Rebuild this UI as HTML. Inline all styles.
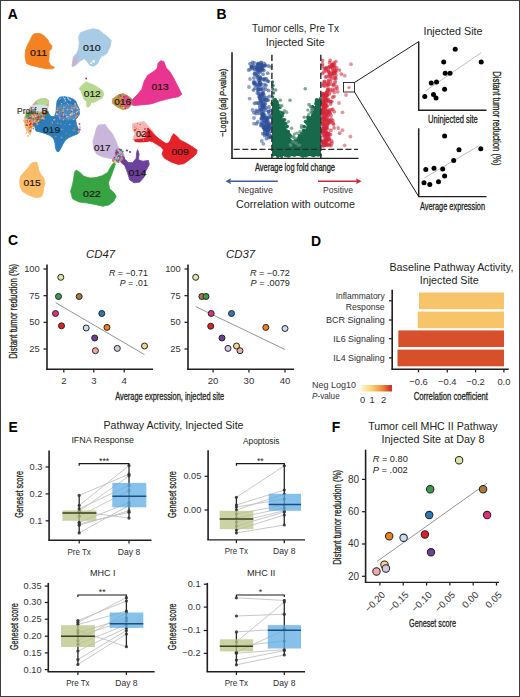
<!DOCTYPE html>
<html><head><meta charset="utf-8"><style>
html,body{margin:0;padding:0;background:#fff;}
svg{display:block;}
text{font-family:"Liberation Sans", sans-serif;}
</style></head><body>
<svg width="520" height="697" viewBox="0 0 520 697">
<rect x="0" y="0" width="520" height="697" fill="#fff"/>
<text x="7.8" y="19.4" font-size="13.9" text-anchor="start" fill="#000" font-weight="bold" >A</text>
<text x="216.4" y="19.4" font-size="13.9" text-anchor="start" fill="#000" font-weight="bold" >B</text>
<text x="8.1" y="245.4" font-size="13.9" text-anchor="start" fill="#000" font-weight="bold" >C</text>
<text x="311" y="245.5" font-size="13.9" text-anchor="start" fill="#000" font-weight="bold" >D</text>
<text x="8.4" y="431.7" font-size="13.9" text-anchor="start" fill="#000" font-weight="bold" >E</text>
<text x="331.8" y="432.1" font-size="13.9" text-anchor="start" fill="#000" font-weight="bold" >F</text>
<defs><filter id="fb" x="-5%" y="-5%" width="110%" height="110%"><feGaussianBlur stdDeviation="0.35"/></filter></defs><g filter="url(#fb)">
<path d="M34.2,33.7 L40.0,33.5 L43.8,35.6 L47.7,39.4 L49.6,43.3 L52.0,45.7 L51.5,49.0 L49.1,51.0 L49.1,55.8 L48.7,61.5 L50.6,65.4 L54.4,67.3 L53.0,68.8 L46.7,68.8 L39.0,67.3 L31.3,65.4 L26.5,63.5 L25.1,56.7 L25.6,50.0 L27.5,45.2 L30.4,39.4 L32.3,35.6Z" fill="#f58220" stroke="#f58220" stroke-width="0.8" stroke-linejoin="round"/>
<path d="M80.4,32.7 L87.1,30.3 L92.9,28.8 L98.7,29.8 L103.5,33.7 L107.3,36.5 L111.2,40.4 L110.2,46.2 L107.3,52.9 L103.5,55.8 L99.6,58.7 L97.7,63.5 L93.8,66.3 L90.0,65.4 L87.1,61.5 L84.2,58.7 L79.4,61.5 L75.6,65.4 L72.2,65.4 L73.2,56.7 L76.5,53.8 L78.5,49.0 L79.4,42.3 L78.5,37.5Z" fill="#a8cce6" stroke="#a8cce6" stroke-width="0.8" stroke-linejoin="round"/>
<path d="M86.2,81.9 L90.0,83.5 L93.8,85.0 L97.7,87.3 L102.3,90.4 L103.8,94.2 L102.3,98.0 L99.2,99.6 L95.4,101.9 L90.8,102.7 L90.0,105.8 L87.7,107.3 L86.5,105.8 L86.9,101.9 L83.8,98.8 L82.3,95.0 L80.8,90.4 L79.2,88.8 L80.8,86.5 L83.8,83.5Z" fill="#b6d88f" stroke="#b6d88f" stroke-width="0.8" stroke-linejoin="round"/>
<path d="M160.6,60.7 L163.8,61.5 L166.3,68.1 L169.6,71.3 L173.6,77.9 L176.9,84.4 L180.2,91.0 L181.8,94.2 L178.6,96.7 L170.4,98.3 L160.6,100.8 L150.8,104.0 L141.0,104.9 L134.0,105.5 L130.0,104.0 L129.5,101.5 L133.0,99.1 L137.7,94.2 L141.8,89.3 L144.2,81.2 L147.5,75.4 L154.0,71.3 L157.3,68.1 L158.1,63.2Z" fill="#e8358f" stroke="#e8358f" stroke-width="0.8" stroke-linejoin="round"/>
<path d="M112.4,99.1 L118.1,95.0 L123.0,93.4 L127.9,95.9 L132.0,99.1 L132.0,104.0 L128.7,108.1 L123.0,109.8 L116.4,106.5 L112.4,103.2Z" fill="#c0944c" stroke="#c0944c" stroke-width="0.8" stroke-linejoin="round"/>
<path d="M32.1,162.7 L36.9,162.2 L37.9,165.6 L38.8,170.4 L40.8,174.2 L43.7,178.1 L45.1,182.9 L43.7,187.7 L43.2,192.5 L41.7,196.3 L37.9,197.8 L33.1,196.8 L27.3,194.4 L22.5,191.5 L20.1,186.7 L19.6,181.0 L20.6,176.2 L24.4,171.8 L28.3,167.5 L30.7,164.1Z" fill="#fbbd6b" stroke="#fbbd6b" stroke-width="0.8" stroke-linejoin="round"/>
<path d="M76.2,170.0 L80.0,172.5 L83.8,176.2 L90.0,178.1 L96.2,177.5 L102.5,175.6 L107.5,172.5 L111.2,166.2 L113.8,162.5 L115.5,164.0 L112.0,173.8 L108.5,182.5 L109.5,188.8 L113.8,192.5 L116.2,196.2 L113.8,201.2 L108.8,205.0 L102.5,206.2 L95.0,204.4 L87.5,203.1 L78.8,201.9 L72.5,198.8 L70.6,191.2 L72.5,185.0 L73.8,177.5 L74.4,172.5Z" fill="#37a343" stroke="#37a343" stroke-width="0.8" stroke-linejoin="round"/>
<path d="M132.6,123.7 L139.8,122.2 L144.1,121.5 L148.5,126.5 L152.8,130.9 L155.7,136.6 L154.2,140.2 L145.6,141.0 L136.9,141.7 L132.6,139.5 L134.8,133.8 L132.6,128.7Z" fill="#f5b5b2" stroke="#f5b5b2" stroke-width="0.8" stroke-linejoin="round"/>
<path d="M148.0,128.0 L151.0,131.0 L154.0,134.5 L158.0,138.0 L162.0,141.0 L166.0,143.5 L168.5,143.0 L170.5,140.0 L171.5,137.0 L173.5,133.8 L176.9,136.2 L180.4,140.2 L186.2,143.1 L191.9,146.5 L197.1,150.0 L196.5,153.5 L193.1,156.9 L188.5,160.4 L183.8,163.8 L178.1,164.4 L171.2,162.1 L164.2,158.1 L162.0,154.0 L163.5,150.0 L161.0,147.0 L157.0,144.5 L153.0,142.0 L149.5,141.0 L146.5,141.5 L144.0,140.5Z" fill="#e5202a" stroke="#e5202a" stroke-width="0.8" stroke-linejoin="round"/>
<path d="M98.7,125.1 L105.2,124.4 L108.1,128.7 L112.4,133.8 L115.3,139.5 L117.5,145.3 L119.6,151.1 L121.1,155.4 L118.2,158.3 L113.8,159.0 L109.5,158.3 L102.3,156.8 L96.5,153.9 L93.7,148.2 L92.9,141.0 L95.1,133.8 L96.5,128.0Z" fill="#cab6da" stroke="#cab6da" stroke-width="0.8" stroke-linejoin="round"/>
<path d="M137.6,149.6 L139.1,153.9 L138.4,159.7 L142.7,161.2 L148.5,160.4 L149.2,164.8 L145.6,171.3 L144.1,177.0 L139.8,182.1 L134.0,182.8 L129.7,179.9 L127.5,172.7 L124.7,165.5 L121.1,162.6 L119.6,158.3 L123.9,158.3 L128.3,162.6 L132.6,162.6 L136.2,158.3 L136.6,152.5Z" fill="#6b439c" stroke="#6b439c" stroke-width="0.8" stroke-linejoin="round"/>
<path d="M134.0,139.5 L140.0,138.8 L146.0,138.0 L150.0,136.5 L152.5,139.5 L147.0,142.0 L140.0,142.5 L135.0,142.0Z" fill="#e5202a" />
<circle cx="140.1" cy="124.5" r="0.5289745146670171" fill="#e31a1c" fill-opacity="0.9"/>
<circle cx="145.0" cy="128.9" r="0.863881625257241" fill="#e31a1c" fill-opacity="0.9"/>
<circle cx="137.6" cy="123.2" r="0.5279421694298476" fill="#f06060" fill-opacity="0.9"/>
<circle cx="134.7" cy="130.1" r="0.878979880282995" fill="#e31a1c" fill-opacity="0.9"/>
<circle cx="147.2" cy="133.3" r="0.7308411794469994" fill="#e31a1c" fill-opacity="0.9"/>
<circle cx="141.8" cy="141.2" r="0.722665959174837" fill="#e31a1c" fill-opacity="0.9"/>
<circle cx="135.7" cy="130.0" r="0.7283654758586937" fill="#e31a1c" fill-opacity="0.9"/>
<circle cx="145.5" cy="135.3" r="0.7326400654649865" fill="#e31a1c" fill-opacity="0.9"/>
<circle cx="147.4" cy="129.0" r="0.7257473172533546" fill="#e31a1c" fill-opacity="0.9"/>
<circle cx="146.9" cy="131.5" r="0.8108915099923228" fill="#f06060" fill-opacity="0.9"/>
<circle cx="143.4" cy="140.2" r="0.6199067987454729" fill="#fb9a99" fill-opacity="0.9"/>
<circle cx="151.0" cy="135.6" r="0.532742004318308" fill="#e31a1c" fill-opacity="0.9"/>
<circle cx="139.5" cy="131.5" r="0.7917781157756871" fill="#fb9a99" fill-opacity="0.9"/>
<circle cx="139.3" cy="141.3" r="0.7047731322590196" fill="#e31a1c" fill-opacity="0.9"/>
<circle cx="136.4" cy="128.4" r="0.6686793417906978" fill="#f06060" fill-opacity="0.9"/>
<circle cx="145.5" cy="137.4" r="0.6360489448764782" fill="#fb9a99" fill-opacity="0.9"/>
<circle cx="140.7" cy="131.5" r="0.5275051797627442" fill="#f06060" fill-opacity="0.9"/>
<circle cx="134.8" cy="127.0" r="0.5242677710388879" fill="#e31a1c" fill-opacity="0.9"/>
<circle cx="148.8" cy="134.6" r="0.6138382128376597" fill="#f06060" fill-opacity="0.9"/>
<circle cx="141.5" cy="135.0" r="0.8762594266584376" fill="#e31a1c" fill-opacity="0.9"/>
<circle cx="140.8" cy="133.8" r="0.5235817677325242" fill="#f06060" fill-opacity="0.9"/>
<circle cx="138.3" cy="129.4" r="0.5322325204800554" fill="#f06060" fill-opacity="0.9"/>
<path d="M77.0,55.0 L79.5,56.5 L78.0,60.0 L75.5,64.0 L73.5,67.0 L71.8,66.5 L72.5,62.0 L74.5,58.0Z" fill="#c9b3d6" />
<circle cx="75.3" cy="61.6" r="0.7457839513507224" fill="#cab2d6" fill-opacity="0.9"/>
<circle cx="78.5" cy="58.3" r="0.7959401243003559" fill="#a6cee3" fill-opacity="0.9"/>
<circle cx="77.1" cy="59.6" r="0.5452762717373327" fill="#cab2d6" fill-opacity="0.9"/>
<circle cx="73.6" cy="60.8" r="0.5788239857895614" fill="#cab2d6" fill-opacity="0.9"/>
<circle cx="74.6" cy="61.8" r="0.7071480971407934" fill="#cab2d6" fill-opacity="0.9"/>
<circle cx="75.8" cy="62.4" r="0.6369931166608624" fill="#fb9a99" fill-opacity="0.9"/>
<circle cx="74.9" cy="59.7" r="0.6902868697057127" fill="#a6cee3" fill-opacity="0.9"/>
<circle cx="72.0" cy="65.5" r="0.5445651455992674" fill="#a6cee3" fill-opacity="0.9"/>
<circle cx="75.4" cy="60.8" r="0.5432352470655463" fill="#fb9a99" fill-opacity="0.9"/>
<circle cx="75.5" cy="63.3" r="0.5615645020104623" fill="#fb9a99" fill-opacity="0.9"/>
<circle cx="93.5" cy="61.5" r="1.4" fill="#fff"/>
<circle cx="91.0" cy="63.2" r="0.9" fill="#fff"/>
<circle cx="102.0" cy="56.5" r="0.8" fill="#eef4f8"/>
<path d="M31.0,127.0 L34.0,121.0 L38.0,117.5 L43.0,114.5 L47.5,111.0 L48.5,113.0 L51.0,116.5 L54.5,116.5 L56.0,112.0 L56.5,106.0 L57.0,101.0 L59.5,97.2 L64.0,96.5 L69.0,97.5 L73.0,99.0 L75.7,101.0 L77.5,105.5 L79.3,109.0 L79.3,114.6 L77.0,118.0 L75.7,119.5 L76.5,125.0 L78.4,129.0 L79.5,132.0 L77.5,134.0 L73.5,135.5 L69.0,137.5 L65.5,140.0 L63.0,144.0 L61.0,148.0 L59.0,151.5 L57.0,151.5 L55.5,148.0 L55.0,143.0 L53.5,138.5 L50.0,135.5 L45.0,133.5 L40.0,132.0 L36.0,131.0 L34.5,126.0Z" fill="#2a7bba" stroke="#2a7bba" stroke-width="0.8" stroke-linejoin="round"/>
<path d="M24.5,118.0 L26.0,113.0 L29.0,109.0 L33.0,104.5 L36.5,100.5 L41.0,98.7 L46.0,98.5 L48.5,100.5 L48.5,105.0 L47.5,109.0 L46.0,112.0 L41.0,115.5 L36.0,119.0 L33.0,123.0 L31.5,130.0 L30.0,134.5 L27.0,131.0 L25.0,126.0Z" fill="#c7ab8c" stroke="#c7ab8c" stroke-width="0.6" stroke-linejoin="round"/>
<path d="M36.0,101.0 L41.0,98.9 L46.0,98.7 L48.3,100.7 L48.2,104.0 L44.0,105.5 L38.0,105.0Z" fill="#b4d98d" />
<path d="M32.5,105.0 L38.0,105.2 L41.0,107.5 L39.0,110.5 L34.0,110.0Z" fill="#b9d3e3" />
<path d="M26.3,113.5 L29.0,110.5 L33.0,112.5 L33.5,117.5 L28.0,119.5 L25.5,117.0Z" fill="#56a862" />
<path d="M24.6,118.5 L27.5,119.0 L30.5,121.0 L31.5,126.0 L31.0,131.0 L30.0,134.5 L27.0,131.0 L25.0,126.0Z" fill="#f5bd86" />
<path d="M30.0,106.5 L36.0,104.5 L44.0,104.8 L47.8,106.0 L47.8,110.0 L44.0,111.5 L36.0,111.5 L30.0,110.5Z" fill="#d3e2e8" />
<circle cx="43.5" cy="114.2" r="0.9453300121158675" fill="#cab2d6" fill-opacity="0.8"/>
<circle cx="42.3" cy="113.7" r="0.963303417465216" fill="#a6cee3" fill-opacity="0.8"/>
<circle cx="35.3" cy="113.1" r="0.9116219565352709" fill="#1f78b4" fill-opacity="0.8"/>
<circle cx="34.8" cy="113.1" r="0.922431433914267" fill="#fb9a99" fill-opacity="0.8"/>
<circle cx="32.6" cy="117.2" r="0.8924015969901684" fill="#a6cee3" fill-opacity="0.8"/>
<circle cx="37.7" cy="112.7" r="0.9826060305365352" fill="#1f78b4" fill-opacity="0.8"/>
<circle cx="37.2" cy="123.1" r="0.9820002525285333" fill="#a6cee3" fill-opacity="0.8"/>
<circle cx="35.5" cy="113.1" r="0.788031992902476" fill="#fb9a99" fill-opacity="0.8"/>
<circle cx="34.9" cy="116.8" r="0.9361742109117159" fill="#1f78b4" fill-opacity="0.8"/>
<circle cx="37.8" cy="119.1" r="0.633911394580152" fill="#cab2d6" fill-opacity="0.8"/>
<circle cx="37.8" cy="112.5" r="0.733006879945844" fill="#cab2d6" fill-opacity="0.8"/>
<circle cx="36.1" cy="115.6" r="0.889919466253686" fill="#ff7f00" fill-opacity="0.8"/>
<circle cx="31.5" cy="111.8" r="0.8363249209667805" fill="#6a3d9a" fill-opacity="0.8"/>
<circle cx="37.5" cy="119.2" r="0.9306041914101548" fill="#1f78b4" fill-opacity="0.8"/>
<circle cx="35.2" cy="117.7" r="0.6085586697287647" fill="#6a3d9a" fill-opacity="0.8"/>
<circle cx="28.6" cy="113.0" r="0.6962157570233338" fill="#1f78b4" fill-opacity="0.8"/>
<circle cx="40.0" cy="113.6" r="0.9336779985757877" fill="#b15928" fill-opacity="0.8"/>
<circle cx="44.7" cy="117.2" r="0.6523053036088495" fill="#1f78b4" fill-opacity="0.8"/>
<circle cx="31.1" cy="117.1" r="0.9106024628374215" fill="#fdbf6f" fill-opacity="0.8"/>
<circle cx="40.5" cy="120.9" r="0.6689386848853796" fill="#6a3d9a" fill-opacity="0.8"/>
<circle cx="37.7" cy="120.2" r="0.6247021148383085" fill="#1f78b4" fill-opacity="0.8"/>
<circle cx="42.0" cy="117.4" r="0.9137089901461902" fill="#fdbf6f" fill-opacity="0.8"/>
<circle cx="30.2" cy="117.8" r="0.6765224524644526" fill="#fb9a99" fill-opacity="0.8"/>
<circle cx="28.9" cy="111.4" r="0.8246917546625905" fill="#fdbf6f" fill-opacity="0.8"/>
<circle cx="37.1" cy="118.6" r="0.8424550727372213" fill="#1f78b4" fill-opacity="0.8"/>
<circle cx="32.1" cy="113.9" r="0.8133141750316684" fill="#1f78b4" fill-opacity="0.8"/>
<circle cx="47.3" cy="113.6" r="0.957101976702413" fill="#1f78b4" fill-opacity="0.8"/>
<circle cx="32.2" cy="116.3" r="0.6486487817536722" fill="#b15928" fill-opacity="0.8"/>
<circle cx="46.4" cy="112.2" r="0.8573831995137229" fill="#33a02c" fill-opacity="0.8"/>
<circle cx="35.5" cy="113.5" r="0.9870179130665535" fill="#6a3d9a" fill-opacity="0.8"/>
<circle cx="36.2" cy="116.8" r="0.932977867793179" fill="#cab2d6" fill-opacity="0.8"/>
<circle cx="31.3" cy="116.0" r="0.7615239004466419" fill="#1f78b4" fill-opacity="0.8"/>
<circle cx="36.6" cy="115.0" r="0.8888603340564742" fill="#ff7f00" fill-opacity="0.8"/>
<circle cx="28.4" cy="117.8" r="0.8812605500760138" fill="#fdbf6f" fill-opacity="0.8"/>
<circle cx="35.9" cy="117.2" r="0.8049049137853822" fill="#33a02c" fill-opacity="0.8"/>
<circle cx="30.1" cy="113.7" r="0.9623594754308386" fill="#e31a1c" fill-opacity="0.8"/>
<circle cx="31.7" cy="120.6" r="0.939835130904358" fill="#b15928" fill-opacity="0.8"/>
<circle cx="36.3" cy="117.5" r="0.8282379701573015" fill="#1f78b4" fill-opacity="0.8"/>
<circle cx="45.6" cy="110.9" r="0.7815094083891699" fill="#ff7f00" fill-opacity="0.8"/>
<circle cx="35.0" cy="117.7" r="0.8486813817299151" fill="#33a02c" fill-opacity="0.8"/>
<circle cx="33.4" cy="112.5" r="0.8514684388190668" fill="#33a02c" fill-opacity="0.8"/>
<circle cx="38.9" cy="112.9" r="0.8000354399447358" fill="#fdbf6f" fill-opacity="0.8"/>
<circle cx="31.6" cy="114.9" r="0.9977995939566158" fill="#e31a1c" fill-opacity="0.8"/>
<circle cx="38.5" cy="113.4" r="0.6425125380108365" fill="#fdbf6f" fill-opacity="0.8"/>
<circle cx="44.8" cy="116.1" r="0.8183625007707296" fill="#fdbf6f" fill-opacity="0.8"/>
<circle cx="34.3" cy="113.0" r="0.7370818501669898" fill="#fb9a99" fill-opacity="0.8"/>
<circle cx="41.0" cy="115.7" r="0.9927527727317468" fill="#a6cee3" fill-opacity="0.8"/>
<circle cx="41.6" cy="115.3" r="0.8682173191634714" fill="#1f78b4" fill-opacity="0.8"/>
<circle cx="33.8" cy="113.4" r="0.618094996987143" fill="#33a02c" fill-opacity="0.8"/>
<circle cx="31.8" cy="113.8" r="0.7052972267989557" fill="#e31a1c" fill-opacity="0.8"/>
<circle cx="39.2" cy="113.4" r="0.6871463428633926" fill="#33a02c" fill-opacity="0.8"/>
<circle cx="31.8" cy="114.7" r="0.7898574509588744" fill="#ff7f00" fill-opacity="0.8"/>
<circle cx="38.3" cy="112.8" r="0.910495230570288" fill="#1f78b4" fill-opacity="0.8"/>
<circle cx="30.9" cy="118.2" r="0.608997658788103" fill="#b15928" fill-opacity="0.8"/>
<circle cx="34.2" cy="113.3" r="0.9830548719441579" fill="#1f78b4" fill-opacity="0.8"/>
<circle cx="45.5" cy="112.2" r="0.913616442320021" fill="#33a02c" fill-opacity="0.8"/>
<circle cx="40.2" cy="120.7" r="0.9938916340297185" fill="#33a02c" fill-opacity="0.8"/>
<circle cx="31.1" cy="120.1" r="0.6579008848780038" fill="#cab2d6" fill-opacity="0.8"/>
<circle cx="38.5" cy="116.0" r="0.9248875662849576" fill="#33a02c" fill-opacity="0.8"/>
<circle cx="30.9" cy="117.3" r="0.8273917997924614" fill="#1f78b4" fill-opacity="0.8"/>
<circle cx="28.4" cy="117.4" r="0.7957177259439018" fill="#fb9a99" fill-opacity="0.8"/>
<circle cx="43.3" cy="117.0" r="0.6367767711260899" fill="#1f78b4" fill-opacity="0.8"/>
<circle cx="38.8" cy="120.4" r="0.7008774125850761" fill="#fdbf6f" fill-opacity="0.8"/>
<circle cx="29.5" cy="113.7" r="0.9025765603936241" fill="#33a02c" fill-opacity="0.8"/>
<circle cx="32.7" cy="119.1" r="0.7975795115397312" fill="#fdbf6f" fill-opacity="0.8"/>
<circle cx="35.8" cy="116.7" r="0.714927666684896" fill="#cab2d6" fill-opacity="0.8"/>
<circle cx="29.0" cy="118.9" r="0.6309887278071202" fill="#fb9a99" fill-opacity="0.8"/>
<circle cx="31.0" cy="113.6" r="0.8771547296774898" fill="#33a02c" fill-opacity="0.8"/>
<circle cx="40.7" cy="111.9" r="0.6242644056254567" fill="#fdbf6f" fill-opacity="0.8"/>
<circle cx="33.5" cy="119.4" r="0.6870773842206825" fill="#33a02c" fill-opacity="0.8"/>
<circle cx="38.0" cy="119.9" r="0.7858651413497257" fill="#33a02c" fill-opacity="0.8"/>
<circle cx="37.6" cy="111.7" r="0.6797000119438013" fill="#1f78b4" fill-opacity="0.8"/>
<circle cx="28.4" cy="116.4" r="0.9872433006602799" fill="#1f78b4" fill-opacity="0.8"/>
<circle cx="37.2" cy="113.8" r="0.9666219113635637" fill="#fb9a99" fill-opacity="0.8"/>
<circle cx="47.1" cy="111.0" r="0.6566962711438125" fill="#ff7f00" fill-opacity="0.8"/>
<circle cx="38.4" cy="122.4" r="0.7460754103403795" fill="#33a02c" fill-opacity="0.8"/>
<circle cx="38.2" cy="122.3" r="0.6099337612362661" fill="#b15928" fill-opacity="0.8"/>
<circle cx="37.2" cy="114.2" r="0.766472477745891" fill="#6a3d9a" fill-opacity="0.8"/>
<circle cx="35.7" cy="111.7" r="0.6006965527670013" fill="#a6cee3" fill-opacity="0.8"/>
<circle cx="33.9" cy="115.2" r="0.7560644268953577" fill="#b15928" fill-opacity="0.8"/>
<circle cx="45.8" cy="111.1" r="0.9022625573729135" fill="#b15928" fill-opacity="0.8"/>
<circle cx="45.5" cy="113.9" r="0.9338703979908769" fill="#e31a1c" fill-opacity="0.8"/>
<circle cx="33.1" cy="113.7" r="0.7262405490572722" fill="#1f78b4" fill-opacity="0.8"/>
<circle cx="43.6" cy="115.6" r="0.8196912592751855" fill="#1f78b4" fill-opacity="0.8"/>
<circle cx="43.0" cy="116.3" r="0.8577962841674054" fill="#6a3d9a" fill-opacity="0.8"/>
<circle cx="47.0" cy="111.8" r="0.7659466604699577" fill="#fdbf6f" fill-opacity="0.8"/>
<circle cx="33.8" cy="113.6" r="0.9905184705639416" fill="#33a02c" fill-opacity="0.8"/>
<circle cx="33.3" cy="119.2" r="0.7932728098551085" fill="#33a02c" fill-opacity="0.8"/>
<circle cx="41.7" cy="111.7" r="0.6646627845620232" fill="#cab2d6" fill-opacity="0.8"/>
<circle cx="38.2" cy="113.1" r="0.9985900454498764" fill="#a6cee3" fill-opacity="0.8"/>
<circle cx="37.2" cy="112.0" r="0.6976342531761959" fill="#fb9a99" fill-opacity="0.8"/>
<circle cx="31.6" cy="117.8" r="0.6956506322869818" fill="#a6cee3" fill-opacity="0.8"/>
<circle cx="33.3" cy="118.0" r="0.8998630430418715" fill="#e31a1c" fill-opacity="0.8"/>
<circle cx="36.5" cy="115.8" r="0.6840019743945176" fill="#1f78b4" fill-opacity="0.8"/>
<circle cx="33.5" cy="120.5" r="0.7110065387913012" fill="#fdbf6f" fill-opacity="0.8"/>
<circle cx="47.8" cy="111.8" r="0.8116902787376252" fill="#1f78b4" fill-opacity="0.8"/>
<circle cx="35.9" cy="119.0" r="0.9815774301052571" fill="#b15928" fill-opacity="0.8"/>
<circle cx="37.7" cy="118.2" r="0.629255152915481" fill="#e31a1c" fill-opacity="0.8"/>
<circle cx="38.8" cy="116.6" r="0.6993861132356738" fill="#fdbf6f" fill-opacity="0.8"/>
<circle cx="30.2" cy="112.2" r="0.9887550076308103" fill="#1f78b4" fill-opacity="0.8"/>
<circle cx="46.3" cy="111.2" r="0.600546415991481" fill="#e31a1c" fill-opacity="0.8"/>
<circle cx="30.6" cy="118.0" r="0.8582023105472971" fill="#e31a1c" fill-opacity="0.8"/>
<circle cx="34.2" cy="111.8" r="0.8113012571224305" fill="#33a02c" fill-opacity="0.8"/>
<circle cx="37.0" cy="120.7" r="0.6281407633434214" fill="#ff7f00" fill-opacity="0.8"/>
<circle cx="38.8" cy="118.2" r="0.704352752040574" fill="#b15928" fill-opacity="0.8"/>
<circle cx="33.7" cy="114.4" r="0.7901216880270174" fill="#fb9a99" fill-opacity="0.8"/>
<circle cx="32.8" cy="113.5" r="0.8818614651252328" fill="#b15928" fill-opacity="0.8"/>
<circle cx="38.2" cy="119.4" r="0.6324368275918248" fill="#b15928" fill-opacity="0.8"/>
<circle cx="32.7" cy="115.9" r="0.6907144292978747" fill="#a6cee3" fill-opacity="0.8"/>
<circle cx="28.7" cy="114.7" r="0.7449279567079743" fill="#b15928" fill-opacity="0.8"/>
<circle cx="34.0" cy="121.8" r="0.6820874348154533" fill="#ff7f00" fill-opacity="0.8"/>
<circle cx="44.8" cy="113.2" r="0.7060087822689733" fill="#fb9a99" fill-opacity="0.8"/>
<circle cx="46.2" cy="111.5" r="0.7983058917823384" fill="#1f78b4" fill-opacity="0.8"/>
<circle cx="31.8" cy="113.1" r="0.9641583998957105" fill="#b15928" fill-opacity="0.8"/>
<circle cx="29.2" cy="118.3" r="0.6217433518557223" fill="#b15928" fill-opacity="0.8"/>
<circle cx="28.5" cy="118.3" r="0.6207362166340905" fill="#b15928" fill-opacity="0.8"/>
<circle cx="29.2" cy="115.5" r="0.9534334549731015" fill="#33a02c" fill-opacity="0.8"/>
<circle cx="47.1" cy="114.6" r="0.8609872994896219" fill="#6a3d9a" fill-opacity="0.8"/>
<circle cx="38.8" cy="116.5" r="0.8657719454925576" fill="#33a02c" fill-opacity="0.8"/>
<circle cx="35.8" cy="115.2" r="0.776974058655682" fill="#a6cee3" fill-opacity="0.8"/>
<circle cx="29.7" cy="115.9" r="0.8244515656360125" fill="#ff7f00" fill-opacity="0.8"/>
<circle cx="43.6" cy="115.3" r="0.9288031929848678" fill="#33a02c" fill-opacity="0.8"/>
<circle cx="37.7" cy="115.2" r="0.6772104749778187" fill="#fdbf6f" fill-opacity="0.8"/>
<circle cx="35.5" cy="122.6" r="0.8526648503863865" fill="#e31a1c" fill-opacity="0.8"/>
<circle cx="33.1" cy="118.8" r="0.616259793566369" fill="#b15928" fill-opacity="0.8"/>
<circle cx="46.9" cy="113.6" r="0.625140696461653" fill="#33a02c" fill-opacity="0.8"/>
<circle cx="40.4" cy="115.1" r="0.9830758421235156" fill="#a6cee3" fill-opacity="0.8"/>
<circle cx="40.6" cy="113.7" r="0.8758309373750794" fill="#33a02c" fill-opacity="0.8"/>
<circle cx="46.9" cy="114.2" r="0.9022609490024094" fill="#33a02c" fill-opacity="0.8"/>
<circle cx="47.3" cy="110.3" r="0.6429045482730539" fill="#fb9a99" fill-opacity="0.8"/>
<circle cx="42.7" cy="116.5" r="0.9159195430607998" fill="#b15928" fill-opacity="0.8"/>
<circle cx="30.7" cy="117.0" r="0.9210273293586261" fill="#e31a1c" fill-opacity="0.8"/>
<circle cx="43.8" cy="118.5" r="0.9444969484792614" fill="#a6cee3" fill-opacity="0.8"/>
<circle cx="37.4" cy="121.0" r="0.6316059485432052" fill="#1f78b4" fill-opacity="0.8"/>
<circle cx="32.0" cy="120.5" r="0.763102707459727" fill="#fb9a99" fill-opacity="0.8"/>
<circle cx="41.3" cy="116.7" r="0.7303033416291844" fill="#1f78b4" fill-opacity="0.8"/>
<circle cx="29.7" cy="111.3" r="0.9953728547983502" fill="#fdbf6f" fill-opacity="0.8"/>
<circle cx="47.9" cy="112.4" r="0.7667362524894588" fill="#6a3d9a" fill-opacity="0.8"/>
<circle cx="40.7" cy="119.4" r="0.8154258365839334" fill="#33a02c" fill-opacity="0.8"/>
<circle cx="44.0" cy="114.1" r="0.8267536826958235" fill="#33a02c" fill-opacity="0.8"/>
<circle cx="35.6" cy="120.3" r="0.7757591046316299" fill="#fb9a99" fill-opacity="0.8"/>
<circle cx="31.8" cy="113.3" r="0.9536671278106219" fill="#33a02c" fill-opacity="0.8"/>
<circle cx="39.9" cy="114.6" r="0.7006614982856771" fill="#b15928" fill-opacity="0.8"/>
<circle cx="33.0" cy="117.4" r="0.9233771565572693" fill="#cab2d6" fill-opacity="0.8"/>
<circle cx="30.1" cy="116.6" r="0.9362225456485067" fill="#fb9a99" fill-opacity="0.8"/>
<circle cx="46.7" cy="110.6" r="0.6931570712304611" fill="#33a02c" fill-opacity="0.8"/>
<circle cx="29.0" cy="118.4" r="0.6776646433179788" fill="#1f78b4" fill-opacity="0.8"/>
<circle cx="29.5" cy="117.2" r="0.7796455431075161" fill="#6a3d9a" fill-opacity="0.8"/>
<circle cx="33.3" cy="120.9" r="0.6423120249434032" fill="#e31a1c" fill-opacity="0.8"/>
<circle cx="40.2" cy="118.7" r="0.6149818043968336" fill="#fb9a99" fill-opacity="0.8"/>
<circle cx="35.8" cy="112.8" r="0.6152943986637096" fill="#fb9a99" fill-opacity="0.85"/>
<circle cx="37.0" cy="118.3" r="0.6311739063364499" fill="#fb9a99" fill-opacity="0.85"/>
<circle cx="30.5" cy="120.4" r="0.6253084314112962" fill="#6a3d9a" fill-opacity="0.85"/>
<circle cx="31.7" cy="118.7" r="0.8556727782905017" fill="#33a02c" fill-opacity="0.85"/>
<circle cx="31.5" cy="114.8" r="0.7639155685551129" fill="#fb9a99" fill-opacity="0.85"/>
<circle cx="34.8" cy="117.2" r="0.7249447546760367" fill="#e31a1c" fill-opacity="0.85"/>
<circle cx="39.6" cy="118.1" r="0.6072852726705263" fill="#fdbf6f" fill-opacity="0.85"/>
<circle cx="41.0" cy="118.6" r="0.6814668683468921" fill="#fdbf6f" fill-opacity="0.85"/>
<circle cx="37.8" cy="114.8" r="0.6206781612382765" fill="#e31a1c" fill-opacity="0.85"/>
<circle cx="32.4" cy="125.7" r="0.6356124447967544" fill="#fdbf6f" fill-opacity="0.85"/>
<circle cx="40.6" cy="118.3" r="0.6583547304509428" fill="#33a02c" fill-opacity="0.85"/>
<circle cx="34.8" cy="120.9" r="0.6435171377174101" fill="#ff7f00" fill-opacity="0.85"/>
<circle cx="46.4" cy="115.4" r="0.9349169163199536" fill="#33a02c" fill-opacity="0.85"/>
<circle cx="35.3" cy="122.3" r="0.6345177707201863" fill="#fdbf6f" fill-opacity="0.85"/>
<circle cx="40.5" cy="115.3" r="0.6731862174434282" fill="#6a3d9a" fill-opacity="0.85"/>
<circle cx="33.7" cy="118.8" r="0.7534305493808021" fill="#33a02c" fill-opacity="0.85"/>
<circle cx="32.1" cy="116.2" r="0.6164396133537963" fill="#a6cee3" fill-opacity="0.85"/>
<circle cx="32.0" cy="122.2" r="0.8596111429335829" fill="#fb9a99" fill-opacity="0.85"/>
<circle cx="35.2" cy="116.2" r="0.8635370831711591" fill="#fdbf6f" fill-opacity="0.85"/>
<circle cx="37.6" cy="119.5" r="0.6014032382336016" fill="#e31a1c" fill-opacity="0.85"/>
<circle cx="37.6" cy="122.5" r="0.9346180593358547" fill="#6a3d9a" fill-opacity="0.85"/>
<circle cx="43.8" cy="118.8" r="0.6513823519902678" fill="#ff7f00" fill-opacity="0.85"/>
<circle cx="37.3" cy="113.6" r="0.8017368242447414" fill="#6a3d9a" fill-opacity="0.85"/>
<circle cx="41.2" cy="112.7" r="0.6328964111868322" fill="#33a02c" fill-opacity="0.85"/>
<circle cx="38.7" cy="112.9" r="0.8610982625212311" fill="#fdbf6f" fill-opacity="0.85"/>
<circle cx="43.3" cy="112.4" r="0.9984496730986946" fill="#ff7f00" fill-opacity="0.85"/>
<circle cx="33.3" cy="128.7" r="0.7151526390213945" fill="#6a3d9a" fill-opacity="0.85"/>
<circle cx="33.8" cy="126.2" r="0.6635069797153442" fill="#fb9a99" fill-opacity="0.85"/>
<circle cx="45.2" cy="116.7" r="0.6574289180462402" fill="#6a3d9a" fill-opacity="0.85"/>
<circle cx="33.5" cy="116.5" r="0.7276310067542402" fill="#a6cee3" fill-opacity="0.85"/>
<circle cx="30.6" cy="115.1" r="0.8546287117493264" fill="#33a02c" fill-opacity="0.85"/>
<circle cx="34.7" cy="117.6" r="0.6674968176845436" fill="#fdbf6f" fill-opacity="0.85"/>
<circle cx="43.3" cy="114.0" r="0.854527470047143" fill="#e31a1c" fill-opacity="0.85"/>
<circle cx="39.4" cy="121.9" r="0.7008126377849417" fill="#ff7f00" fill-opacity="0.85"/>
<circle cx="42.5" cy="118.3" r="0.9961992990045084" fill="#fdbf6f" fill-opacity="0.85"/>
<circle cx="39.8" cy="118.1" r="0.7769126511515596" fill="#ff7f00" fill-opacity="0.85"/>
<circle cx="33.0" cy="124.6" r="0.7185533607596883" fill="#e31a1c" fill-opacity="0.85"/>
<circle cx="38.8" cy="117.3" r="0.8932155102544753" fill="#b15928" fill-opacity="0.85"/>
<circle cx="42.7" cy="115.8" r="0.8464208204317629" fill="#fb9a99" fill-opacity="0.85"/>
<circle cx="37.3" cy="120.7" r="0.6528093173754052" fill="#e31a1c" fill-opacity="0.85"/>
<circle cx="33.9" cy="123.1" r="0.6217572122890218" fill="#e31a1c" fill-opacity="0.85"/>
<circle cx="39.6" cy="117.2" r="0.8136452443130582" fill="#b15928" fill-opacity="0.85"/>
<circle cx="37.0" cy="117.1" r="0.6816737483925657" fill="#33a02c" fill-opacity="0.85"/>
<circle cx="40.6" cy="120.1" r="0.6056448100107638" fill="#33a02c" fill-opacity="0.85"/>
<circle cx="37.7" cy="113.1" r="0.9485142399831787" fill="#33a02c" fill-opacity="0.85"/>
<circle cx="43.3" cy="118.8" r="0.9868541598662616" fill="#fb9a99" fill-opacity="0.85"/>
<circle cx="39.8" cy="122.2" r="0.6993988071832036" fill="#6a3d9a" fill-opacity="0.85"/>
<circle cx="45.4" cy="112.7" r="0.7623954897691544" fill="#e31a1c" fill-opacity="0.85"/>
<circle cx="34.0" cy="113.0" r="0.6049400377650248" fill="#ff7f00" fill-opacity="0.85"/>
<circle cx="32.4" cy="115.4" r="0.9253523219024647" fill="#fdbf6f" fill-opacity="0.85"/>
<circle cx="33.0" cy="117.3" r="0.8503855259671531" fill="#fb9a99" fill-opacity="0.85"/>
<circle cx="38.1" cy="121.2" r="0.9377729905743821" fill="#fdbf6f" fill-opacity="0.85"/>
<circle cx="42.7" cy="119.9" r="0.6701566911517036" fill="#6a3d9a" fill-opacity="0.85"/>
<circle cx="40.9" cy="114.1" r="0.8846736909524586" fill="#fb9a99" fill-opacity="0.85"/>
<circle cx="34.5" cy="121.4" r="0.8742934816731512" fill="#fdbf6f" fill-opacity="0.85"/>
<circle cx="45.2" cy="113.5" r="0.6679078318487663" fill="#e31a1c" fill-opacity="0.85"/>
<circle cx="33.4" cy="114.7" r="0.6767747905259275" fill="#b15928" fill-opacity="0.85"/>
<circle cx="36.6" cy="122.2" r="0.9630273576138255" fill="#fdbf6f" fill-opacity="0.85"/>
<circle cx="37.4" cy="124.3" r="0.9156809574722233" fill="#fb9a99" fill-opacity="0.85"/>
<circle cx="36.7" cy="122.0" r="0.6578379661825705" fill="#33a02c" fill-opacity="0.85"/>
<circle cx="30.5" cy="113.8" r="0.7379454731267931" fill="#33a02c" fill-opacity="0.85"/>
<circle cx="30.7" cy="123.8" r="0.8788030894631973" fill="#e31a1c" fill-opacity="0.85"/>
<circle cx="42.5" cy="113.1" r="0.6797248775290299" fill="#b15928" fill-opacity="0.85"/>
<circle cx="36.5" cy="116.2" r="0.6447878898199219" fill="#a6cee3" fill-opacity="0.85"/>
<circle cx="34.9" cy="113.7" r="0.9167869173209783" fill="#ff7f00" fill-opacity="0.85"/>
<circle cx="41.0" cy="117.0" r="0.7695061542426336" fill="#b15928" fill-opacity="0.85"/>
<circle cx="30.4" cy="116.4" r="0.6193632147185867" fill="#fb9a99" fill-opacity="0.85"/>
<circle cx="38.1" cy="116.9" r="0.9156223428634434" fill="#e31a1c" fill-opacity="0.85"/>
<circle cx="30.5" cy="120.8" r="0.7387126668362071" fill="#ff7f00" fill-opacity="0.85"/>
<circle cx="33.7" cy="126.7" r="0.8298163647049998" fill="#ff7f00" fill-opacity="0.85"/>
<circle cx="26.6" cy="125.5" r="0.6606105505414337" fill="#fdbf6f" fill-opacity="0.9"/>
<circle cx="29.9" cy="134.1" r="0.7043411012533821" fill="#fdbf6f" fill-opacity="0.9"/>
<circle cx="28.2" cy="127.7" r="0.685118925903531" fill="#ff7f00" fill-opacity="0.9"/>
<circle cx="28.0" cy="120.3" r="0.8300428638179956" fill="#b15928" fill-opacity="0.9"/>
<circle cx="28.5" cy="120.2" r="0.7066851185898821" fill="#fb9a99" fill-opacity="0.9"/>
<circle cx="27.4" cy="124.8" r="0.6258518712717219" fill="#b15928" fill-opacity="0.9"/>
<circle cx="26.0" cy="122.7" r="0.7503570538113373" fill="#fdbf6f" fill-opacity="0.9"/>
<circle cx="26.2" cy="125.9" r="0.7782265031810306" fill="#fdbf6f" fill-opacity="0.9"/>
<circle cx="29.4" cy="128.2" r="0.7045456333046729" fill="#fdbf6f" fill-opacity="0.9"/>
<circle cx="26.9" cy="121.0" r="0.7986300532975852" fill="#e31a1c" fill-opacity="0.9"/>
<circle cx="29.7" cy="121.2" r="0.8067184093000781" fill="#e31a1c" fill-opacity="0.9"/>
<circle cx="26.4" cy="122.2" r="0.7386053919256499" fill="#fb9a99" fill-opacity="0.9"/>
<circle cx="30.7" cy="122.3" r="0.6802448346499526" fill="#ff7f00" fill-opacity="0.9"/>
<circle cx="29.8" cy="131.7" r="0.6463783012107076" fill="#fdbf6f" fill-opacity="0.9"/>
<circle cx="25.7" cy="122.5" r="0.7808685299504818" fill="#fb9a99" fill-opacity="0.9"/>
<circle cx="27.0" cy="122.3" r="0.6776064499657188" fill="#ff7f00" fill-opacity="0.9"/>
<circle cx="25.9" cy="120.9" r="0.8384663394885629" fill="#ff7f00" fill-opacity="0.9"/>
<circle cx="29.7" cy="125.5" r="0.6327837213232685" fill="#ff7f00" fill-opacity="0.9"/>
<circle cx="30.9" cy="123.0" r="0.7391749062402507" fill="#e31a1c" fill-opacity="0.9"/>
<circle cx="27.6" cy="122.1" r="0.6888639818056209" fill="#b15928" fill-opacity="0.9"/>
<circle cx="29.4" cy="127.9" r="0.7263464410140966" fill="#b15928" fill-opacity="0.9"/>
<circle cx="30.7" cy="130.9" r="0.77512840446631" fill="#b15928" fill-opacity="0.9"/>
<circle cx="26.2" cy="121.4" r="0.7361708084475893" fill="#fdbf6f" fill-opacity="0.9"/>
<circle cx="26.8" cy="128.6" r="0.8684232683917442" fill="#fdbf6f" fill-opacity="0.9"/>
<circle cx="26.3" cy="124.9" r="0.7888844113568777" fill="#b15928" fill-opacity="0.9"/>
<circle cx="26.3" cy="125.3" r="0.6058971933012502" fill="#e31a1c" fill-opacity="0.9"/>
<circle cx="30.5" cy="126.8" r="0.879059213861062" fill="#b15928" fill-opacity="0.9"/>
<circle cx="30.0" cy="124.7" r="0.87245758915235" fill="#e31a1c" fill-opacity="0.9"/>
<circle cx="25.3" cy="122.5" r="0.6482527830814184" fill="#ff7f00" fill-opacity="0.9"/>
<circle cx="30.0" cy="133.5" r="0.7044622468227603" fill="#fdbf6f" fill-opacity="0.9"/>
<circle cx="30.4" cy="125.8" r="0.8151888291740467" fill="#ff7f00" fill-opacity="0.9"/>
<circle cx="28.1" cy="128.7" r="0.7565064810429182" fill="#fb9a99" fill-opacity="0.9"/>
<circle cx="27.3" cy="130.7" r="0.8187319457183816" fill="#fdbf6f" fill-opacity="0.9"/>
<circle cx="28.8" cy="128.7" r="0.6823071652244851" fill="#fb9a99" fill-opacity="0.9"/>
<circle cx="27.5" cy="125.2" r="0.8024652317586355" fill="#b15928" fill-opacity="0.9"/>
<circle cx="28.6" cy="120.2" r="0.8224411869059749" fill="#fb9a99" fill-opacity="0.9"/>
<circle cx="31.1" cy="126.9" r="0.898269076201664" fill="#ff7f00" fill-opacity="0.9"/>
<circle cx="31.2" cy="125.9" r="0.6387897556932693" fill="#ff7f00" fill-opacity="0.9"/>
<circle cx="30.0" cy="131.5" r="0.6579516078587442" fill="#b15928" fill-opacity="0.9"/>
<circle cx="29.0" cy="130.0" r="0.705939514933611" fill="#ff7f00" fill-opacity="0.9"/>
<path d="M57.0,106.0 L62.0,104.5 L70.0,104.0 L76.5,104.5 L79.3,110.0 L79.3,114.6 L76.0,119.0 L68.0,120.5 L60.0,119.5 L56.0,115.0Z" fill="#4b8cc0" />
<circle cx="70.9" cy="117.5" r="0.6872403532151542" fill="#b15928" fill-opacity="0.9"/>
<circle cx="62.9" cy="113.0" r="0.8119386757425799" fill="#e31a1c" fill-opacity="0.9"/>
<circle cx="66.9" cy="116.9" r="0.6069697937494526" fill="#fdbf6f" fill-opacity="0.9"/>
<circle cx="64.8" cy="108.2" r="0.7715274458703092" fill="#b15928" fill-opacity="0.9"/>
<circle cx="67.2" cy="117.3" r="0.6431909687667108" fill="#a6cee3" fill-opacity="0.9"/>
<circle cx="71.2" cy="109.3" r="0.6713973093729136" fill="#cab2d6" fill-opacity="0.9"/>
<circle cx="70.8" cy="114.9" r="0.5611012665293401" fill="#d9e6f0" fill-opacity="0.9"/>
<circle cx="63.1" cy="110.4" r="0.8311599509852805" fill="#ff7f00" fill-opacity="0.9"/>
<circle cx="77.1" cy="116.9" r="0.7122591281870841" fill="#e31a1c" fill-opacity="0.9"/>
<circle cx="64.0" cy="113.6" r="0.5838997899048584" fill="#a6cee3" fill-opacity="0.9"/>
<circle cx="57.7" cy="108.8" r="0.7313948456726448" fill="#ff7f00" fill-opacity="0.9"/>
<circle cx="75.9" cy="107.1" r="0.6385776304748213" fill="#cab2d6" fill-opacity="0.9"/>
<circle cx="59.6" cy="118.9" r="0.567165105371217" fill="#fb9a99" fill-opacity="0.9"/>
<circle cx="76.8" cy="114.0" r="0.767383169834741" fill="#ff7f00" fill-opacity="0.9"/>
<circle cx="76.8" cy="117.0" r="0.5789482042028355" fill="#a6cee3" fill-opacity="0.9"/>
<circle cx="72.1" cy="112.8" r="0.7684914048990086" fill="#cab2d6" fill-opacity="0.9"/>
<circle cx="58.7" cy="106.0" r="0.593670299133819" fill="#b15928" fill-opacity="0.9"/>
<circle cx="59.2" cy="112.1" r="0.6937482519957249" fill="#a6cee3" fill-opacity="0.9"/>
<circle cx="77.1" cy="115.6" r="0.6992702638048421" fill="#fdbf6f" fill-opacity="0.9"/>
<circle cx="68.6" cy="118.2" r="0.5641429628156647" fill="#a6cee3" fill-opacity="0.9"/>
<circle cx="63.5" cy="115.5" r="0.7661202171350046" fill="#cab2d6" fill-opacity="0.9"/>
<circle cx="75.6" cy="110.2" r="0.899980163456838" fill="#b15928" fill-opacity="0.9"/>
<circle cx="71.7" cy="107.0" r="0.7544504512742805" fill="#d9e6f0" fill-opacity="0.9"/>
<circle cx="56.7" cy="114.1" r="0.8234398334673424" fill="#d9e6f0" fill-opacity="0.9"/>
<circle cx="58.2" cy="112.0" r="0.5135587996642643" fill="#e31a1c" fill-opacity="0.9"/>
<circle cx="72.7" cy="114.3" r="0.5377861257245838" fill="#d9e6f0" fill-opacity="0.9"/>
<circle cx="71.4" cy="109.6" r="0.7216502152996491" fill="#fb9a99" fill-opacity="0.9"/>
<circle cx="77.3" cy="108.7" r="0.6689554400788902" fill="#d9e6f0" fill-opacity="0.9"/>
<circle cx="68.9" cy="117.6" r="0.6420714075199785" fill="#a6cee3" fill-opacity="0.9"/>
<circle cx="67.5" cy="109.5" r="0.849185861666274" fill="#a6cee3" fill-opacity="0.9"/>
<circle cx="64.0" cy="107.4" r="0.8167804542718179" fill="#cab2d6" fill-opacity="0.9"/>
<circle cx="63.7" cy="109.2" r="0.5510282802178" fill="#a6cee3" fill-opacity="0.9"/>
<circle cx="79.2" cy="110.6" r="0.8542405378998195" fill="#fb9a99" fill-opacity="0.9"/>
<circle cx="68.7" cy="104.8" r="0.5434002042001804" fill="#a6cee3" fill-opacity="0.9"/>
<circle cx="67.1" cy="116.6" r="0.8156107947255455" fill="#a6cee3" fill-opacity="0.9"/>
<circle cx="77.2" cy="114.1" r="0.7507257064393174" fill="#e31a1c" fill-opacity="0.9"/>
<circle cx="72.2" cy="113.8" r="0.5850005568250244" fill="#ff7f00" fill-opacity="0.9"/>
<circle cx="71.5" cy="111.6" r="0.5405446519363513" fill="#e31a1c" fill-opacity="0.9"/>
<circle cx="74.0" cy="119.1" r="0.6475477274415554" fill="#a6cee3" fill-opacity="0.9"/>
<circle cx="75.2" cy="117.0" r="0.7840531088650307" fill="#fb9a99" fill-opacity="0.9"/>
<circle cx="76.1" cy="107.0" r="0.6273908347499133" fill="#a6cee3" fill-opacity="0.9"/>
<circle cx="66.0" cy="114.6" r="0.6991060303673368" fill="#a6cee3" fill-opacity="0.9"/>
<circle cx="68.2" cy="117.6" r="0.730128531741238" fill="#b15928" fill-opacity="0.9"/>
<circle cx="77.4" cy="111.4" r="0.771985105833837" fill="#a6cee3" fill-opacity="0.9"/>
<circle cx="71.4" cy="106.6" r="0.7195221129120684" fill="#b15928" fill-opacity="0.9"/>
<circle cx="57.9" cy="111.8" r="0.7507579952941241" fill="#e31a1c" fill-opacity="0.9"/>
<circle cx="76.0" cy="107.6" r="0.5515873952875487" fill="#ff7f00" fill-opacity="0.9"/>
<circle cx="61.6" cy="116.1" r="0.8691212655608019" fill="#e31a1c" fill-opacity="0.9"/>
<circle cx="64.5" cy="116.3" r="0.7918887101392407" fill="#e31a1c" fill-opacity="0.9"/>
<circle cx="58.0" cy="114.4" r="0.6842318882630505" fill="#cab2d6" fill-opacity="0.9"/>
<circle cx="77.7" cy="108.2" r="0.7868840427159332" fill="#a6cee3" fill-opacity="0.9"/>
<circle cx="71.2" cy="117.5" r="0.6555794754954057" fill="#ff7f00" fill-opacity="0.9"/>
<circle cx="63.3" cy="113.9" r="0.7435792805545897" fill="#cab2d6" fill-opacity="0.9"/>
<circle cx="63.4" cy="119.7" r="0.6879208167698367" fill="#cab2d6" fill-opacity="0.9"/>
<circle cx="59.8" cy="117.2" r="0.6542949938121239" fill="#cab2d6" fill-opacity="0.9"/>
<circle cx="74.3" cy="113.4" r="0.6119628401417667" fill="#a6cee3" fill-opacity="0.9"/>
<circle cx="70.5" cy="114.7" r="0.8478232848817796" fill="#d9e6f0" fill-opacity="0.9"/>
<circle cx="72.9" cy="104.3" r="0.7404549236077814" fill="#e31a1c" fill-opacity="0.9"/>
<circle cx="63.2" cy="111.1" r="0.6506707411627672" fill="#fdbf6f" fill-opacity="0.9"/>
<circle cx="72.0" cy="113.9" r="0.8229925765134974" fill="#fdbf6f" fill-opacity="0.9"/>
<circle cx="62.1" cy="111.0" r="0.6154085780180424" fill="#a6cee3" fill-opacity="0.9"/>
<circle cx="68.8" cy="116.8" r="0.6387412981228751" fill="#cab2d6" fill-opacity="0.9"/>
<circle cx="58.0" cy="113.1" r="0.580172219239742" fill="#b15928" fill-opacity="0.9"/>
<circle cx="73.5" cy="119.4" r="0.6237881559339112" fill="#fdbf6f" fill-opacity="0.9"/>
<circle cx="57.3" cy="110.5" r="0.8703995980463464" fill="#fdbf6f" fill-opacity="0.9"/>
<circle cx="69.7" cy="104.2" r="0.683886982621437" fill="#b15928" fill-opacity="0.9"/>
<circle cx="74.0" cy="107.8" r="0.8587716408358261" fill="#fb9a99" fill-opacity="0.9"/>
<circle cx="76.6" cy="112.6" r="0.7024674731174965" fill="#cab2d6" fill-opacity="0.9"/>
<circle cx="60.7" cy="107.5" r="0.5722773099120406" fill="#ff7f00" fill-opacity="0.9"/>
<circle cx="72.3" cy="110.0" r="0.660996516882296" fill="#d9e6f0" fill-opacity="0.9"/>
<circle cx="67.8" cy="97.9" r="0.7767854429717547" fill="#a6cee3" fill-opacity="0.9"/>
<circle cx="65.3" cy="100.9" r="0.5468464843536678" fill="#a6cee3" fill-opacity="0.9"/>
<circle cx="69.2" cy="99.8" r="0.6821409933728801" fill="#cab2d6" fill-opacity="0.9"/>
<circle cx="60.6" cy="98.4" r="0.6458946591318644" fill="#cab2d6" fill-opacity="0.9"/>
<circle cx="68.6" cy="99.0" r="0.6277849952066863" fill="#d9e6f0" fill-opacity="0.9"/>
<circle cx="75.1" cy="103.8" r="0.7890404607301291" fill="#cab2d6" fill-opacity="0.9"/>
<circle cx="63.3" cy="96.9" r="0.798384302513455" fill="#a6cee3" fill-opacity="0.9"/>
<circle cx="65.4" cy="96.8" r="0.6672140740669518" fill="#a6cee3" fill-opacity="0.9"/>
<circle cx="75.1" cy="105.1" r="0.7588910712258552" fill="#a6cee3" fill-opacity="0.9"/>
<circle cx="64.4" cy="98.7" r="0.7869260078390372" fill="#a6cee3" fill-opacity="0.9"/>
<circle cx="70.4" cy="100.2" r="0.754908327370275" fill="#d9e6f0" fill-opacity="0.9"/>
<circle cx="65.3" cy="98.7" r="0.5665165577205806" fill="#cab2d6" fill-opacity="0.9"/>
<circle cx="59.7" cy="98.9" r="0.5177830343755063" fill="#d9e6f0" fill-opacity="0.9"/>
<circle cx="67.7" cy="103.5" r="0.5167303437763231" fill="#d9e6f0" fill-opacity="0.9"/>
<circle cx="61.5" cy="103.7" r="0.7030667515431867" fill="#a6cee3" fill-opacity="0.9"/>
<circle cx="64.1" cy="102.1" r="0.5316259811909319" fill="#cab2d6" fill-opacity="0.9"/>
<circle cx="64.5" cy="98.9" r="0.6124949451118257" fill="#a6cee3" fill-opacity="0.9"/>
<circle cx="65.5" cy="100.7" r="0.7742895439512492" fill="#a6cee3" fill-opacity="0.9"/>
<circle cx="74.8" cy="128.3" r="0.7396547899455114" fill="#ff7f00" fill-opacity="0.9"/>
<circle cx="50.3" cy="131.6" r="0.7666122661883122" fill="#33a02c" fill-opacity="0.9"/>
<circle cx="52.2" cy="127.8" r="0.7777819661694287" fill="#a6cee3" fill-opacity="0.9"/>
<circle cx="57.7" cy="123.1" r="0.6884549454585435" fill="#a6cee3" fill-opacity="0.9"/>
<circle cx="52.3" cy="122.9" r="0.5540719003537098" fill="#a6cee3" fill-opacity="0.9"/>
<circle cx="61.5" cy="137.6" r="0.7612169432999014" fill="#fb9a99" fill-opacity="0.9"/>
<circle cx="56.0" cy="127.1" r="0.5076260148088049" fill="#ff7f00" fill-opacity="0.9"/>
<circle cx="65.1" cy="124.5" r="0.5782016422398544" fill="#ff7f00" fill-opacity="0.9"/>
<circle cx="51.3" cy="128.0" r="0.5342504504770839" fill="#fb9a99" fill-opacity="0.9"/>
<circle cx="54.3" cy="128.5" r="0.5357567323545958" fill="#33a02c" fill-opacity="0.9"/>
<circle cx="61.0" cy="123.8" r="0.7775239316481679" fill="#ff7f00" fill-opacity="0.9"/>
<circle cx="50.9" cy="124.4" r="0.5172447103984427" fill="#ff7f00" fill-opacity="0.9"/>
<circle cx="69.8" cy="124.5" r="0.6326328750111678" fill="#a6cee3" fill-opacity="0.9"/>
<circle cx="63.2" cy="129.2" r="0.5005769091611317" fill="#fb9a99" fill-opacity="0.9"/>
<circle cx="73.0" cy="129.6" r="0.6080297621382387" fill="#ff7f00" fill-opacity="0.9"/>
<circle cx="49.2" cy="127.0" r="0.6714019541010703" fill="#33a02c" fill-opacity="0.9"/>
<circle cx="52.1" cy="122.0" r="0.713485487197997" fill="#ff7f00" fill-opacity="0.9"/>
<circle cx="53.9" cy="119.7" r="0.7667975931060815" fill="#a6cee3" fill-opacity="0.9"/>
<circle cx="69.9" cy="134.7" r="0.5618095736288446" fill="#ff7f00" fill-opacity="0.9"/>
<circle cx="66.4" cy="133.6" r="0.6748799301118651" fill="#ff7f00" fill-opacity="0.9"/>
<circle cx="54.1" cy="119.4" r="0.7523203322030365" fill="#fb9a99" fill-opacity="0.9"/>
<circle cx="75.5" cy="129.4" r="0.6005658200720498" fill="#33a02c" fill-opacity="0.9"/>
<circle cx="75.3" cy="128.5" r="0.5745019946680638" fill="#33a02c" fill-opacity="0.9"/>
<circle cx="65.2" cy="136.9" r="0.655946897563604" fill="#33a02c" fill-opacity="0.9"/>
<circle cx="61.4" cy="129.3" r="0.6070154697774126" fill="#a6cee3" fill-opacity="0.9"/>
<circle cx="55.3" cy="136.3" r="0.7337373063963348" fill="#33a02c" fill-opacity="0.9"/>
<circle cx="74.0" cy="130.7" r="0.5874624994534329" fill="#a6cee3" fill-opacity="0.9"/>
<circle cx="55.3" cy="119.9" r="0.5503641294747786" fill="#ff7f00" fill-opacity="0.9"/>
<circle cx="57.4" cy="130.2" r="0.5058353493283795" fill="#a6cee3" fill-opacity="0.9"/>
<circle cx="55.8" cy="136.4" r="0.6568733801805244" fill="#fb9a99" fill-opacity="0.9"/>
<circle cx="79.5" cy="124.0" r="0.9" fill="#e7298a"/>
<circle cx="80.0" cy="127.0" r="0.9" fill="#cab2d6"/>
<circle cx="78.5" cy="131.5" r="0.9" fill="#fb9a99"/>
<circle cx="79.8" cy="129.5" r="0.9" fill="#e7298a"/>
<circle cx="25.0" cy="113.0" r="0.9" fill="#fdbf6f"/>
<circle cx="23.8" cy="121.0" r="0.9" fill="#fdbf6f"/>
<circle cx="26.5" cy="133.0" r="0.9" fill="#fdbf6f"/>
<circle cx="28.0" cy="136.0" r="0.9" fill="#fdbf6f"/>
<path d="M117.0,148.0 L120.5,149.0 L123.0,152.0 L124.5,156.0 L123.0,160.0 L119.0,162.5 L114.5,162.5 L112.0,160.0 L114.0,156.0Z" fill="#9d8cc0" />
<circle cx="120.8" cy="149.5" r="0.8868392562239509" fill="#ff7f00" fill-opacity="0.95"/>
<circle cx="118.2" cy="155.3" r="0.644016000992171" fill="#a6cee3" fill-opacity="0.95"/>
<circle cx="113.5" cy="160.8" r="0.8367248333318029" fill="#6a3d9a" fill-opacity="0.95"/>
<circle cx="119.2" cy="158.8" r="0.9792777592719013" fill="#33a02c" fill-opacity="0.95"/>
<circle cx="120.7" cy="156.7" r="0.6144829106200739" fill="#6a3d9a" fill-opacity="0.95"/>
<circle cx="116.5" cy="153.8" r="0.8862114233838971" fill="#e31a1c" fill-opacity="0.95"/>
<circle cx="122.5" cy="156.2" r="0.9260172796267034" fill="#e31a1c" fill-opacity="0.95"/>
<circle cx="118.5" cy="161.9" r="0.6997137781098384" fill="#e31a1c" fill-opacity="0.95"/>
<circle cx="117.3" cy="157.2" r="0.6436101899468848" fill="#e31a1c" fill-opacity="0.95"/>
<circle cx="114.5" cy="157.7" r="0.6557626796386479" fill="#6a3d9a" fill-opacity="0.95"/>
<circle cx="123.7" cy="157.2" r="0.6137494619655808" fill="#1f78b4" fill-opacity="0.95"/>
<circle cx="120.0" cy="151.9" r="0.851299737519784" fill="#a6cee3" fill-opacity="0.95"/>
<circle cx="116.3" cy="150.4" r="0.8377156643840131" fill="#1f78b4" fill-opacity="0.95"/>
<circle cx="124.0" cy="155.4" r="0.6337896241736927" fill="#a6cee3" fill-opacity="0.95"/>
<circle cx="119.4" cy="161.5" r="0.6495680198420061" fill="#cab2d6" fill-opacity="0.95"/>
<circle cx="117.1" cy="152.2" r="0.8943723383183695" fill="#6a3d9a" fill-opacity="0.95"/>
<circle cx="121.3" cy="152.2" r="0.8439810415948468" fill="#cab2d6" fill-opacity="0.95"/>
<circle cx="119.1" cy="157.4" r="0.8194296500395531" fill="#6a3d9a" fill-opacity="0.95"/>
<circle cx="116.6" cy="160.9" r="0.8451198741133685" fill="#a6cee3" fill-opacity="0.95"/>
<circle cx="117.9" cy="152.5" r="0.7334665722298044" fill="#6a3d9a" fill-opacity="0.95"/>
<circle cx="114.4" cy="155.9" r="0.6047512588625906" fill="#fdbf6f" fill-opacity="0.95"/>
<circle cx="116.4" cy="160.5" r="0.7295810060401355" fill="#6a3d9a" fill-opacity="0.95"/>
<circle cx="116.1" cy="151.9" r="0.7182017030027733" fill="#6a3d9a" fill-opacity="0.95"/>
<circle cx="112.8" cy="160.6" r="0.8630873085916544" fill="#cab2d6" fill-opacity="0.95"/>
<circle cx="118.5" cy="160.1" r="0.8941652022684984" fill="#e31a1c" fill-opacity="0.95"/>
<circle cx="116.4" cy="157.8" r="0.9284774566858001" fill="#a6cee3" fill-opacity="0.95"/>
<circle cx="118.5" cy="158.7" r="0.7074730598477789" fill="#cab2d6" fill-opacity="0.95"/>
<circle cx="119.9" cy="157.2" r="0.7652135219300568" fill="#33a02c" fill-opacity="0.95"/>
<circle cx="118.9" cy="149.7" r="0.9850969731596839" fill="#fdbf6f" fill-opacity="0.95"/>
<circle cx="119.1" cy="154.1" r="0.9491045106095063" fill="#a6cee3" fill-opacity="0.95"/>
<circle cx="119.6" cy="153.5" r="0.8770573629674387" fill="#cab2d6" fill-opacity="0.95"/>
<circle cx="115.6" cy="153.1" r="0.7562737808409977" fill="#e31a1c" fill-opacity="0.95"/>
<circle cx="118.9" cy="153.6" r="0.6027047985407051" fill="#e31a1c" fill-opacity="0.95"/>
<circle cx="116.8" cy="152.4" r="0.7216130876629133" fill="#6a3d9a" fill-opacity="0.95"/>
<circle cx="119.3" cy="149.3" r="0.7295467673806844" fill="#e31a1c" fill-opacity="0.95"/>
<circle cx="122.5" cy="160.2" r="0.6817238121393936" fill="#e31a1c" fill-opacity="0.95"/>
<circle cx="117.3" cy="161.2" r="0.6102300913555684" fill="#1f78b4" fill-opacity="0.95"/>
<circle cx="115.2" cy="161.0" r="0.9681247309936433" fill="#a6cee3" fill-opacity="0.95"/>
<circle cx="121.7" cy="155.8" r="0.8069791699221022" fill="#fdbf6f" fill-opacity="0.95"/>
<circle cx="118.5" cy="157.9" r="0.7856993805101873" fill="#fdbf6f" fill-opacity="0.95"/>
<circle cx="113.0" cy="160.5" r="1.1" fill="#ff7f00"/>
<circle cx="115.0" cy="161.5" r="1.1" fill="#fdbf6f"/>
<circle cx="121.0" cy="150.0" r="1.1" fill="#1f78b4"/>
<circle cx="122.5" cy="151.5" r="1.1" fill="#33a02c"/>
<circle cx="119.0" cy="156.0" r="1.1" fill="#1f78b4"/>
<circle cx="124.0" cy="158.0" r="1.1" fill="#6a3d9a"/>
<circle cx="125.5" cy="161.0" r="1.1" fill="#6a3d9a"/>
<circle cx="127.0" cy="150.5" r="1.1" fill="#6a3d9a"/>
<circle cx="130.0" cy="152.0" r="1.1" fill="#6a3d9a"/>
<path d="M123.0,97.0 C123.5,95.5 125.7,95.6 127.0,96.0 C128.3,96.4 130.2,98.2 131.0,99.5 C131.8,100.8 132.0,102.8 131.5,104.0 C131.0,105.2 129.2,106.8 128.0,107.0 C126.8,107.2 124.8,106.7 124.0,105.0 C123.2,103.3 122.5,98.5 123.0,97.0Z" fill="#d9509a" />
<circle cx="120.6" cy="101.6" r="0.7245354709875951" fill="#a6761d" fill-opacity="0.85"/>
<circle cx="123.6" cy="107.4" r="0.6946852248955989" fill="#fdbf6f" fill-opacity="0.85"/>
<circle cx="121.1" cy="103.5" r="0.6373118719207589" fill="#e7298a" fill-opacity="0.85"/>
<circle cx="122.8" cy="106.4" r="0.6450867543163232" fill="#b15928" fill-opacity="0.85"/>
<circle cx="119.8" cy="95.0" r="0.705037442372995" fill="#6a3d9a" fill-opacity="0.85"/>
<circle cx="125.8" cy="106.5" r="0.8552574335673784" fill="#e7298a" fill-opacity="0.85"/>
<circle cx="120.8" cy="96.2" r="0.8264650836932842" fill="#6a3d9a" fill-opacity="0.85"/>
<circle cx="120.6" cy="94.7" r="0.7412510577041513" fill="#e7298a" fill-opacity="0.85"/>
<circle cx="120.6" cy="106.0" r="0.7842551281771" fill="#6a3d9a" fill-opacity="0.85"/>
<circle cx="123.2" cy="108.0" r="0.836863181288532" fill="#fdbf6f" fill-opacity="0.85"/>
<circle cx="123.8" cy="104.2" r="0.570077680044953" fill="#b15928" fill-opacity="0.85"/>
<circle cx="127.2" cy="102.6" r="0.7587245520817182" fill="#ff7f00" fill-opacity="0.85"/>
<circle cx="123.6" cy="100.2" r="0.5581415657900894" fill="#e31a1c" fill-opacity="0.85"/>
<circle cx="122.6" cy="101.7" r="0.5400414469126763" fill="#e31a1c" fill-opacity="0.85"/>
<circle cx="116.2" cy="101.9" r="0.6870070416122801" fill="#ff7f00" fill-opacity="0.85"/>
<circle cx="121.0" cy="106.2" r="0.5049965014593738" fill="#a6761d" fill-opacity="0.85"/>
<circle cx="127.3" cy="98.8" r="0.5953051696832323" fill="#a6761d" fill-opacity="0.85"/>
<circle cx="124.6" cy="107.1" r="0.5252090166476178" fill="#e7298a" fill-opacity="0.85"/>
<circle cx="116.5" cy="103.5" r="0.5218715495468613" fill="#e31a1c" fill-opacity="0.85"/>
<circle cx="129.5" cy="102.8" r="0.6758564324813616" fill="#e31a1c" fill-opacity="0.85"/>
<circle cx="124.5" cy="97.7" r="0.5637608377063966" fill="#e31a1c" fill-opacity="0.85"/>
<circle cx="123.9" cy="96.5" r="0.8595471109956107" fill="#e31a1c" fill-opacity="0.85"/>
<circle cx="128.1" cy="98.5" r="0.6007870851756005" fill="#e7298a" fill-opacity="0.85"/>
<circle cx="125.5" cy="102.9" r="0.623663152452105" fill="#fdbf6f" fill-opacity="0.85"/>
<circle cx="129.2" cy="101.3" r="0.847285038958165" fill="#ff7f00" fill-opacity="0.85"/>
<circle cx="129.3" cy="99.9" r="0.5459545383900837" fill="#6a3d9a" fill-opacity="0.85"/>
<circle cx="122.9" cy="99.8" r="0.7605127187533585" fill="#fdbf6f" fill-opacity="0.85"/>
<circle cx="130.8" cy="100.3" r="0.7215364046243907" fill="#6a3d9a" fill-opacity="0.85"/>
<circle cx="120.2" cy="101.0" r="0.5948698801862491" fill="#6a3d9a" fill-opacity="0.85"/>
<circle cx="119.3" cy="96.2" r="0.551946038283799" fill="#a6761d" fill-opacity="0.85"/>
<circle cx="116.6" cy="102.2" r="0.5511177675574296" fill="#ff7f00" fill-opacity="0.85"/>
<circle cx="121.2" cy="106.8" r="0.5960737650371253" fill="#ff7f00" fill-opacity="0.85"/>
<circle cx="119.8" cy="97.2" r="0.650757442800235" fill="#fdbf6f" fill-opacity="0.85"/>
<circle cx="130.6" cy="101.6" r="0.8433559729239111" fill="#b15928" fill-opacity="0.85"/>
<circle cx="125.5" cy="108.4" r="0.7383812513936083" fill="#6a3d9a" fill-opacity="0.85"/>
<circle cx="122.9" cy="100.1" r="0.5850167814657589" fill="#e7298a" fill-opacity="0.85"/>
<circle cx="122.5" cy="102.2" r="0.7943753265492449" fill="#6a3d9a" fill-opacity="0.85"/>
<circle cx="126.3" cy="96.0" r="0.6559739312848587" fill="#e31a1c" fill-opacity="0.85"/>
<circle cx="128.7" cy="98.8" r="0.8565282824902574" fill="#a6761d" fill-opacity="0.85"/>
<circle cx="127.9" cy="105.6" r="0.5263643971643412" fill="#b15928" fill-opacity="0.85"/>
<circle cx="118.8" cy="97.3" r="0.8267323276898029" fill="#b15928" fill-opacity="0.85"/>
<circle cx="120.4" cy="99.3" r="0.8635691984428895" fill="#ff7f00" fill-opacity="0.85"/>
<circle cx="127.3" cy="107.5" r="0.8452387247448201" fill="#ff7f00" fill-opacity="0.85"/>
<circle cx="119.8" cy="106.2" r="0.6405716237334728" fill="#a6761d" fill-opacity="0.85"/>
<circle cx="120.6" cy="104.0" r="0.6850326813710361" fill="#a6761d" fill-opacity="0.85"/>
<circle cx="86.2" cy="78.5" r="0.9" fill="#e31a1c"/>
</g>
<text x="30.099999999999998" y="56.0" font-size="9.7" text-anchor="start" fill="#1a1410" textLength="17.0" lengthAdjust="spacingAndGlyphs" stroke="#1a1410" stroke-width="0.15">011</text>
<text x="82.95" y="50.7" font-size="9.7" text-anchor="start" fill="#1a1410" textLength="17.9" lengthAdjust="spacingAndGlyphs" stroke="#1a1410" stroke-width="0.15">010</text>
<text x="83.8" y="96.60000000000001" font-size="9.7" text-anchor="start" fill="#1a1410" textLength="17.0" lengthAdjust="spacingAndGlyphs" stroke="#1a1410" stroke-width="0.15">012</text>
<text x="151.6" y="90.3" font-size="9.7" text-anchor="start" fill="#1a1410" textLength="17.1" lengthAdjust="spacingAndGlyphs" stroke="#1a1410" stroke-width="0.15">013</text>
<text x="114.3" y="105.10000000000001" font-size="9.7" text-anchor="start" fill="#1a1410" textLength="16.8" lengthAdjust="spacingAndGlyphs" stroke="#1a1410" stroke-width="0.15">016</text>
<text x="43.1" y="132.6" font-size="9.7" text-anchor="start" fill="#1a1410" textLength="17.1" lengthAdjust="spacingAndGlyphs" stroke="#1a1410" stroke-width="0.15">019</text>
<text x="94.0" y="151.0" font-size="9.7" text-anchor="start" fill="#1a1410" textLength="16.6" lengthAdjust="spacingAndGlyphs" stroke="#1a1410" stroke-width="0.15">017</text>
<text x="136.1" y="136.5" font-size="9.7" text-anchor="start" fill="#1a1410" textLength="15.3" lengthAdjust="spacingAndGlyphs" stroke="#1a1410" stroke-width="0.15">021</text>
<text x="171.5" y="155.39999999999998" font-size="9.7" text-anchor="start" fill="#1a1410" textLength="17.2" lengthAdjust="spacingAndGlyphs" stroke="#1a1410" stroke-width="0.15">009</text>
<text x="128.6" y="175.79999999999998" font-size="9.7" text-anchor="start" fill="#1a1410" textLength="17.8" lengthAdjust="spacingAndGlyphs" stroke="#1a1410" stroke-width="0.15">014</text>
<text x="82.95" y="197.1" font-size="9.7" text-anchor="start" fill="#1a1410" textLength="17.9" lengthAdjust="spacingAndGlyphs" stroke="#1a1410" stroke-width="0.15">022</text>
<text x="23.4" y="186.0" font-size="9.7" text-anchor="start" fill="#1a1410" textLength="17.4" lengthAdjust="spacingAndGlyphs" stroke="#1a1410" stroke-width="0.15">015</text>
<text x="17.1" y="114.2" font-size="9.6" text-anchor="start" fill="#2e2e2e" textLength="21.5" lengthAdjust="spacingAndGlyphs" stroke="#2e2e2e" stroke-width="0.15">Prolif.</text>
<text x="41.4" y="114.2" font-size="9.6" text-anchor="start" fill="#2a1208" stroke="#2a1208" stroke-width="0.15">B</text>
<text x="295.5" y="32.3" font-size="11.3" text-anchor="middle" fill="#231f20" textLength="87" lengthAdjust="spacingAndGlyphs" >Tumor cells, Pre Tx</text>
<text x="295.2" y="45.6" font-size="11.3" text-anchor="middle" fill="#231f20" textLength="59" lengthAdjust="spacingAndGlyphs" >Injected Site</text>
<circle cx="252.4" cy="68.3" r="1.9" fill="#2f509a" fill-opacity="0.6"/>
<circle cx="261.7" cy="65.2" r="1.9" fill="#2f509a" fill-opacity="0.6"/>
<circle cx="251.9" cy="66.8" r="1.9" fill="#2f509a" fill-opacity="0.6"/>
<circle cx="259.5" cy="70.8" r="1.9" fill="#2f509a" fill-opacity="0.6"/>
<circle cx="252.4" cy="62.5" r="1.9" fill="#2f509a" fill-opacity="0.6"/>
<circle cx="260.5" cy="68.7" r="1.9" fill="#2f509a" fill-opacity="0.6"/>
<circle cx="263.9" cy="70.4" r="1.9" fill="#2f509a" fill-opacity="0.6"/>
<circle cx="257.1" cy="66.0" r="1.9" fill="#2f509a" fill-opacity="0.6"/>
<circle cx="268.3" cy="66.0" r="1.9" fill="#2f509a" fill-opacity="0.6"/>
<circle cx="254.2" cy="63.0" r="1.9" fill="#2f509a" fill-opacity="0.6"/>
<circle cx="257.9" cy="67.5" r="1.9" fill="#2f509a" fill-opacity="0.6"/>
<circle cx="256.1" cy="66.8" r="1.9" fill="#2f509a" fill-opacity="0.6"/>
<circle cx="258.6" cy="69.4" r="1.9" fill="#2f509a" fill-opacity="0.6"/>
<circle cx="262.1" cy="67.7" r="1.9" fill="#2f509a" fill-opacity="0.6"/>
<circle cx="250.0" cy="69.5" r="1.9" fill="#2f509a" fill-opacity="0.6"/>
<circle cx="251.5" cy="66.4" r="1.9" fill="#2f509a" fill-opacity="0.6"/>
<circle cx="251.3" cy="67.0" r="1.9" fill="#2f509a" fill-opacity="0.6"/>
<circle cx="254.2" cy="67.7" r="1.9" fill="#2f509a" fill-opacity="0.6"/>
<circle cx="271.0" cy="66.8" r="1.9" fill="#2f509a" fill-opacity="0.6"/>
<circle cx="261.0" cy="62.4" r="1.9" fill="#2f509a" fill-opacity="0.6"/>
<circle cx="256.3" cy="69.3" r="1.9" fill="#2f509a" fill-opacity="0.6"/>
<circle cx="257.1" cy="68.3" r="1.9" fill="#2f509a" fill-opacity="0.6"/>
<circle cx="257.9" cy="63.5" r="1.9" fill="#2f509a" fill-opacity="0.6"/>
<circle cx="259.9" cy="64.2" r="1.9" fill="#2f509a" fill-opacity="0.6"/>
<circle cx="265.4" cy="65.2" r="1.9" fill="#2f509a" fill-opacity="0.6"/>
<circle cx="260.4" cy="67.0" r="1.9" fill="#2f509a" fill-opacity="0.6"/>
<circle cx="261.5" cy="64.9" r="1.9" fill="#2f509a" fill-opacity="0.6"/>
<circle cx="261.7" cy="66.6" r="1.9" fill="#2f509a" fill-opacity="0.6"/>
<circle cx="262.8" cy="69.2" r="1.9" fill="#2f509a" fill-opacity="0.6"/>
<circle cx="258.1" cy="64.3" r="1.9" fill="#2f509a" fill-opacity="0.6"/>
<circle cx="260.7" cy="68.6" r="1.9" fill="#2f509a" fill-opacity="0.6"/>
<circle cx="264.4" cy="65.7" r="1.9" fill="#2f509a" fill-opacity="0.6"/>
<circle cx="259.8" cy="68.8" r="1.9" fill="#2f509a" fill-opacity="0.6"/>
<circle cx="258.7" cy="67.7" r="1.9" fill="#2f509a" fill-opacity="0.6"/>
<circle cx="258.3" cy="64.9" r="1.9" fill="#2f509a" fill-opacity="0.6"/>
<circle cx="253.2" cy="65.6" r="1.9" fill="#2f509a" fill-opacity="0.6"/>
<circle cx="260.0" cy="72.3" r="1.9" fill="#2f509a" fill-opacity="0.6"/>
<circle cx="261.6" cy="70.7" r="1.9" fill="#2f509a" fill-opacity="0.6"/>
<circle cx="260.8" cy="69.4" r="1.9" fill="#2f509a" fill-opacity="0.6"/>
<circle cx="258.3" cy="69.7" r="1.9" fill="#2f509a" fill-opacity="0.6"/>
<circle cx="264.9" cy="65.9" r="1.9" fill="#2f509a" fill-opacity="0.6"/>
<circle cx="254.6" cy="73.9" r="1.9" fill="#2f509a" fill-opacity="0.6"/>
<circle cx="258.5" cy="70.4" r="1.9" fill="#2f509a" fill-opacity="0.6"/>
<circle cx="261.2" cy="63.0" r="1.9" fill="#2f509a" fill-opacity="0.6"/>
<circle cx="267.7" cy="73.2" r="1.9" fill="#2f509a" fill-opacity="0.6"/>
<circle cx="258.2" cy="69.6" r="1.9" fill="#2f509a" fill-opacity="0.6"/>
<circle cx="258.0" cy="63.9" r="1.9" fill="#2f509a" fill-opacity="0.6"/>
<circle cx="257.0" cy="68.3" r="1.9" fill="#2f509a" fill-opacity="0.6"/>
<circle cx="262.2" cy="69.5" r="1.9" fill="#2f509a" fill-opacity="0.6"/>
<circle cx="257.7" cy="71.7" r="1.9" fill="#2f509a" fill-opacity="0.6"/>
<circle cx="254.3" cy="69.8" r="1.9" fill="#2f509a" fill-opacity="0.6"/>
<circle cx="262.2" cy="66.0" r="1.9" fill="#2f509a" fill-opacity="0.6"/>
<circle cx="250.0" cy="63.8" r="1.9" fill="#2f509a" fill-opacity="0.6"/>
<circle cx="258.5" cy="68.8" r="1.9" fill="#2f509a" fill-opacity="0.6"/>
<circle cx="264.0" cy="63.5" r="1.9" fill="#2f509a" fill-opacity="0.6"/>
<circle cx="263.2" cy="92.7" r="1.9" fill="#2f509a" fill-opacity="0.6"/>
<circle cx="269.6" cy="137.2" r="1.9" fill="#2f509a" fill-opacity="0.6"/>
<circle cx="264.7" cy="130.2" r="1.9" fill="#2f509a" fill-opacity="0.6"/>
<circle cx="268.4" cy="81.3" r="1.9" fill="#2f509a" fill-opacity="0.6"/>
<circle cx="260.4" cy="89.3" r="1.9" fill="#2f509a" fill-opacity="0.6"/>
<circle cx="264.6" cy="126.9" r="1.9" fill="#2f509a" fill-opacity="0.6"/>
<circle cx="260.2" cy="85.3" r="1.9" fill="#2f509a" fill-opacity="0.6"/>
<circle cx="254.9" cy="88.6" r="1.9" fill="#2f509a" fill-opacity="0.6"/>
<circle cx="263.4" cy="117.2" r="1.9" fill="#2f509a" fill-opacity="0.6"/>
<circle cx="263.4" cy="87.9" r="1.9" fill="#2f509a" fill-opacity="0.6"/>
<circle cx="264.9" cy="104.2" r="1.9" fill="#2f509a" fill-opacity="0.6"/>
<circle cx="260.8" cy="98.6" r="1.9" fill="#2f509a" fill-opacity="0.6"/>
<circle cx="269.3" cy="96.3" r="1.9" fill="#2f509a" fill-opacity="0.6"/>
<circle cx="263.6" cy="115.7" r="1.9" fill="#2f509a" fill-opacity="0.6"/>
<circle cx="260.8" cy="83.3" r="1.9" fill="#2f509a" fill-opacity="0.6"/>
<circle cx="265.1" cy="129.7" r="1.9" fill="#2f509a" fill-opacity="0.6"/>
<circle cx="256.1" cy="73.0" r="1.9" fill="#2f509a" fill-opacity="0.6"/>
<circle cx="261.1" cy="125.9" r="1.9" fill="#2f509a" fill-opacity="0.6"/>
<circle cx="253.9" cy="77.9" r="1.9" fill="#2f509a" fill-opacity="0.6"/>
<circle cx="266.8" cy="130.2" r="1.9" fill="#2f509a" fill-opacity="0.6"/>
<circle cx="268.4" cy="125.0" r="1.9" fill="#2f509a" fill-opacity="0.6"/>
<circle cx="270.0" cy="117.5" r="1.9" fill="#2f509a" fill-opacity="0.6"/>
<circle cx="264.4" cy="99.7" r="1.9" fill="#2f509a" fill-opacity="0.6"/>
<circle cx="262.2" cy="111.1" r="1.9" fill="#2f509a" fill-opacity="0.6"/>
<circle cx="263.4" cy="112.3" r="1.9" fill="#2f509a" fill-opacity="0.6"/>
<circle cx="270.9" cy="116.0" r="1.9" fill="#2f509a" fill-opacity="0.6"/>
<circle cx="262.1" cy="122.9" r="1.9" fill="#2f509a" fill-opacity="0.6"/>
<circle cx="259.0" cy="113.3" r="1.9" fill="#2f509a" fill-opacity="0.6"/>
<circle cx="259.5" cy="78.8" r="1.9" fill="#2f509a" fill-opacity="0.6"/>
<circle cx="262.4" cy="113.9" r="1.9" fill="#2f509a" fill-opacity="0.6"/>
<circle cx="261.4" cy="119.8" r="1.9" fill="#2f509a" fill-opacity="0.6"/>
<circle cx="267.3" cy="133.4" r="1.9" fill="#2f509a" fill-opacity="0.6"/>
<circle cx="260.8" cy="93.7" r="1.9" fill="#2f509a" fill-opacity="0.6"/>
<circle cx="264.6" cy="84.4" r="1.9" fill="#2f509a" fill-opacity="0.6"/>
<circle cx="265.2" cy="103.0" r="1.9" fill="#2f509a" fill-opacity="0.6"/>
<circle cx="266.1" cy="119.0" r="1.9" fill="#2f509a" fill-opacity="0.6"/>
<circle cx="271.0" cy="125.1" r="1.9" fill="#2f509a" fill-opacity="0.6"/>
<circle cx="260.1" cy="99.4" r="1.9" fill="#2f509a" fill-opacity="0.6"/>
<circle cx="253.5" cy="83.0" r="1.9" fill="#2f509a" fill-opacity="0.6"/>
<circle cx="265.1" cy="126.1" r="1.9" fill="#2f509a" fill-opacity="0.6"/>
<circle cx="263.2" cy="93.9" r="1.9" fill="#2f509a" fill-opacity="0.6"/>
<circle cx="262.2" cy="93.9" r="1.9" fill="#2f509a" fill-opacity="0.6"/>
<circle cx="262.2" cy="115.3" r="1.9" fill="#2f509a" fill-opacity="0.6"/>
<circle cx="269.6" cy="128.2" r="1.9" fill="#2f509a" fill-opacity="0.6"/>
<circle cx="266.4" cy="78.9" r="1.9" fill="#2f509a" fill-opacity="0.6"/>
<circle cx="257.9" cy="74.3" r="1.9" fill="#2f509a" fill-opacity="0.6"/>
<circle cx="262.0" cy="94.7" r="1.9" fill="#2f509a" fill-opacity="0.6"/>
<circle cx="259.3" cy="83.0" r="1.9" fill="#2f509a" fill-opacity="0.6"/>
<circle cx="266.7" cy="128.4" r="1.9" fill="#2f509a" fill-opacity="0.6"/>
<circle cx="256.5" cy="75.3" r="1.9" fill="#2f509a" fill-opacity="0.6"/>
<circle cx="261.8" cy="113.7" r="1.9" fill="#2f509a" fill-opacity="0.6"/>
<circle cx="266.9" cy="134.8" r="1.9" fill="#2f509a" fill-opacity="0.6"/>
<circle cx="263.6" cy="105.9" r="1.9" fill="#2f509a" fill-opacity="0.6"/>
<circle cx="262.9" cy="104.9" r="1.9" fill="#2f509a" fill-opacity="0.6"/>
<circle cx="258.6" cy="94.0" r="1.9" fill="#2f509a" fill-opacity="0.6"/>
<circle cx="259.9" cy="107.3" r="1.9" fill="#2f509a" fill-opacity="0.6"/>
<circle cx="264.4" cy="98.0" r="1.9" fill="#2f509a" fill-opacity="0.6"/>
<circle cx="264.6" cy="78.6" r="1.9" fill="#2f509a" fill-opacity="0.6"/>
<circle cx="255.4" cy="83.0" r="1.9" fill="#2f509a" fill-opacity="0.6"/>
<circle cx="264.7" cy="133.7" r="1.9" fill="#2f509a" fill-opacity="0.6"/>
<circle cx="268.8" cy="128.0" r="1.9" fill="#2f509a" fill-opacity="0.6"/>
<circle cx="262.0" cy="104.4" r="1.9" fill="#2f509a" fill-opacity="0.6"/>
<circle cx="267.3" cy="119.7" r="1.9" fill="#2f509a" fill-opacity="0.6"/>
<circle cx="266.9" cy="123.5" r="1.9" fill="#2f509a" fill-opacity="0.6"/>
<circle cx="271.0" cy="136.6" r="1.9" fill="#2f509a" fill-opacity="0.6"/>
<circle cx="263.6" cy="127.8" r="1.9" fill="#2f509a" fill-opacity="0.6"/>
<circle cx="266.1" cy="129.8" r="1.9" fill="#2f509a" fill-opacity="0.6"/>
<circle cx="258.0" cy="102.9" r="1.9" fill="#2f509a" fill-opacity="0.6"/>
<circle cx="269.0" cy="107.0" r="1.9" fill="#2f509a" fill-opacity="0.6"/>
<circle cx="260.0" cy="76.9" r="1.9" fill="#2f509a" fill-opacity="0.6"/>
<circle cx="262.5" cy="96.0" r="1.9" fill="#2f509a" fill-opacity="0.6"/>
<circle cx="254.8" cy="83.7" r="1.9" fill="#2f509a" fill-opacity="0.6"/>
<circle cx="264.2" cy="125.7" r="1.9" fill="#2f509a" fill-opacity="0.6"/>
<circle cx="264.8" cy="106.7" r="1.9" fill="#2f509a" fill-opacity="0.6"/>
<circle cx="258.2" cy="88.8" r="1.9" fill="#2f509a" fill-opacity="0.6"/>
<circle cx="263.4" cy="120.5" r="1.9" fill="#2f509a" fill-opacity="0.6"/>
<circle cx="264.4" cy="128.3" r="1.9" fill="#2f509a" fill-opacity="0.6"/>
<circle cx="266.3" cy="97.6" r="1.9" fill="#2f509a" fill-opacity="0.6"/>
<circle cx="266.0" cy="85.5" r="1.9" fill="#2f509a" fill-opacity="0.6"/>
<circle cx="262.0" cy="108.6" r="1.9" fill="#2f509a" fill-opacity="0.6"/>
<circle cx="259.8" cy="109.6" r="1.9" fill="#2f509a" fill-opacity="0.6"/>
<circle cx="263.1" cy="74.3" r="1.9" fill="#2f509a" fill-opacity="0.6"/>
<circle cx="264.0" cy="99.5" r="1.9" fill="#2f509a" fill-opacity="0.6"/>
<circle cx="263.1" cy="106.4" r="1.9" fill="#2f509a" fill-opacity="0.6"/>
<circle cx="257.4" cy="111.4" r="1.9" fill="#2f509a" fill-opacity="0.6"/>
<circle cx="267.0" cy="134.8" r="1.9" fill="#2f509a" fill-opacity="0.6"/>
<circle cx="254.2" cy="83.2" r="1.9" fill="#2f509a" fill-opacity="0.6"/>
<circle cx="264.8" cy="132.2" r="1.9" fill="#2f509a" fill-opacity="0.6"/>
<circle cx="255.0" cy="85.1" r="1.9" fill="#2f509a" fill-opacity="0.6"/>
<circle cx="260.1" cy="82.2" r="1.9" fill="#2f509a" fill-opacity="0.6"/>
<circle cx="261.4" cy="88.9" r="1.9" fill="#2f509a" fill-opacity="0.6"/>
<circle cx="259.2" cy="97.1" r="1.9" fill="#2f509a" fill-opacity="0.6"/>
<circle cx="259.5" cy="80.1" r="1.9" fill="#2f509a" fill-opacity="0.6"/>
<circle cx="263.7" cy="108.8" r="1.9" fill="#2f509a" fill-opacity="0.6"/>
<circle cx="261.2" cy="109.7" r="1.9" fill="#2f509a" fill-opacity="0.6"/>
<circle cx="261.0" cy="101.7" r="1.9" fill="#2f509a" fill-opacity="0.6"/>
<circle cx="257.5" cy="86.5" r="1.9" fill="#2f509a" fill-opacity="0.6"/>
<circle cx="266.3" cy="107.9" r="1.9" fill="#2f509a" fill-opacity="0.6"/>
<circle cx="267.3" cy="131.4" r="1.9" fill="#2f509a" fill-opacity="0.6"/>
<circle cx="268.3" cy="126.0" r="1.9" fill="#2f509a" fill-opacity="0.6"/>
<circle cx="263.9" cy="94.9" r="1.9" fill="#2f509a" fill-opacity="0.6"/>
<circle cx="269.0" cy="137.5" r="1.9" fill="#2f509a" fill-opacity="0.6"/>
<circle cx="260.7" cy="89.3" r="1.9" fill="#2f509a" fill-opacity="0.6"/>
<circle cx="261.5" cy="79.0" r="1.9" fill="#2f509a" fill-opacity="0.6"/>
<circle cx="268.2" cy="126.2" r="1.9" fill="#2f509a" fill-opacity="0.6"/>
<circle cx="267.2" cy="119.1" r="1.9" fill="#2f509a" fill-opacity="0.6"/>
<circle cx="271.0" cy="117.1" r="1.9" fill="#2f509a" fill-opacity="0.6"/>
<circle cx="254.0" cy="81.4" r="1.9" fill="#2f509a" fill-opacity="0.6"/>
<circle cx="262.8" cy="106.8" r="1.9" fill="#2f509a" fill-opacity="0.6"/>
<circle cx="260.1" cy="78.3" r="1.9" fill="#2f509a" fill-opacity="0.6"/>
<circle cx="260.2" cy="110.5" r="1.9" fill="#2f509a" fill-opacity="0.6"/>
<circle cx="261.1" cy="84.5" r="1.9" fill="#2f509a" fill-opacity="0.6"/>
<circle cx="271.0" cy="128.3" r="1.9" fill="#2f509a" fill-opacity="0.6"/>
<circle cx="267.6" cy="81.1" r="1.9" fill="#2f509a" fill-opacity="0.6"/>
<circle cx="263.5" cy="103.9" r="1.9" fill="#2f509a" fill-opacity="0.6"/>
<circle cx="260.0" cy="105.1" r="1.9" fill="#2f509a" fill-opacity="0.6"/>
<circle cx="269.1" cy="113.9" r="1.9" fill="#2f509a" fill-opacity="0.6"/>
<circle cx="267.9" cy="129.9" r="1.9" fill="#2f509a" fill-opacity="0.6"/>
<circle cx="264.2" cy="122.7" r="1.9" fill="#2f509a" fill-opacity="0.6"/>
<circle cx="259.8" cy="85.0" r="1.9" fill="#2f509a" fill-opacity="0.6"/>
<circle cx="268.4" cy="129.8" r="1.9" fill="#2f509a" fill-opacity="0.6"/>
<circle cx="264.9" cy="128.8" r="1.9" fill="#2f509a" fill-opacity="0.6"/>
<circle cx="256.0" cy="113.6" r="1.9" fill="#2f509a" fill-opacity="0.6"/>
<circle cx="266.0" cy="128.9" r="1.9" fill="#2f509a" fill-opacity="0.6"/>
<circle cx="266.7" cy="120.4" r="1.9" fill="#2f509a" fill-opacity="0.6"/>
<circle cx="267.9" cy="99.8" r="1.9" fill="#2f509a" fill-opacity="0.6"/>
<circle cx="265.9" cy="117.5" r="1.9" fill="#2f509a" fill-opacity="0.6"/>
<circle cx="262.5" cy="100.9" r="1.9" fill="#2f509a" fill-opacity="0.6"/>
<circle cx="261.7" cy="97.1" r="1.9" fill="#2f509a" fill-opacity="0.6"/>
<circle cx="259.4" cy="96.7" r="1.9" fill="#2f509a" fill-opacity="0.6"/>
<circle cx="265.7" cy="89.1" r="1.9" fill="#2f509a" fill-opacity="0.6"/>
<circle cx="259.8" cy="95.5" r="1.9" fill="#2f509a" fill-opacity="0.6"/>
<circle cx="254.0" cy="112.7" r="1.9" fill="#2f509a" fill-opacity="0.6"/>
<circle cx="263.4" cy="114.4" r="1.9" fill="#2f509a" fill-opacity="0.6"/>
<circle cx="271.0" cy="137.1" r="1.9" fill="#2f509a" fill-opacity="0.6"/>
<circle cx="265.6" cy="123.5" r="1.9" fill="#2f509a" fill-opacity="0.6"/>
<circle cx="260.3" cy="77.6" r="1.9" fill="#2f509a" fill-opacity="0.6"/>
<circle cx="259.6" cy="82.8" r="1.9" fill="#2f509a" fill-opacity="0.6"/>
<circle cx="256.2" cy="110.4" r="1.9" fill="#2f509a" fill-opacity="0.6"/>
<circle cx="268.5" cy="111.6" r="1.9" fill="#2f509a" fill-opacity="0.6"/>
<circle cx="269.7" cy="127.3" r="1.9" fill="#2f509a" fill-opacity="0.6"/>
<circle cx="271.0" cy="124.3" r="1.9" fill="#2f509a" fill-opacity="0.6"/>
<circle cx="258.3" cy="84.8" r="1.9" fill="#2f509a" fill-opacity="0.6"/>
<circle cx="262.7" cy="106.8" r="1.9" fill="#2f509a" fill-opacity="0.6"/>
<circle cx="264.7" cy="135.4" r="1.9" fill="#2f509a" fill-opacity="0.6"/>
<circle cx="262.9" cy="114.3" r="1.9" fill="#2f509a" fill-opacity="0.6"/>
<circle cx="262.8" cy="116.7" r="1.9" fill="#2f509a" fill-opacity="0.6"/>
<circle cx="265.4" cy="121.1" r="1.9" fill="#2f509a" fill-opacity="0.6"/>
<circle cx="263.0" cy="90.8" r="1.9" fill="#2f509a" fill-opacity="0.6"/>
<circle cx="261.2" cy="124.9" r="1.9" fill="#2f509a" fill-opacity="0.6"/>
<circle cx="271.0" cy="124.0" r="1.9" fill="#2f509a" fill-opacity="0.6"/>
<circle cx="271.0" cy="135.9" r="1.9" fill="#2f509a" fill-opacity="0.6"/>
<circle cx="254.6" cy="103.3" r="1.9" fill="#2f509a" fill-opacity="0.6"/>
<circle cx="253.4" cy="90.1" r="1.9" fill="#2f509a" fill-opacity="0.6"/>
<circle cx="257.8" cy="121.9" r="1.9" fill="#2f509a" fill-opacity="0.6"/>
<circle cx="265.3" cy="126.6" r="1.9" fill="#2f509a" fill-opacity="0.6"/>
<circle cx="262.8" cy="115.4" r="1.9" fill="#2f509a" fill-opacity="0.6"/>
<circle cx="257.4" cy="76.5" r="1.9" fill="#2f509a" fill-opacity="0.6"/>
<circle cx="261.4" cy="102.6" r="1.9" fill="#2f509a" fill-opacity="0.6"/>
<circle cx="258.4" cy="91.2" r="1.9" fill="#2f509a" fill-opacity="0.6"/>
<circle cx="256.5" cy="123.8" r="1.9" fill="#2f509a" fill-opacity="0.6"/>
<circle cx="267.4" cy="134.3" r="1.9" fill="#2f509a" fill-opacity="0.6"/>
<circle cx="264.6" cy="80.0" r="1.9" fill="#2f509a" fill-opacity="0.6"/>
<circle cx="263.2" cy="116.0" r="1.9" fill="#2f509a" fill-opacity="0.6"/>
<circle cx="261.7" cy="118.3" r="1.9" fill="#2f509a" fill-opacity="0.6"/>
<circle cx="264.8" cy="115.0" r="1.9" fill="#2f509a" fill-opacity="0.6"/>
<circle cx="268.5" cy="90.5" r="1.9" fill="#2f509a" fill-opacity="0.6"/>
<circle cx="267.9" cy="130.9" r="1.9" fill="#2f509a" fill-opacity="0.6"/>
<circle cx="257.3" cy="93.1" r="1.9" fill="#2f509a" fill-opacity="0.6"/>
<circle cx="258.4" cy="80.4" r="1.9" fill="#2f509a" fill-opacity="0.6"/>
<circle cx="257.6" cy="77.9" r="1.9" fill="#2f509a" fill-opacity="0.6"/>
<circle cx="262.4" cy="116.6" r="1.9" fill="#2f509a" fill-opacity="0.6"/>
<circle cx="257.8" cy="89.9" r="1.9" fill="#2f509a" fill-opacity="0.6"/>
<circle cx="267.8" cy="128.6" r="1.9" fill="#2f509a" fill-opacity="0.6"/>
<circle cx="263.0" cy="125.1" r="1.9" fill="#2f509a" fill-opacity="0.6"/>
<circle cx="258.6" cy="88.8" r="1.9" fill="#2f509a" fill-opacity="0.6"/>
<circle cx="263.6" cy="127.9" r="1.9" fill="#2f509a" fill-opacity="0.6"/>
<circle cx="266.4" cy="138.7" r="1.9" fill="#2f509a" fill-opacity="0.6"/>
<circle cx="268.4" cy="122.1" r="1.9" fill="#2f509a" fill-opacity="0.6"/>
<circle cx="267.7" cy="100.3" r="1.9" fill="#2f509a" fill-opacity="0.6"/>
<circle cx="263.4" cy="79.5" r="1.9" fill="#2f509a" fill-opacity="0.6"/>
<circle cx="262.4" cy="105.5" r="1.9" fill="#2f509a" fill-opacity="0.6"/>
<circle cx="267.8" cy="124.9" r="1.9" fill="#2f509a" fill-opacity="0.6"/>
<circle cx="267.2" cy="118.0" r="1.9" fill="#2f509a" fill-opacity="0.6"/>
<circle cx="264.8" cy="120.5" r="1.9" fill="#2f509a" fill-opacity="0.6"/>
<circle cx="256.7" cy="85.0" r="1.9" fill="#2f509a" fill-opacity="0.6"/>
<circle cx="266.1" cy="100.0" r="1.9" fill="#2f509a" fill-opacity="0.6"/>
<circle cx="270.4" cy="110.4" r="1.9" fill="#2f509a" fill-opacity="0.6"/>
<circle cx="262.8" cy="133.7" r="1.9" fill="#2f509a" fill-opacity="0.6"/>
<circle cx="260.4" cy="95.8" r="1.9" fill="#2f509a" fill-opacity="0.6"/>
<circle cx="269.0" cy="133.5" r="1.9" fill="#2f509a" fill-opacity="0.6"/>
<circle cx="260.3" cy="99.3" r="1.9" fill="#2f509a" fill-opacity="0.6"/>
<circle cx="261.0" cy="101.2" r="1.9" fill="#2f509a" fill-opacity="0.6"/>
<circle cx="265.3" cy="110.0" r="1.9" fill="#2f509a" fill-opacity="0.6"/>
<circle cx="265.0" cy="127.9" r="1.9" fill="#2f509a" fill-opacity="0.6"/>
<circle cx="267.6" cy="122.8" r="1.9" fill="#2f509a" fill-opacity="0.6"/>
<circle cx="254.4" cy="74.0" r="1.9" fill="#2f509a" fill-opacity="0.6"/>
<circle cx="268.5" cy="111.3" r="1.9" fill="#2f509a" fill-opacity="0.6"/>
<circle cx="269.5" cy="126.8" r="1.9" fill="#2f509a" fill-opacity="0.6"/>
<circle cx="267.2" cy="125.5" r="1.9" fill="#2f509a" fill-opacity="0.6"/>
<circle cx="266.7" cy="121.9" r="1.9" fill="#2f509a" fill-opacity="0.6"/>
<circle cx="267.8" cy="117.4" r="1.9" fill="#2f509a" fill-opacity="0.6"/>
<circle cx="265.0" cy="117.6" r="1.9" fill="#2f509a" fill-opacity="0.6"/>
<circle cx="261.2" cy="123.6" r="1.9" fill="#2f509a" fill-opacity="0.6"/>
<circle cx="258.3" cy="103.3" r="1.9" fill="#2f509a" fill-opacity="0.6"/>
<circle cx="261.5" cy="118.2" r="1.9" fill="#2f509a" fill-opacity="0.6"/>
<circle cx="263.9" cy="118.6" r="1.9" fill="#2f509a" fill-opacity="0.6"/>
<circle cx="264.9" cy="100.0" r="1.9" fill="#2f509a" fill-opacity="0.6"/>
<circle cx="268.5" cy="127.1" r="1.9" fill="#2f509a" fill-opacity="0.6"/>
<circle cx="270.8" cy="130.9" r="1.9" fill="#2f509a" fill-opacity="0.6"/>
<circle cx="249.0" cy="87.0" r="1.9" fill="#4a68aa" fill-opacity="0.6"/>
<circle cx="249.6" cy="98.6" r="1.9" fill="#4a68aa" fill-opacity="0.6"/>
<circle cx="252.5" cy="110.0" r="1.9" fill="#4a68aa" fill-opacity="0.6"/>
<circle cx="254.0" cy="118.0" r="1.9" fill="#4a68aa" fill-opacity="0.6"/>
<circle cx="254.0" cy="123.7" r="1.9" fill="#4a68aa" fill-opacity="0.6"/>
<circle cx="261.8" cy="141.0" r="1.9" fill="#4a68aa" fill-opacity="0.6"/>
<circle cx="263.3" cy="143.8" r="1.9" fill="#4a68aa" fill-opacity="0.6"/>
<circle cx="248.5" cy="70.0" r="1.9" fill="#4a68aa" fill-opacity="0.6"/>
<circle cx="250.0" cy="79.0" r="1.9" fill="#4a68aa" fill-opacity="0.6"/>
<circle cx="256.0" cy="103.0" r="1.9" fill="#4a68aa" fill-opacity="0.6"/>
<circle cx="324.0" cy="68.7" r="1.9" fill="#d3283a" fill-opacity="0.6"/>
<circle cx="332.5" cy="64.6" r="1.9" fill="#d3283a" fill-opacity="0.6"/>
<circle cx="328.8" cy="71.5" r="1.9" fill="#d3283a" fill-opacity="0.6"/>
<circle cx="330.2" cy="60.5" r="1.9" fill="#d3283a" fill-opacity="0.6"/>
<circle cx="329.1" cy="72.3" r="1.9" fill="#d3283a" fill-opacity="0.6"/>
<circle cx="332.3" cy="75.5" r="1.9" fill="#d3283a" fill-opacity="0.6"/>
<circle cx="327.9" cy="84.0" r="1.9" fill="#d3283a" fill-opacity="0.6"/>
<circle cx="334.6" cy="71.7" r="1.9" fill="#d3283a" fill-opacity="0.6"/>
<circle cx="335.9" cy="75.2" r="1.9" fill="#d3283a" fill-opacity="0.6"/>
<circle cx="331.5" cy="66.6" r="1.9" fill="#d3283a" fill-opacity="0.6"/>
<circle cx="335.6" cy="72.3" r="1.9" fill="#d3283a" fill-opacity="0.6"/>
<circle cx="322.5" cy="63.9" r="1.9" fill="#d3283a" fill-opacity="0.6"/>
<circle cx="333.1" cy="70.6" r="1.9" fill="#d3283a" fill-opacity="0.6"/>
<circle cx="332.3" cy="73.5" r="1.9" fill="#d3283a" fill-opacity="0.6"/>
<circle cx="331.7" cy="78.7" r="1.9" fill="#d3283a" fill-opacity="0.6"/>
<circle cx="328.3" cy="67.8" r="1.9" fill="#d3283a" fill-opacity="0.6"/>
<circle cx="332.5" cy="74.1" r="1.9" fill="#d3283a" fill-opacity="0.6"/>
<circle cx="334.5" cy="78.2" r="1.9" fill="#d3283a" fill-opacity="0.6"/>
<circle cx="328.9" cy="76.4" r="1.9" fill="#d3283a" fill-opacity="0.6"/>
<circle cx="333.1" cy="64.3" r="1.9" fill="#d3283a" fill-opacity="0.6"/>
<circle cx="330.4" cy="81.5" r="1.9" fill="#d3283a" fill-opacity="0.6"/>
<circle cx="334.5" cy="67.4" r="1.9" fill="#d3283a" fill-opacity="0.6"/>
<circle cx="322.5" cy="66.0" r="1.9" fill="#d3283a" fill-opacity="0.6"/>
<circle cx="327.8" cy="70.4" r="1.9" fill="#d3283a" fill-opacity="0.6"/>
<circle cx="341.4" cy="74.1" r="1.9" fill="#d3283a" fill-opacity="0.6"/>
<circle cx="332.4" cy="64.9" r="1.9" fill="#d3283a" fill-opacity="0.6"/>
<circle cx="325.7" cy="68.9" r="1.9" fill="#d3283a" fill-opacity="0.6"/>
<circle cx="328.9" cy="84.0" r="1.9" fill="#d3283a" fill-opacity="0.6"/>
<circle cx="329.2" cy="66.6" r="1.9" fill="#d3283a" fill-opacity="0.6"/>
<circle cx="336.1" cy="70.4" r="1.9" fill="#d3283a" fill-opacity="0.6"/>
<circle cx="325.4" cy="77.1" r="1.9" fill="#d3283a" fill-opacity="0.6"/>
<circle cx="329.6" cy="62.7" r="1.9" fill="#d3283a" fill-opacity="0.6"/>
<circle cx="332.4" cy="72.7" r="1.9" fill="#d3283a" fill-opacity="0.6"/>
<circle cx="329.5" cy="73.8" r="1.9" fill="#d3283a" fill-opacity="0.6"/>
<circle cx="334.7" cy="65.1" r="1.9" fill="#d3283a" fill-opacity="0.6"/>
<circle cx="322.5" cy="60.5" r="1.9" fill="#d3283a" fill-opacity="0.6"/>
<circle cx="330.4" cy="76.8" r="1.9" fill="#d3283a" fill-opacity="0.6"/>
<circle cx="335.5" cy="77.7" r="1.9" fill="#d3283a" fill-opacity="0.6"/>
<circle cx="339.4" cy="70.1" r="1.9" fill="#d3283a" fill-opacity="0.6"/>
<circle cx="335.8" cy="61.6" r="1.9" fill="#d3283a" fill-opacity="0.6"/>
<circle cx="334.1" cy="72.2" r="1.9" fill="#d3283a" fill-opacity="0.6"/>
<circle cx="330.6" cy="67.6" r="1.9" fill="#d3283a" fill-opacity="0.6"/>
<circle cx="326.0" cy="70.8" r="1.9" fill="#d3283a" fill-opacity="0.6"/>
<circle cx="336.7" cy="68.0" r="1.9" fill="#d3283a" fill-opacity="0.6"/>
<circle cx="333.4" cy="66.3" r="1.9" fill="#d3283a" fill-opacity="0.6"/>
<circle cx="332.1" cy="64.5" r="1.9" fill="#d3283a" fill-opacity="0.6"/>
<circle cx="332.7" cy="68.8" r="1.9" fill="#d3283a" fill-opacity="0.6"/>
<circle cx="332.4" cy="66.7" r="1.9" fill="#d3283a" fill-opacity="0.6"/>
<circle cx="325.7" cy="68.2" r="1.9" fill="#d3283a" fill-opacity="0.6"/>
<circle cx="335.7" cy="78.7" r="1.9" fill="#d3283a" fill-opacity="0.6"/>
<circle cx="329.5" cy="74.4" r="1.9" fill="#d3283a" fill-opacity="0.6"/>
<circle cx="334.4" cy="72.2" r="1.9" fill="#d3283a" fill-opacity="0.6"/>
<circle cx="324.0" cy="71.8" r="1.9" fill="#d3283a" fill-opacity="0.6"/>
<circle cx="326.6" cy="76.5" r="1.9" fill="#d3283a" fill-opacity="0.6"/>
<circle cx="334.5" cy="73.4" r="1.9" fill="#d3283a" fill-opacity="0.6"/>
<circle cx="322.5" cy="73.4" r="1.9" fill="#d3283a" fill-opacity="0.6"/>
<circle cx="334.1" cy="63.0" r="1.9" fill="#d3283a" fill-opacity="0.6"/>
<circle cx="335.4" cy="70.4" r="1.9" fill="#d3283a" fill-opacity="0.6"/>
<circle cx="330.2" cy="66.1" r="1.9" fill="#d3283a" fill-opacity="0.6"/>
<circle cx="326.4" cy="67.6" r="1.9" fill="#d3283a" fill-opacity="0.6"/>
<circle cx="322.2" cy="94.9" r="1.9" fill="#d3283a" fill-opacity="0.55"/>
<circle cx="334.8" cy="83.1" r="1.9" fill="#d3283a" fill-opacity="0.55"/>
<circle cx="331.9" cy="84.4" r="1.9" fill="#d3283a" fill-opacity="0.55"/>
<circle cx="328.0" cy="88.1" r="1.9" fill="#d3283a" fill-opacity="0.55"/>
<circle cx="326.8" cy="85.1" r="1.9" fill="#d3283a" fill-opacity="0.55"/>
<circle cx="328.3" cy="90.0" r="1.9" fill="#d3283a" fill-opacity="0.55"/>
<circle cx="326.1" cy="83.0" r="1.9" fill="#d3283a" fill-opacity="0.55"/>
<circle cx="333.7" cy="84.9" r="1.9" fill="#d3283a" fill-opacity="0.55"/>
<circle cx="337.1" cy="88.4" r="1.9" fill="#d3283a" fill-opacity="0.55"/>
<circle cx="333.6" cy="85.0" r="1.9" fill="#d3283a" fill-opacity="0.55"/>
<circle cx="335.2" cy="81.4" r="1.9" fill="#d3283a" fill-opacity="0.55"/>
<circle cx="324.3" cy="81.4" r="1.9" fill="#d3283a" fill-opacity="0.55"/>
<circle cx="332.8" cy="90.6" r="1.9" fill="#d3283a" fill-opacity="0.55"/>
<circle cx="324.9" cy="86.0" r="1.9" fill="#d3283a" fill-opacity="0.55"/>
<circle cx="335.4" cy="88.9" r="1.9" fill="#d3283a" fill-opacity="0.55"/>
<circle cx="323.4" cy="83.4" r="1.9" fill="#d3283a" fill-opacity="0.55"/>
<circle cx="324.5" cy="81.9" r="1.9" fill="#d3283a" fill-opacity="0.55"/>
<circle cx="328.5" cy="81.1" r="1.9" fill="#d3283a" fill-opacity="0.55"/>
<circle cx="336.7" cy="86.4" r="1.9" fill="#d3283a" fill-opacity="0.55"/>
<circle cx="330.2" cy="89.7" r="1.9" fill="#d3283a" fill-opacity="0.55"/>
<circle cx="334.3" cy="92.3" r="1.9" fill="#d3283a" fill-opacity="0.55"/>
<circle cx="328.2" cy="85.0" r="1.9" fill="#d3283a" fill-opacity="0.55"/>
<circle cx="328.6" cy="80.2" r="1.9" fill="#d3283a" fill-opacity="0.55"/>
<circle cx="328.4" cy="90.5" r="1.9" fill="#d3283a" fill-opacity="0.55"/>
<circle cx="337.7" cy="91.8" r="1.9" fill="#d3283a" fill-opacity="0.55"/>
<circle cx="332.6" cy="89.1" r="1.9" fill="#d3283a" fill-opacity="0.55"/>
<circle cx="322.3" cy="85.0" r="1.9" fill="#d3283a" fill-opacity="0.55"/>
<circle cx="327.5" cy="89.8" r="1.9" fill="#d3283a" fill-opacity="0.55"/>
<circle cx="323.7" cy="85.7" r="1.9" fill="#d3283a" fill-opacity="0.55"/>
<circle cx="330.1" cy="91.8" r="1.9" fill="#d3283a" fill-opacity="0.55"/>
<circle cx="325.2" cy="100.6" r="1.9" fill="#d3283a" fill-opacity="0.6"/>
<circle cx="328.5" cy="133.4" r="1.9" fill="#d3283a" fill-opacity="0.6"/>
<circle cx="327.5" cy="111.0" r="1.9" fill="#d3283a" fill-opacity="0.6"/>
<circle cx="325.8" cy="119.0" r="1.9" fill="#d3283a" fill-opacity="0.6"/>
<circle cx="327.3" cy="145.3" r="1.9" fill="#d3283a" fill-opacity="0.6"/>
<circle cx="328.6" cy="119.9" r="1.9" fill="#d3283a" fill-opacity="0.6"/>
<circle cx="324.1" cy="102.6" r="1.9" fill="#d3283a" fill-opacity="0.6"/>
<circle cx="332.0" cy="143.0" r="1.9" fill="#d3283a" fill-opacity="0.6"/>
<circle cx="324.3" cy="96.5" r="1.9" fill="#d3283a" fill-opacity="0.6"/>
<circle cx="324.4" cy="105.2" r="1.9" fill="#d3283a" fill-opacity="0.6"/>
<circle cx="329.3" cy="109.8" r="1.9" fill="#d3283a" fill-opacity="0.6"/>
<circle cx="325.7" cy="142.2" r="1.9" fill="#d3283a" fill-opacity="0.6"/>
<circle cx="325.7" cy="98.7" r="1.9" fill="#d3283a" fill-opacity="0.6"/>
<circle cx="326.5" cy="144.6" r="1.9" fill="#d3283a" fill-opacity="0.6"/>
<circle cx="329.6" cy="121.3" r="1.9" fill="#d3283a" fill-opacity="0.6"/>
<circle cx="330.8" cy="122.3" r="1.9" fill="#d3283a" fill-opacity="0.6"/>
<circle cx="325.8" cy="141.1" r="1.9" fill="#d3283a" fill-opacity="0.6"/>
<circle cx="323.4" cy="145.6" r="1.9" fill="#d3283a" fill-opacity="0.6"/>
<circle cx="324.9" cy="98.6" r="1.9" fill="#d3283a" fill-opacity="0.6"/>
<circle cx="328.6" cy="136.5" r="1.9" fill="#d3283a" fill-opacity="0.6"/>
<circle cx="324.6" cy="105.0" r="1.9" fill="#d3283a" fill-opacity="0.6"/>
<circle cx="333.2" cy="123.0" r="1.9" fill="#d3283a" fill-opacity="0.6"/>
<circle cx="323.5" cy="121.6" r="1.9" fill="#d3283a" fill-opacity="0.6"/>
<circle cx="324.9" cy="96.1" r="1.9" fill="#d3283a" fill-opacity="0.6"/>
<circle cx="325.2" cy="145.3" r="1.9" fill="#d3283a" fill-opacity="0.6"/>
<circle cx="322.5" cy="142.7" r="1.9" fill="#d3283a" fill-opacity="0.6"/>
<circle cx="324.4" cy="128.2" r="1.9" fill="#d3283a" fill-opacity="0.6"/>
<circle cx="325.8" cy="131.8" r="1.9" fill="#d3283a" fill-opacity="0.6"/>
<circle cx="327.2" cy="135.4" r="1.9" fill="#d3283a" fill-opacity="0.6"/>
<circle cx="326.8" cy="92.9" r="1.9" fill="#d3283a" fill-opacity="0.6"/>
<circle cx="323.7" cy="99.7" r="1.9" fill="#d3283a" fill-opacity="0.6"/>
<circle cx="327.7" cy="112.9" r="1.9" fill="#d3283a" fill-opacity="0.6"/>
<circle cx="324.9" cy="120.1" r="1.9" fill="#d3283a" fill-opacity="0.6"/>
<circle cx="323.2" cy="106.2" r="1.9" fill="#d3283a" fill-opacity="0.6"/>
<circle cx="326.3" cy="126.7" r="1.9" fill="#d3283a" fill-opacity="0.6"/>
<circle cx="323.8" cy="94.0" r="1.9" fill="#d3283a" fill-opacity="0.6"/>
<circle cx="323.3" cy="143.8" r="1.9" fill="#d3283a" fill-opacity="0.6"/>
<circle cx="324.5" cy="124.4" r="1.9" fill="#d3283a" fill-opacity="0.6"/>
<circle cx="327.4" cy="125.7" r="1.9" fill="#d3283a" fill-opacity="0.6"/>
<circle cx="322.9" cy="129.2" r="1.9" fill="#d3283a" fill-opacity="0.6"/>
<circle cx="322.3" cy="118.2" r="1.9" fill="#d3283a" fill-opacity="0.6"/>
<circle cx="331.0" cy="145.7" r="1.9" fill="#d3283a" fill-opacity="0.6"/>
<circle cx="327.5" cy="114.1" r="1.9" fill="#d3283a" fill-opacity="0.6"/>
<circle cx="331.0" cy="115.4" r="1.9" fill="#d3283a" fill-opacity="0.6"/>
<circle cx="332.7" cy="120.4" r="1.9" fill="#d3283a" fill-opacity="0.6"/>
<circle cx="326.6" cy="120.4" r="1.9" fill="#d3283a" fill-opacity="0.6"/>
<circle cx="332.7" cy="109.3" r="1.9" fill="#d3283a" fill-opacity="0.6"/>
<circle cx="326.7" cy="95.0" r="1.9" fill="#d3283a" fill-opacity="0.6"/>
<circle cx="323.6" cy="131.5" r="1.9" fill="#d3283a" fill-opacity="0.6"/>
<circle cx="333.5" cy="124.3" r="1.9" fill="#d3283a" fill-opacity="0.6"/>
<circle cx="321.9" cy="124.0" r="1.9" fill="#d3283a" fill-opacity="0.6"/>
<circle cx="326.5" cy="95.8" r="1.9" fill="#d3283a" fill-opacity="0.6"/>
<circle cx="326.0" cy="119.1" r="1.9" fill="#d3283a" fill-opacity="0.6"/>
<circle cx="326.0" cy="113.4" r="1.9" fill="#d3283a" fill-opacity="0.6"/>
<circle cx="329.8" cy="120.4" r="1.9" fill="#d3283a" fill-opacity="0.6"/>
<circle cx="324.5" cy="104.9" r="1.9" fill="#d3283a" fill-opacity="0.6"/>
<circle cx="323.7" cy="104.7" r="1.9" fill="#d3283a" fill-opacity="0.6"/>
<circle cx="327.0" cy="95.7" r="1.9" fill="#d3283a" fill-opacity="0.6"/>
<circle cx="334.0" cy="127.9" r="1.9" fill="#d3283a" fill-opacity="0.6"/>
<circle cx="329.4" cy="138.8" r="1.9" fill="#d3283a" fill-opacity="0.6"/>
<circle cx="330.6" cy="104.0" r="1.9" fill="#d3283a" fill-opacity="0.6"/>
<circle cx="326.5" cy="132.3" r="1.9" fill="#d3283a" fill-opacity="0.6"/>
<circle cx="332.7" cy="97.3" r="1.9" fill="#d3283a" fill-opacity="0.6"/>
<circle cx="326.6" cy="134.8" r="1.9" fill="#d3283a" fill-opacity="0.6"/>
<circle cx="326.7" cy="143.4" r="1.9" fill="#d3283a" fill-opacity="0.6"/>
<circle cx="326.6" cy="92.0" r="1.9" fill="#d3283a" fill-opacity="0.6"/>
<circle cx="322.0" cy="109.5" r="1.9" fill="#d3283a" fill-opacity="0.6"/>
<circle cx="326.4" cy="95.4" r="1.9" fill="#d3283a" fill-opacity="0.6"/>
<circle cx="329.8" cy="113.5" r="1.9" fill="#d3283a" fill-opacity="0.6"/>
<circle cx="328.0" cy="111.3" r="1.9" fill="#d3283a" fill-opacity="0.6"/>
<circle cx="323.2" cy="93.7" r="1.9" fill="#d3283a" fill-opacity="0.6"/>
<circle cx="322.7" cy="140.5" r="1.9" fill="#d3283a" fill-opacity="0.6"/>
<circle cx="324.1" cy="142.4" r="1.9" fill="#d3283a" fill-opacity="0.6"/>
<circle cx="327.8" cy="144.8" r="1.9" fill="#d3283a" fill-opacity="0.6"/>
<circle cx="325.5" cy="107.9" r="1.9" fill="#d3283a" fill-opacity="0.6"/>
<circle cx="322.4" cy="141.8" r="1.9" fill="#d3283a" fill-opacity="0.6"/>
<circle cx="324.7" cy="137.2" r="1.9" fill="#d3283a" fill-opacity="0.6"/>
<circle cx="324.0" cy="111.1" r="1.9" fill="#d3283a" fill-opacity="0.6"/>
<circle cx="325.1" cy="139.5" r="1.9" fill="#d3283a" fill-opacity="0.6"/>
<circle cx="322.4" cy="145.8" r="1.9" fill="#d3283a" fill-opacity="0.6"/>
<circle cx="324.1" cy="102.3" r="1.9" fill="#d3283a" fill-opacity="0.6"/>
<circle cx="329.2" cy="139.5" r="1.9" fill="#d3283a" fill-opacity="0.6"/>
<circle cx="324.3" cy="131.2" r="1.9" fill="#d3283a" fill-opacity="0.6"/>
<circle cx="322.6" cy="108.9" r="1.9" fill="#d3283a" fill-opacity="0.6"/>
<circle cx="330.8" cy="130.5" r="1.9" fill="#d3283a" fill-opacity="0.6"/>
<circle cx="328.3" cy="99.3" r="1.9" fill="#d3283a" fill-opacity="0.6"/>
<circle cx="326.1" cy="116.0" r="1.9" fill="#d3283a" fill-opacity="0.6"/>
<circle cx="334.0" cy="96.3" r="1.9" fill="#d3283a" fill-opacity="0.6"/>
<circle cx="322.6" cy="130.4" r="1.9" fill="#d3283a" fill-opacity="0.6"/>
<circle cx="326.4" cy="102.6" r="1.9" fill="#d3283a" fill-opacity="0.6"/>
<circle cx="323.5" cy="127.9" r="1.9" fill="#d3283a" fill-opacity="0.6"/>
<circle cx="325.5" cy="134.7" r="1.9" fill="#d3283a" fill-opacity="0.6"/>
<circle cx="327.4" cy="139.8" r="1.9" fill="#d3283a" fill-opacity="0.6"/>
<circle cx="327.6" cy="123.9" r="1.9" fill="#d3283a" fill-opacity="0.6"/>
<circle cx="322.4" cy="142.0" r="1.9" fill="#d3283a" fill-opacity="0.6"/>
<circle cx="326.4" cy="128.0" r="1.9" fill="#d3283a" fill-opacity="0.6"/>
<circle cx="323.1" cy="96.9" r="1.9" fill="#d3283a" fill-opacity="0.6"/>
<circle cx="329.5" cy="145.1" r="1.9" fill="#d3283a" fill-opacity="0.6"/>
<circle cx="328.1" cy="120.7" r="1.9" fill="#d3283a" fill-opacity="0.6"/>
<circle cx="324.3" cy="94.4" r="1.9" fill="#d3283a" fill-opacity="0.6"/>
<circle cx="325.4" cy="105.5" r="1.9" fill="#d3283a" fill-opacity="0.6"/>
<circle cx="324.4" cy="135.4" r="1.9" fill="#d3283a" fill-opacity="0.6"/>
<circle cx="325.6" cy="132.8" r="1.9" fill="#d3283a" fill-opacity="0.6"/>
<circle cx="324.1" cy="105.3" r="1.9" fill="#d3283a" fill-opacity="0.6"/>
<circle cx="323.1" cy="102.1" r="1.9" fill="#d3283a" fill-opacity="0.6"/>
<circle cx="328.6" cy="140.4" r="1.9" fill="#d3283a" fill-opacity="0.6"/>
<circle cx="323.2" cy="116.9" r="1.9" fill="#d3283a" fill-opacity="0.6"/>
<circle cx="321.9" cy="132.5" r="1.9" fill="#d3283a" fill-opacity="0.6"/>
<circle cx="331.3" cy="119.0" r="1.9" fill="#d3283a" fill-opacity="0.6"/>
<circle cx="330.2" cy="101.7" r="1.9" fill="#d3283a" fill-opacity="0.6"/>
<circle cx="329.2" cy="111.4" r="1.9" fill="#d3283a" fill-opacity="0.6"/>
<circle cx="324.5" cy="127.5" r="1.9" fill="#d3283a" fill-opacity="0.6"/>
<circle cx="323.2" cy="119.3" r="1.9" fill="#d3283a" fill-opacity="0.6"/>
<circle cx="328.3" cy="137.7" r="1.9" fill="#d3283a" fill-opacity="0.6"/>
<circle cx="324.5" cy="143.4" r="1.9" fill="#d3283a" fill-opacity="0.6"/>
<circle cx="327.9" cy="101.4" r="1.9" fill="#d3283a" fill-opacity="0.6"/>
<circle cx="322.4" cy="124.8" r="1.9" fill="#d3283a" fill-opacity="0.6"/>
<circle cx="325.0" cy="104.7" r="1.9" fill="#d3283a" fill-opacity="0.6"/>
<circle cx="330.6" cy="134.5" r="1.9" fill="#d3283a" fill-opacity="0.6"/>
<circle cx="325.3" cy="134.7" r="1.9" fill="#d3283a" fill-opacity="0.6"/>
<circle cx="322.4" cy="103.9" r="1.9" fill="#d3283a" fill-opacity="0.6"/>
<circle cx="328.1" cy="123.3" r="1.9" fill="#d3283a" fill-opacity="0.6"/>
<circle cx="323.3" cy="124.2" r="1.9" fill="#d3283a" fill-opacity="0.6"/>
<circle cx="321.8" cy="130.6" r="1.9" fill="#d3283a" fill-opacity="0.6"/>
<circle cx="331.8" cy="101.7" r="1.9" fill="#d3283a" fill-opacity="0.6"/>
<circle cx="326.7" cy="100.2" r="1.9" fill="#d3283a" fill-opacity="0.6"/>
<circle cx="328.2" cy="115.5" r="1.9" fill="#d3283a" fill-opacity="0.6"/>
<circle cx="322.5" cy="115.9" r="1.9" fill="#d3283a" fill-opacity="0.6"/>
<circle cx="322.6" cy="95.9" r="1.9" fill="#d3283a" fill-opacity="0.6"/>
<circle cx="331.6" cy="141.0" r="1.9" fill="#d3283a" fill-opacity="0.6"/>
<circle cx="328.1" cy="134.7" r="1.9" fill="#d3283a" fill-opacity="0.6"/>
<circle cx="324.7" cy="104.9" r="1.9" fill="#d3283a" fill-opacity="0.6"/>
<circle cx="324.7" cy="94.3" r="1.9" fill="#d3283a" fill-opacity="0.6"/>
<circle cx="325.6" cy="109.0" r="1.9" fill="#d3283a" fill-opacity="0.6"/>
<circle cx="326.7" cy="106.3" r="1.9" fill="#d3283a" fill-opacity="0.6"/>
<circle cx="326.4" cy="123.8" r="1.9" fill="#d3283a" fill-opacity="0.6"/>
<circle cx="330.5" cy="101.3" r="1.9" fill="#d3283a" fill-opacity="0.6"/>
<circle cx="327.2" cy="105.8" r="1.9" fill="#d3283a" fill-opacity="0.6"/>
<circle cx="326.3" cy="136.9" r="1.9" fill="#d3283a" fill-opacity="0.6"/>
<circle cx="328.9" cy="134.5" r="1.9" fill="#d3283a" fill-opacity="0.6"/>
<circle cx="327.0" cy="111.7" r="1.9" fill="#d3283a" fill-opacity="0.6"/>
<circle cx="323.9" cy="103.7" r="1.9" fill="#d3283a" fill-opacity="0.6"/>
<circle cx="323.4" cy="118.4" r="1.9" fill="#d3283a" fill-opacity="0.6"/>
<circle cx="322.1" cy="133.1" r="1.9" fill="#d3283a" fill-opacity="0.6"/>
<circle cx="324.9" cy="116.6" r="1.9" fill="#d3283a" fill-opacity="0.6"/>
<circle cx="322.1" cy="132.2" r="1.9" fill="#d3283a" fill-opacity="0.6"/>
<circle cx="325.8" cy="140.1" r="1.9" fill="#d3283a" fill-opacity="0.6"/>
<circle cx="322.8" cy="99.6" r="1.9" fill="#d3283a" fill-opacity="0.6"/>
<circle cx="325.4" cy="114.9" r="1.9" fill="#d3283a" fill-opacity="0.6"/>
<circle cx="324.7" cy="96.1" r="1.9" fill="#d3283a" fill-opacity="0.6"/>
<circle cx="339.7" cy="133.2" r="1.9" fill="#d3283a" fill-opacity="0.6"/>
<circle cx="325.7" cy="131.6" r="1.9" fill="#d3283a" fill-opacity="0.6"/>
<circle cx="322.3" cy="121.8" r="1.9" fill="#d3283a" fill-opacity="0.6"/>
<circle cx="326.0" cy="105.1" r="1.9" fill="#d3283a" fill-opacity="0.6"/>
<circle cx="334.2" cy="111.7" r="1.9" fill="#d3283a" fill-opacity="0.6"/>
<circle cx="324.9" cy="110.2" r="1.9" fill="#d3283a" fill-opacity="0.6"/>
<circle cx="329.3" cy="94.1" r="1.9" fill="#d3283a" fill-opacity="0.6"/>
<circle cx="322.7" cy="113.8" r="1.9" fill="#d3283a" fill-opacity="0.6"/>
<circle cx="322.9" cy="110.5" r="1.9" fill="#d3283a" fill-opacity="0.6"/>
<circle cx="323.3" cy="129.5" r="1.9" fill="#d3283a" fill-opacity="0.6"/>
<circle cx="326.6" cy="139.9" r="1.9" fill="#d3283a" fill-opacity="0.6"/>
<circle cx="327.3" cy="117.0" r="1.9" fill="#d3283a" fill-opacity="0.6"/>
<circle cx="330.1" cy="112.6" r="1.9" fill="#d3283a" fill-opacity="0.6"/>
<circle cx="328.4" cy="134.2" r="1.9" fill="#d3283a" fill-opacity="0.6"/>
<circle cx="322.9" cy="101.9" r="1.9" fill="#d3283a" fill-opacity="0.6"/>
<circle cx="326.8" cy="121.7" r="1.9" fill="#d3283a" fill-opacity="0.6"/>
<circle cx="323.7" cy="103.6" r="1.9" fill="#d3283a" fill-opacity="0.6"/>
<circle cx="325.0" cy="117.3" r="1.9" fill="#d3283a" fill-opacity="0.6"/>
<circle cx="324.0" cy="145.6" r="1.9" fill="#d3283a" fill-opacity="0.6"/>
<circle cx="327.4" cy="128.7" r="1.9" fill="#d3283a" fill-opacity="0.6"/>
<circle cx="324.2" cy="112.7" r="1.9" fill="#d3283a" fill-opacity="0.6"/>
<circle cx="324.6" cy="95.9" r="1.9" fill="#d3283a" fill-opacity="0.6"/>
<circle cx="323.7" cy="106.8" r="1.9" fill="#d3283a" fill-opacity="0.6"/>
<circle cx="326.7" cy="93.0" r="1.9" fill="#d3283a" fill-opacity="0.6"/>
<circle cx="323.6" cy="113.2" r="1.9" fill="#d3283a" fill-opacity="0.6"/>
<circle cx="325.7" cy="141.9" r="1.9" fill="#d3283a" fill-opacity="0.6"/>
<circle cx="322.7" cy="111.5" r="1.9" fill="#d3283a" fill-opacity="0.6"/>
<circle cx="326.0" cy="100.3" r="1.9" fill="#d3283a" fill-opacity="0.6"/>
<circle cx="326.6" cy="133.3" r="1.9" fill="#d3283a" fill-opacity="0.6"/>
<circle cx="323.8" cy="131.1" r="1.9" fill="#d3283a" fill-opacity="0.6"/>
<circle cx="322.7" cy="109.4" r="1.9" fill="#d3283a" fill-opacity="0.6"/>
<circle cx="322.4" cy="112.8" r="1.9" fill="#d3283a" fill-opacity="0.6"/>
<circle cx="331.7" cy="109.6" r="1.9" fill="#d3283a" fill-opacity="0.6"/>
<circle cx="327.5" cy="133.6" r="1.9" fill="#d3283a" fill-opacity="0.6"/>
<circle cx="323.6" cy="113.3" r="1.9" fill="#d3283a" fill-opacity="0.6"/>
<circle cx="322.0" cy="104.9" r="1.9" fill="#d3283a" fill-opacity="0.6"/>
<circle cx="324.8" cy="124.2" r="1.9" fill="#d3283a" fill-opacity="0.6"/>
<circle cx="322.6" cy="93.7" r="1.9" fill="#d3283a" fill-opacity="0.6"/>
<circle cx="324.0" cy="121.4" r="1.9" fill="#d3283a" fill-opacity="0.6"/>
<circle cx="327.1" cy="99.3" r="1.9" fill="#d3283a" fill-opacity="0.6"/>
<circle cx="323.0" cy="131.2" r="1.9" fill="#d3283a" fill-opacity="0.6"/>
<circle cx="325.9" cy="128.0" r="1.9" fill="#d3283a" fill-opacity="0.6"/>
<circle cx="324.0" cy="107.1" r="1.9" fill="#d3283a" fill-opacity="0.6"/>
<circle cx="324.8" cy="130.5" r="1.9" fill="#d3283a" fill-opacity="0.6"/>
<circle cx="326.3" cy="138.8" r="1.9" fill="#d3283a" fill-opacity="0.6"/>
<circle cx="324.8" cy="104.2" r="1.9" fill="#d3283a" fill-opacity="0.6"/>
<circle cx="323.1" cy="103.7" r="1.9" fill="#d3283a" fill-opacity="0.6"/>
<circle cx="326.7" cy="94.2" r="1.9" fill="#d3283a" fill-opacity="0.6"/>
<circle cx="329.5" cy="122.6" r="1.9" fill="#d3283a" fill-opacity="0.6"/>
<circle cx="323.0" cy="135.7" r="1.9" fill="#d3283a" fill-opacity="0.6"/>
<circle cx="326.4" cy="128.2" r="1.9" fill="#d3283a" fill-opacity="0.6"/>
<circle cx="322.5" cy="141.6" r="1.9" fill="#d3283a" fill-opacity="0.6"/>
<circle cx="323.6" cy="128.0" r="1.9" fill="#d3283a" fill-opacity="0.6"/>
<circle cx="330.0" cy="143.6" r="1.9" fill="#d3283a" fill-opacity="0.6"/>
<circle cx="324.5" cy="126.2" r="1.9" fill="#d3283a" fill-opacity="0.6"/>
<circle cx="324.8" cy="96.9" r="1.9" fill="#d3283a" fill-opacity="0.6"/>
<circle cx="326.7" cy="95.2" r="1.9" fill="#d3283a" fill-opacity="0.6"/>
<circle cx="324.2" cy="112.7" r="1.9" fill="#d3283a" fill-opacity="0.6"/>
<circle cx="324.8" cy="107.1" r="1.9" fill="#d3283a" fill-opacity="0.6"/>
<circle cx="327.5" cy="100.6" r="1.9" fill="#d3283a" fill-opacity="0.6"/>
<circle cx="351.0" cy="64.2" r="1.9" fill="#d9505e" fill-opacity="0.6"/>
<circle cx="344.7" cy="75.7" r="1.9" fill="#d9505e" fill-opacity="0.6"/>
<circle cx="342.5" cy="112.3" r="1.9" fill="#d9505e" fill-opacity="0.6"/>
<circle cx="339.0" cy="103.0" r="1.9" fill="#d9505e" fill-opacity="0.6"/>
<circle cx="338.2" cy="128.0" r="1.9" fill="#d9505e" fill-opacity="0.6"/>
<circle cx="342.5" cy="130.2" r="1.9" fill="#d9505e" fill-opacity="0.6"/>
<circle cx="350.4" cy="136.6" r="1.9" fill="#d9505e" fill-opacity="0.6"/>
<circle cx="344.7" cy="145.3" r="1.9" fill="#d9505e" fill-opacity="0.6"/>
<circle cx="346.0" cy="95.0" r="1.9" fill="#d9505e" fill-opacity="0.6"/>
<path d="M272.0,103.5 L276.5,104.0 L279.5,110.0 L283.0,120.0 L287.0,130.0 L291.0,139.0 L294.0,147.0 L297.5,141.0 L300.5,136.0 L305.0,130.0 L309.0,120.0 L313.0,110.0 L316.0,104.0 L318.5,102.0 L321.0,102.0 L321.0,156.0 L272.0,156.0Z" fill="#17694b" />
<circle cx="278.5" cy="105.7" r="1.7" fill="#17694b" fill-opacity="0.9"/>
<circle cx="278.5" cy="107.2" r="1.7" fill="#17694b" fill-opacity="0.9"/>
<circle cx="278.1" cy="105.4" r="1.7" fill="#17694b" fill-opacity="0.9"/>
<circle cx="279.9" cy="107.6" r="1.7" fill="#17694b" fill-opacity="0.9"/>
<circle cx="277.8" cy="108.0" r="1.7" fill="#17694b" fill-opacity="0.9"/>
<circle cx="276.9" cy="106.0" r="1.7" fill="#17694b" fill-opacity="0.9"/>
<circle cx="277.5" cy="104.5" r="1.7" fill="#17694b" fill-opacity="0.9"/>
<circle cx="281.9" cy="105.8" r="1.7" fill="#5e8f78" fill-opacity="0.75"/>
<circle cx="280.6" cy="105.7" r="1.7" fill="#5e8f78" fill-opacity="0.75"/>
<circle cx="281.5" cy="116.0" r="1.7" fill="#17694b" fill-opacity="0.9"/>
<circle cx="280.9" cy="112.1" r="1.7" fill="#17694b" fill-opacity="0.9"/>
<circle cx="283.2" cy="119.7" r="1.7" fill="#17694b" fill-opacity="0.9"/>
<circle cx="284.7" cy="119.7" r="1.7" fill="#17694b" fill-opacity="0.9"/>
<circle cx="282.3" cy="116.0" r="1.7" fill="#17694b" fill-opacity="0.9"/>
<circle cx="282.6" cy="113.5" r="1.7" fill="#17694b" fill-opacity="0.9"/>
<circle cx="283.2" cy="112.9" r="1.7" fill="#17694b" fill-opacity="0.9"/>
<circle cx="284.5" cy="110.6" r="1.7" fill="#5e8f78" fill-opacity="0.75"/>
<circle cx="286.7" cy="112.2" r="1.7" fill="#5e8f78" fill-opacity="0.75"/>
<circle cx="283.7" cy="122.3" r="1.7" fill="#17694b" fill-opacity="0.9"/>
<circle cx="283.0" cy="122.4" r="1.7" fill="#17694b" fill-opacity="0.9"/>
<circle cx="284.5" cy="123.9" r="1.7" fill="#17694b" fill-opacity="0.9"/>
<circle cx="286.7" cy="126.8" r="1.7" fill="#17694b" fill-opacity="0.9"/>
<circle cx="287.3" cy="126.5" r="1.7" fill="#17694b" fill-opacity="0.9"/>
<circle cx="284.7" cy="124.1" r="1.7" fill="#17694b" fill-opacity="0.9"/>
<circle cx="285.9" cy="123.5" r="1.7" fill="#17694b" fill-opacity="0.9"/>
<circle cx="291.6" cy="128.2" r="1.7" fill="#5e8f78" fill-opacity="0.75"/>
<circle cx="288.5" cy="121.6" r="1.7" fill="#5e8f78" fill-opacity="0.75"/>
<circle cx="289.7" cy="134.6" r="1.7" fill="#17694b" fill-opacity="0.9"/>
<circle cx="291.0" cy="136.2" r="1.7" fill="#17694b" fill-opacity="0.9"/>
<circle cx="288.3" cy="131.6" r="1.7" fill="#17694b" fill-opacity="0.9"/>
<circle cx="288.6" cy="133.8" r="1.7" fill="#17694b" fill-opacity="0.9"/>
<circle cx="286.7" cy="131.0" r="1.7" fill="#17694b" fill-opacity="0.9"/>
<circle cx="288.2" cy="131.6" r="1.7" fill="#17694b" fill-opacity="0.9"/>
<circle cx="288.6" cy="135.1" r="1.7" fill="#17694b" fill-opacity="0.9"/>
<circle cx="293.6" cy="136.8" r="1.7" fill="#5e8f78" fill-opacity="0.75"/>
<circle cx="294.4" cy="134.1" r="1.7" fill="#5e8f78" fill-opacity="0.75"/>
<circle cx="293.2" cy="145.2" r="1.7" fill="#17694b" fill-opacity="0.9"/>
<circle cx="292.3" cy="142.1" r="1.7" fill="#17694b" fill-opacity="0.9"/>
<circle cx="295.6" cy="145.9" r="1.7" fill="#17694b" fill-opacity="0.9"/>
<circle cx="293.9" cy="142.6" r="1.7" fill="#17694b" fill-opacity="0.9"/>
<circle cx="295.5" cy="144.9" r="1.7" fill="#17694b" fill-opacity="0.9"/>
<circle cx="293.6" cy="141.5" r="1.7" fill="#17694b" fill-opacity="0.9"/>
<circle cx="290.7" cy="140.6" r="1.7" fill="#17694b" fill-opacity="0.9"/>
<circle cx="299.7" cy="145.1" r="1.7" fill="#5e8f78" fill-opacity="0.75"/>
<circle cx="297.3" cy="145.0" r="1.7" fill="#5e8f78" fill-opacity="0.75"/>
<circle cx="292.9" cy="145.6" r="1.7" fill="#17694b" fill-opacity="0.9"/>
<circle cx="292.5" cy="145.9" r="1.7" fill="#17694b" fill-opacity="0.9"/>
<circle cx="294.0" cy="147.2" r="1.7" fill="#17694b" fill-opacity="0.9"/>
<circle cx="297.9" cy="140.7" r="1.7" fill="#17694b" fill-opacity="0.9"/>
<circle cx="293.0" cy="146.8" r="1.7" fill="#17694b" fill-opacity="0.9"/>
<circle cx="295.1" cy="145.4" r="1.7" fill="#17694b" fill-opacity="0.9"/>
<circle cx="296.8" cy="141.8" r="1.7" fill="#17694b" fill-opacity="0.9"/>
<circle cx="290.9" cy="145.2" r="1.7" fill="#5e8f78" fill-opacity="0.75"/>
<circle cx="290.3" cy="144.8" r="1.7" fill="#5e8f78" fill-opacity="0.75"/>
<circle cx="300.3" cy="136.3" r="1.7" fill="#17694b" fill-opacity="0.9"/>
<circle cx="295.4" cy="140.0" r="1.7" fill="#17694b" fill-opacity="0.9"/>
<circle cx="299.4" cy="138.2" r="1.7" fill="#17694b" fill-opacity="0.9"/>
<circle cx="296.4" cy="140.2" r="1.7" fill="#17694b" fill-opacity="0.9"/>
<circle cx="299.3" cy="137.3" r="1.7" fill="#17694b" fill-opacity="0.9"/>
<circle cx="298.5" cy="138.1" r="1.7" fill="#17694b" fill-opacity="0.9"/>
<circle cx="298.3" cy="141.5" r="1.7" fill="#17694b" fill-opacity="0.9"/>
<circle cx="295.2" cy="138.2" r="1.7" fill="#5e8f78" fill-opacity="0.75"/>
<circle cx="293.0" cy="137.4" r="1.7" fill="#5e8f78" fill-opacity="0.75"/>
<circle cx="303.6" cy="130.6" r="1.7" fill="#17694b" fill-opacity="0.9"/>
<circle cx="303.6" cy="130.3" r="1.7" fill="#17694b" fill-opacity="0.9"/>
<circle cx="301.5" cy="132.9" r="1.7" fill="#17694b" fill-opacity="0.9"/>
<circle cx="299.3" cy="135.1" r="1.7" fill="#17694b" fill-opacity="0.9"/>
<circle cx="304.3" cy="130.7" r="1.7" fill="#17694b" fill-opacity="0.9"/>
<circle cx="304.0" cy="130.7" r="1.7" fill="#17694b" fill-opacity="0.9"/>
<circle cx="301.7" cy="134.1" r="1.7" fill="#17694b" fill-opacity="0.9"/>
<circle cx="296.9" cy="133.1" r="1.7" fill="#5e8f78" fill-opacity="0.75"/>
<circle cx="299.8" cy="131.8" r="1.7" fill="#5e8f78" fill-opacity="0.75"/>
<circle cx="309.7" cy="120.5" r="1.7" fill="#17694b" fill-opacity="0.9"/>
<circle cx="306.3" cy="122.4" r="1.7" fill="#17694b" fill-opacity="0.9"/>
<circle cx="304.6" cy="126.7" r="1.7" fill="#17694b" fill-opacity="0.9"/>
<circle cx="305.4" cy="121.5" r="1.7" fill="#17694b" fill-opacity="0.9"/>
<circle cx="308.3" cy="120.9" r="1.7" fill="#17694b" fill-opacity="0.9"/>
<circle cx="303.6" cy="126.5" r="1.7" fill="#17694b" fill-opacity="0.9"/>
<circle cx="307.4" cy="124.0" r="1.7" fill="#17694b" fill-opacity="0.9"/>
<circle cx="301.5" cy="127.5" r="1.7" fill="#5e8f78" fill-opacity="0.75"/>
<circle cx="301.5" cy="125.8" r="1.7" fill="#5e8f78" fill-opacity="0.75"/>
<circle cx="307.8" cy="116.9" r="1.7" fill="#17694b" fill-opacity="0.9"/>
<circle cx="309.1" cy="119.5" r="1.7" fill="#17694b" fill-opacity="0.9"/>
<circle cx="308.1" cy="118.0" r="1.7" fill="#17694b" fill-opacity="0.9"/>
<circle cx="312.0" cy="112.4" r="1.7" fill="#17694b" fill-opacity="0.9"/>
<circle cx="309.2" cy="118.4" r="1.7" fill="#17694b" fill-opacity="0.9"/>
<circle cx="308.1" cy="119.7" r="1.7" fill="#17694b" fill-opacity="0.9"/>
<circle cx="309.3" cy="117.7" r="1.7" fill="#17694b" fill-opacity="0.9"/>
<circle cx="304.2" cy="117.2" r="1.7" fill="#5e8f78" fill-opacity="0.75"/>
<circle cx="308.7" cy="114.4" r="1.7" fill="#5e8f78" fill-opacity="0.75"/>
<circle cx="311.7" cy="106.9" r="1.7" fill="#17694b" fill-opacity="0.9"/>
<circle cx="312.6" cy="106.9" r="1.7" fill="#17694b" fill-opacity="0.9"/>
<circle cx="312.3" cy="109.3" r="1.7" fill="#17694b" fill-opacity="0.9"/>
<circle cx="314.2" cy="107.8" r="1.7" fill="#17694b" fill-opacity="0.9"/>
<circle cx="316.3" cy="104.3" r="1.7" fill="#17694b" fill-opacity="0.9"/>
<circle cx="312.7" cy="107.2" r="1.7" fill="#17694b" fill-opacity="0.9"/>
<circle cx="312.6" cy="107.0" r="1.7" fill="#17694b" fill-opacity="0.9"/>
<circle cx="310.4" cy="106.5" r="1.7" fill="#5e8f78" fill-opacity="0.75"/>
<circle cx="307.8" cy="110.1" r="1.7" fill="#5e8f78" fill-opacity="0.75"/>
<circle cx="274.3" cy="103.7" r="1.7" fill="#17694b" fill-opacity="0.9"/>
<circle cx="317.8" cy="100.3" r="1.7" fill="#17694b" fill-opacity="0.9"/>
<circle cx="273.2" cy="103.2" r="1.7" fill="#17694b" fill-opacity="0.9"/>
<circle cx="318.7" cy="101.1" r="1.7" fill="#17694b" fill-opacity="0.9"/>
<circle cx="272.2" cy="103.4" r="1.7" fill="#17694b" fill-opacity="0.9"/>
<circle cx="318.0" cy="101.6" r="1.7" fill="#17694b" fill-opacity="0.9"/>
<circle cx="275.0" cy="105.5" r="1.7" fill="#17694b" fill-opacity="0.9"/>
<circle cx="316.3" cy="100.8" r="1.7" fill="#17694b" fill-opacity="0.9"/>
<circle cx="277.0" cy="104.2" r="1.7" fill="#17694b" fill-opacity="0.9"/>
<circle cx="317.2" cy="102.4" r="1.7" fill="#17694b" fill-opacity="0.9"/>
<circle cx="276.9" cy="101.8" r="1.7" fill="#17694b" fill-opacity="0.9"/>
<circle cx="320.3" cy="98.8" r="1.7" fill="#17694b" fill-opacity="0.9"/>
<circle cx="277.0" cy="102.4" r="1.7" fill="#17694b" fill-opacity="0.9"/>
<circle cx="316.8" cy="103.0" r="1.7" fill="#17694b" fill-opacity="0.9"/>
<circle cx="275.2" cy="105.6" r="1.7" fill="#17694b" fill-opacity="0.9"/>
<circle cx="320.1" cy="102.8" r="1.7" fill="#17694b" fill-opacity="0.9"/>
<circle cx="274.6" cy="106.0" r="1.7" fill="#17694b" fill-opacity="0.9"/>
<circle cx="315.9" cy="103.2" r="1.7" fill="#17694b" fill-opacity="0.9"/>
<circle cx="275.6" cy="100.8" r="1.7" fill="#17694b" fill-opacity="0.9"/>
<circle cx="319.9" cy="100.7" r="1.7" fill="#17694b" fill-opacity="0.9"/>
<circle cx="274.7" cy="105.1" r="1.7" fill="#17694b" fill-opacity="0.9"/>
<circle cx="316.6" cy="99.7" r="1.7" fill="#17694b" fill-opacity="0.9"/>
<circle cx="275.2" cy="99.5" r="1.7" fill="#17694b" fill-opacity="0.9"/>
<circle cx="318.6" cy="102.7" r="1.7" fill="#17694b" fill-opacity="0.9"/>
<circle cx="274.5" cy="100.7" r="1.7" fill="#17694b" fill-opacity="0.9"/>
<circle cx="319.9" cy="103.1" r="1.7" fill="#17694b" fill-opacity="0.9"/>
<circle cx="275.9" cy="102.8" r="1.7" fill="#17694b" fill-opacity="0.9"/>
<circle cx="320.5" cy="102.8" r="1.7" fill="#17694b" fill-opacity="0.9"/>
<circle cx="279.4" cy="155.2" r="1.6" fill="#17694b" fill-opacity="0.9"/>
<circle cx="276.9" cy="154.6" r="1.6" fill="#17694b" fill-opacity="0.9"/>
<circle cx="288.9" cy="156.2" r="1.6" fill="#17694b" fill-opacity="0.9"/>
<circle cx="312.9" cy="154.7" r="1.6" fill="#17694b" fill-opacity="0.9"/>
<circle cx="280.9" cy="155.3" r="1.6" fill="#17694b" fill-opacity="0.9"/>
<circle cx="313.6" cy="155.7" r="1.6" fill="#17694b" fill-opacity="0.9"/>
<circle cx="316.2" cy="154.6" r="1.6" fill="#17694b" fill-opacity="0.9"/>
<circle cx="320.4" cy="154.9" r="1.6" fill="#17694b" fill-opacity="0.9"/>
<circle cx="302.8" cy="156.3" r="1.6" fill="#17694b" fill-opacity="0.9"/>
<circle cx="307.7" cy="154.9" r="1.6" fill="#17694b" fill-opacity="0.9"/>
<circle cx="304.8" cy="155.4" r="1.6" fill="#17694b" fill-opacity="0.9"/>
<circle cx="272.8" cy="155.2" r="1.6" fill="#17694b" fill-opacity="0.9"/>
<circle cx="287.5" cy="155.8" r="1.6" fill="#17694b" fill-opacity="0.9"/>
<circle cx="285.6" cy="155.7" r="1.6" fill="#17694b" fill-opacity="0.9"/>
<circle cx="306.0" cy="154.9" r="1.6" fill="#17694b" fill-opacity="0.9"/>
<circle cx="278.3" cy="155.9" r="1.6" fill="#17694b" fill-opacity="0.9"/>
<circle cx="294.9" cy="154.8" r="1.6" fill="#17694b" fill-opacity="0.9"/>
<circle cx="277.7" cy="156.4" r="1.6" fill="#17694b" fill-opacity="0.9"/>
<circle cx="301.9" cy="155.2" r="1.6" fill="#17694b" fill-opacity="0.9"/>
<circle cx="281.6" cy="156.5" r="1.6" fill="#17694b" fill-opacity="0.9"/>
<circle cx="305.9" cy="156.0" r="1.6" fill="#17694b" fill-opacity="0.9"/>
<circle cx="289.7" cy="155.1" r="1.6" fill="#17694b" fill-opacity="0.9"/>
<circle cx="292.0" cy="154.8" r="1.6" fill="#17694b" fill-opacity="0.9"/>
<circle cx="302.9" cy="155.3" r="1.6" fill="#17694b" fill-opacity="0.9"/>
<circle cx="312.2" cy="155.3" r="1.6" fill="#17694b" fill-opacity="0.9"/>
<circle cx="294.4" cy="155.5" r="1.6" fill="#17694b" fill-opacity="0.9"/>
<circle cx="318.1" cy="155.2" r="1.6" fill="#17694b" fill-opacity="0.9"/>
<circle cx="306.5" cy="155.0" r="1.6" fill="#17694b" fill-opacity="0.9"/>
<circle cx="300.4" cy="155.1" r="1.6" fill="#17694b" fill-opacity="0.9"/>
<circle cx="314.8" cy="155.1" r="1.6" fill="#17694b" fill-opacity="0.9"/>
<circle cx="272.5" cy="82.0" r="1.7" fill="#17694b" fill-opacity="0.85"/>
<circle cx="273.0" cy="85.5" r="1.7" fill="#17694b" fill-opacity="0.85"/>
<circle cx="272.8" cy="89.0" r="1.7" fill="#17694b" fill-opacity="0.85"/>
<circle cx="273.5" cy="93.0" r="1.7" fill="#17694b" fill-opacity="0.85"/>
<circle cx="272.6" cy="97.0" r="1.7" fill="#17694b" fill-opacity="0.85"/>
<circle cx="274.0" cy="100.0" r="1.7" fill="#17694b" fill-opacity="0.85"/>
<circle cx="305.2" cy="88.8" r="1.8" fill="#5e8f78" fill-opacity="0.8"/>
<circle cx="290.0" cy="100.3" r="1.8" fill="#5e8f78" fill-opacity="0.8"/>
<circle cx="280.3" cy="100.3" r="1.8" fill="#5e8f78" fill-opacity="0.8"/>
<circle cx="275.7" cy="90.0" r="1.8" fill="#5e8f78" fill-opacity="0.8"/>
<circle cx="309.0" cy="104.5" r="1.8" fill="#5e8f78" fill-opacity="0.8"/>
<circle cx="312.5" cy="109.5" r="1.8" fill="#5e8f78" fill-opacity="0.8"/>
<circle cx="311.0" cy="112.0" r="1.8" fill="#5e8f78" fill-opacity="0.8"/>
<circle cx="296.0" cy="143.0" r="1.8" fill="#5e8f78" fill-opacity="0.8"/>
<circle cx="293.0" cy="141.5" r="1.8" fill="#5e8f78" fill-opacity="0.8"/>
<line x1="232" y1="52.3" x2="232" y2="158.9" stroke="#231f20" stroke-width="1.6" />
<line x1="231.2" y1="158.3" x2="358.5" y2="158.3" stroke="#231f20" stroke-width="1.3" />
<line x1="271.9" y1="54.7" x2="271.9" y2="158" stroke="#333" stroke-width="1.5" stroke-dasharray="6.3,2.7"/>
<line x1="320.8" y1="54.7" x2="320.8" y2="158" stroke="#333" stroke-width="1.5" stroke-dasharray="6.3,2.7"/>
<line x1="233.7" y1="149.4" x2="358" y2="149.4" stroke="#2a2a2a" stroke-width="1.3" stroke-dasharray="6,2.6"/>
<text x="226.3" y="102.7" font-size="9.6" text-anchor="middle" fill="#231f20" textLength="68" lengthAdjust="spacingAndGlyphs" transform="rotate(-90 226.3 102.7)" stroke="#231f20" stroke-width="0.3">−Log10 (adj <tspan font-style="italic">P</tspan>-value)</text>
<text x="295" y="170.8" font-size="10.4" text-anchor="middle" fill="#231f20" textLength="80" lengthAdjust="spacingAndGlyphs" stroke="#231f20" stroke-width="0.3">Average log fold change</text>
<line x1="229" y1="181.3" x2="277.8" y2="181.3" stroke="#3d5f99" stroke-width="1.4" />
<path d="M225.5,181.3 L231,178.3 L230,181.3 L231,184.3Z" fill="#3d5f99"/>
<line x1="318" y1="181.3" x2="357.5" y2="181.3" stroke="#c8283a" stroke-width="1.4" />
<path d="M361.5,181.3 L356,178.3 L357,181.3 L356,184.3Z" fill="#c8283a"/>
<text x="255.4" y="192.8" font-size="9.1" text-anchor="middle" fill="#333" textLength="34.8" lengthAdjust="spacingAndGlyphs" >Negative</text>
<text x="338" y="192.8" font-size="9.1" text-anchor="middle" fill="#333" textLength="30" lengthAdjust="spacingAndGlyphs" >Positive</text>
<text x="295.5" y="208" font-size="11.4" text-anchor="middle" fill="#231f20" textLength="119" lengthAdjust="spacingAndGlyphs" >Correlation with outcome</text>
<rect x="343.5" y="82.5" width="11" height="9.5" fill="none" stroke="#231f20" stroke-width="0.9"/>
<circle cx="349.0" cy="87.5" r="1.6" fill="#d3313c" fill-opacity="0.6"/>
<line x1="354.5" y1="82.5" x2="418.7" y2="41.6" stroke="#231f20" stroke-width="1" />
<line x1="354.5" y1="92" x2="418.7" y2="196.6" stroke="#231f20" stroke-width="1" />
<text x="453" y="35" font-size="10.8" text-anchor="middle" fill="#231f20" textLength="59.2" lengthAdjust="spacingAndGlyphs" >Injected Site</text>
<line x1="418.7" y1="41.5" x2="418.7" y2="110.6" stroke="#231f20" stroke-width="1.5" />
<line x1="418" y1="110.2" x2="486.5" y2="110.2" stroke="#231f20" stroke-width="1.4" />
<line x1="425.4" y1="91" x2="481.2" y2="52.7" stroke="#bdbdbd" stroke-width="1" />
<circle cx="455.2" cy="49.2" r="2.5" fill="#000"/>
<circle cx="443.7" cy="62.0" r="2.5" fill="#000"/>
<circle cx="481.2" cy="62.0" r="2.5" fill="#000"/>
<circle cx="445.2" cy="73.3" r="2.5" fill="#000"/>
<circle cx="450.0" cy="73.3" r="2.5" fill="#000"/>
<circle cx="431.2" cy="82.9" r="2.5" fill="#000"/>
<circle cx="436.5" cy="82.0" r="2.5" fill="#000"/>
<circle cx="444.6" cy="89.2" r="2.5" fill="#000"/>
<circle cx="424.8" cy="96.5" r="2.5" fill="#000"/>
<circle cx="433.5" cy="94.6" r="2.5" fill="#000"/>
<circle cx="436.0" cy="97.9" r="2.5" fill="#000"/>
<text x="452.9" y="123.3" font-size="10.9" text-anchor="middle" fill="#231f20" textLength="49.7" lengthAdjust="spacingAndGlyphs" stroke="#231f20" stroke-width="0.3">Uninjected site</text>
<line x1="418.7" y1="128.3" x2="418.7" y2="197" stroke="#231f20" stroke-width="1.5" />
<line x1="418" y1="196.6" x2="486.5" y2="196.6" stroke="#231f20" stroke-width="1.4" />
<line x1="424.4" y1="177.9" x2="478.3" y2="146.2" stroke="#bdbdbd" stroke-width="1" />
<circle cx="444.6" cy="136.0" r="2.5" fill="#000"/>
<circle cx="459.0" cy="149.8" r="2.5" fill="#000"/>
<circle cx="480.8" cy="148.8" r="2.5" fill="#000"/>
<circle cx="453.7" cy="160.4" r="2.5" fill="#000"/>
<circle cx="425.8" cy="169.6" r="2.5" fill="#000"/>
<circle cx="434.0" cy="168.3" r="2.5" fill="#000"/>
<circle cx="442.7" cy="169.0" r="2.5" fill="#000"/>
<circle cx="444.6" cy="176.0" r="2.5" fill="#000"/>
<circle cx="424.0" cy="182.7" r="2.5" fill="#000"/>
<circle cx="429.8" cy="184.4" r="2.5" fill="#000"/>
<circle cx="438.5" cy="181.7" r="2.5" fill="#000"/>
<text x="452.5" y="210.1" font-size="10.8" text-anchor="middle" fill="#231f20" textLength="65" lengthAdjust="spacingAndGlyphs" stroke="#231f20" stroke-width="0.3">Average expression</text>
<text x="493.3" y="118.4" font-size="11" text-anchor="middle" fill="#231f20" textLength="94.4" lengthAdjust="spacingAndGlyphs" transform="rotate(90 493.3 118.4)" stroke="#231f20" stroke-width="0.3">Distant tumor reduction (%)</text>
<line x1="47" y1="264.5" x2="47" y2="370" stroke="#231f20" stroke-width="1.6" />
<line x1="46.2" y1="369.3" x2="153" y2="369.3" stroke="#231f20" stroke-width="1.4" />
<line x1="43.5" y1="269.0" x2="47" y2="269.0" stroke="#231f20" stroke-width="1.25" />
<line x1="43.5" y1="295.6666666666667" x2="47" y2="295.6666666666667" stroke="#231f20" stroke-width="1.25" />
<line x1="43.5" y1="322.3333333333333" x2="47" y2="322.3333333333333" stroke="#231f20" stroke-width="1.25" />
<line x1="43.5" y1="349.0" x2="47" y2="349.0" stroke="#231f20" stroke-width="1.25" />
<line x1="63.8" y1="369.3" x2="63.8" y2="372.5" stroke="#231f20" stroke-width="1.25" />
<text x="63.8" y="383.6" font-size="9.6" text-anchor="middle" fill="#333" >2</text>
<line x1="93.8" y1="369.3" x2="93.8" y2="372.5" stroke="#231f20" stroke-width="1.25" />
<text x="93.8" y="383.6" font-size="9.6" text-anchor="middle" fill="#333" >3</text>
<line x1="124.2" y1="369.3" x2="124.2" y2="372.5" stroke="#231f20" stroke-width="1.25" />
<text x="124.2" y="383.6" font-size="9.6" text-anchor="middle" fill="#333" >4</text>
<line x1="188" y1="264.5" x2="188" y2="370" stroke="#231f20" stroke-width="1.6" />
<line x1="187.2" y1="369.3" x2="294" y2="369.3" stroke="#231f20" stroke-width="1.4" />
<line x1="184.5" y1="269.0" x2="188" y2="269.0" stroke="#231f20" stroke-width="1.25" />
<line x1="184.5" y1="295.6666666666667" x2="188" y2="295.6666666666667" stroke="#231f20" stroke-width="1.25" />
<line x1="184.5" y1="322.3333333333333" x2="188" y2="322.3333333333333" stroke="#231f20" stroke-width="1.25" />
<line x1="184.5" y1="349.0" x2="188" y2="349.0" stroke="#231f20" stroke-width="1.25" />
<line x1="213.1" y1="369.3" x2="213.1" y2="372.5" stroke="#231f20" stroke-width="1.25" />
<text x="213.1" y="383.6" font-size="9.6" text-anchor="middle" fill="#333" >20</text>
<line x1="248.9" y1="369.3" x2="248.9" y2="372.5" stroke="#231f20" stroke-width="1.25" />
<text x="248.9" y="383.6" font-size="9.6" text-anchor="middle" fill="#333" >30</text>
<line x1="285" y1="369.3" x2="285" y2="372.5" stroke="#231f20" stroke-width="1.25" />
<text x="285" y="383.6" font-size="9.6" text-anchor="middle" fill="#333" >40</text>
<text x="39.8" y="272.1" font-size="9.4" text-anchor="end" fill="#333" >100</text>
<text x="180.8" y="272.1" font-size="9.4" text-anchor="end" fill="#333" >100</text>
<text x="39.8" y="298.7666666666667" font-size="9.4" text-anchor="end" fill="#333" >75</text>
<text x="180.8" y="298.7666666666667" font-size="9.4" text-anchor="end" fill="#333" >75</text>
<text x="39.8" y="325.43333333333334" font-size="9.4" text-anchor="end" fill="#333" >50</text>
<text x="180.8" y="325.43333333333334" font-size="9.4" text-anchor="end" fill="#333" >50</text>
<text x="39.8" y="352.1" font-size="9.4" text-anchor="end" fill="#333" >25</text>
<text x="180.8" y="352.1" font-size="9.4" text-anchor="end" fill="#333" >25</text>
<text x="100.5" y="257.8" font-size="11" text-anchor="middle" fill="#231f20" font-style="italic" textLength="29" lengthAdjust="spacingAndGlyphs" >CD47</text>
<text x="240.6" y="257.8" font-size="11" text-anchor="middle" fill="#231f20" font-style="italic" textLength="29" lengthAdjust="spacingAndGlyphs" >CD37</text>
<text x="109" y="275.8" font-size="9" text-anchor="start" fill="#231f20" textLength="38.8" lengthAdjust="spacingAndGlyphs" ><tspan font-style="italic">R</tspan> = −0.71</text>
<text x="119.8" y="286.2" font-size="9" text-anchor="start" fill="#231f20" textLength="28" lengthAdjust="spacingAndGlyphs" ><tspan font-style="italic">P</tspan> = .01</text>
<text x="249.9" y="275.8" font-size="9" text-anchor="start" fill="#231f20" textLength="40" lengthAdjust="spacingAndGlyphs" ><tspan font-style="italic">R</tspan> = −0.72</text>
<text x="250.5" y="286.2" font-size="9" text-anchor="start" fill="#231f20" textLength="39.4" lengthAdjust="spacingAndGlyphs" ><tspan font-style="italic">P</tspan> = .0079</text>
<line x1="55.7" y1="302.7" x2="144.5" y2="354.6" stroke="#888" stroke-width="0.9" />
<line x1="195.7" y1="306.6" x2="285" y2="349.5" stroke="#888" stroke-width="0.9" />
<circle cx="60.8" cy="277.3" r="3.0" fill="#dbe8a8" stroke="#262626" stroke-width="1.0"/>
<circle cx="58.5" cy="296.5" r="3.0" fill="#3a9a47" stroke="#262626" stroke-width="1.0"/>
<circle cx="79.2" cy="296.5" r="3.0" fill="#a87a38" stroke="#262626" stroke-width="1.0"/>
<circle cx="55.5" cy="313.5" r="3.0" fill="#de2f7f" stroke="#262626" stroke-width="1.0"/>
<circle cx="101.8" cy="313.5" r="3.0" fill="#2a78b4" stroke="#262626" stroke-width="1.0"/>
<circle cx="61.5" cy="325.8" r="3.0" fill="#dd1f26" stroke="#262626" stroke-width="1.0"/>
<circle cx="86.2" cy="328.0" r="3.0" fill="#c8def0" stroke="#262626" stroke-width="1.0"/>
<circle cx="107.0" cy="327.4" r="3.0" fill="#f07f1e" stroke="#262626" stroke-width="1.0"/>
<circle cx="94.7" cy="338.0" r="3.0" fill="#6a3f98" stroke="#262626" stroke-width="1.0"/>
<circle cx="117.3" cy="348.4" r="3.0" fill="#d3c8df" stroke="#262626" stroke-width="1.0"/>
<circle cx="95.4" cy="350.7" r="3.0" fill="#f2aaa8" stroke="#262626" stroke-width="1.0"/>
<circle cx="144.5" cy="346.0" r="3.0" fill="#f5d58c" stroke="#262626" stroke-width="1.0"/>
<circle cx="195.7" cy="277.3" r="3.0" fill="#dbe8a8" stroke="#262626" stroke-width="1.0"/>
<circle cx="201.9" cy="296.5" r="3.0" fill="#a87a38" stroke="#262626" stroke-width="1.0"/>
<circle cx="206.0" cy="296.5" r="3.0" fill="#3a9a47" stroke="#262626" stroke-width="1.0"/>
<circle cx="211.2" cy="313.5" r="3.0" fill="#de2f7f" stroke="#262626" stroke-width="1.0"/>
<circle cx="231.5" cy="313.5" r="3.0" fill="#2a78b4" stroke="#262626" stroke-width="1.0"/>
<circle cx="210.7" cy="326.2" r="3.0" fill="#dd1f26" stroke="#262626" stroke-width="1.0"/>
<circle cx="265.8" cy="327.4" r="3.0" fill="#f07f1e" stroke="#262626" stroke-width="1.0"/>
<circle cx="285.0" cy="328.5" r="3.0" fill="#c8def0" stroke="#262626" stroke-width="1.0"/>
<circle cx="222.0" cy="338.0" r="3.0" fill="#6a3f98" stroke="#262626" stroke-width="1.0"/>
<circle cx="228.0" cy="348.4" r="3.0" fill="#d3c8df" stroke="#262626" stroke-width="1.0"/>
<circle cx="236.5" cy="346.0" r="3.0" fill="#f5d58c" stroke="#262626" stroke-width="1.0"/>
<circle cx="240.0" cy="350.7" r="3.0" fill="#f2aaa8" stroke="#262626" stroke-width="1.0"/>
<text x="17.2" y="311.3" font-size="11.2" text-anchor="middle" fill="#231f20" textLength="95" lengthAdjust="spacingAndGlyphs" transform="rotate(-90 17.2 311.3)" stroke="#231f20" stroke-width="0.3">Distant tumor reduction (%)</text>
<text x="169.7" y="400" font-size="10.7" text-anchor="middle" fill="#231f20" textLength="109" lengthAdjust="spacingAndGlyphs" stroke="#231f20" stroke-width="0.3">Average expression, injected site</text>
<text x="451.4" y="270.5" font-size="11.6" text-anchor="middle" fill="#231f20" textLength="124" lengthAdjust="spacingAndGlyphs" >Baseline Pathway Activity,</text>
<text x="449.3" y="284.2" font-size="11.6" text-anchor="middle" fill="#231f20" textLength="59" lengthAdjust="spacingAndGlyphs" >Injected Site</text>
<line x1="392.2" y1="289.8" x2="392.2" y2="369.2" stroke="#231f20" stroke-width="1.6" />
<line x1="391.4" y1="369.2" x2="508.7" y2="369.2" stroke="#231f20" stroke-width="1.4" />
<rect x="419" y="292.5" width="85" height="16.7" fill="#f7c46a"/>
<rect x="417.7" y="311.6" width="86.3" height="16.6" fill="#f7c46a"/>
<rect x="398.3" y="330.4" width="105.7" height="16.6" fill="#d6502b"/>
<rect x="397.5" y="349.6" width="106.5" height="16.7" fill="#d6502b"/>
<line x1="389" y1="300.8" x2="392.2" y2="300.8" stroke="#231f20" stroke-width="1.25" />
<line x1="389" y1="320" x2="392.2" y2="320" stroke="#231f20" stroke-width="1.25" />
<line x1="389" y1="338.7" x2="392.2" y2="338.7" stroke="#231f20" stroke-width="1.25" />
<line x1="389" y1="357.9" x2="392.2" y2="357.9" stroke="#231f20" stroke-width="1.25" />
<line x1="418.5" y1="369.2" x2="418.5" y2="372.4" stroke="#231f20" stroke-width="1.25" />
<text x="418.5" y="384.6" font-size="9.4" text-anchor="middle" fill="#333" >−0.6</text>
<line x1="447.3" y1="369.2" x2="447.3" y2="372.4" stroke="#231f20" stroke-width="1.25" />
<text x="447.3" y="384.6" font-size="9.4" text-anchor="middle" fill="#333" >−0.4</text>
<line x1="475.6" y1="369.2" x2="475.6" y2="372.4" stroke="#231f20" stroke-width="1.25" />
<text x="475.6" y="384.6" font-size="9.4" text-anchor="middle" fill="#333" >−0.2</text>
<line x1="503.9" y1="369.2" x2="503.9" y2="372.4" stroke="#231f20" stroke-width="1.25" />
<text x="503.9" y="384.6" font-size="9.4" text-anchor="middle" fill="#333" >0.0</text>
<text x="450.8" y="399.7" font-size="11" text-anchor="middle" fill="#231f20" textLength="74.3" lengthAdjust="spacingAndGlyphs" stroke="#231f20" stroke-width="0.3">Correlation coefficient</text>
<text x="384.7" y="299.2" font-size="9.4" text-anchor="end" fill="#2e2e2e" textLength="49" lengthAdjust="spacingAndGlyphs" >Inflammatory</text>
<text x="384.7" y="309.8" font-size="9.4" text-anchor="end" fill="#2e2e2e" textLength="39" lengthAdjust="spacingAndGlyphs" >Response</text>
<text x="384.7" y="323.3" font-size="9.4" text-anchor="end" fill="#2e2e2e" textLength="58.7" lengthAdjust="spacingAndGlyphs" >BCR Signaling</text>
<text x="384.7" y="342" font-size="9.4" text-anchor="end" fill="#2e2e2e" textLength="51.4" lengthAdjust="spacingAndGlyphs" >IL6 Signaling</text>
<text x="384.7" y="361.2" font-size="9.4" text-anchor="end" fill="#2e2e2e" textLength="51.4" lengthAdjust="spacingAndGlyphs" >IL4 Signaling</text>
<text x="312" y="388" font-size="9.1" text-anchor="start" fill="#333" textLength="44" lengthAdjust="spacingAndGlyphs" >Neg Log10</text>
<text x="312" y="398.8" font-size="9.1" text-anchor="start" fill="#333" textLength="27.7" lengthAdjust="spacingAndGlyphs" ><tspan font-style="italic">P</tspan>-value</text>
<defs><linearGradient id="gD" x1="0" x2="1" y1="0" y2="0"><stop offset="0" stop-color="#fff7d6"/><stop offset="0.35" stop-color="#fbd476"/><stop offset="0.7" stop-color="#ee8a3c"/><stop offset="1" stop-color="#c8241f"/></linearGradient></defs>
<rect x="360.5" y="385" width="31.4" height="6.5" fill="url(#gD)"/>
<text x="362.5" y="403" font-size="9.4" text-anchor="middle" fill="#333" >0</text>
<text x="372" y="403" font-size="9.4" text-anchor="middle" fill="#333" >1</text>
<text x="383.5" y="403" font-size="9.4" text-anchor="middle" fill="#333" >2</text>
<text x="173.5" y="429.2" font-size="10.2" text-anchor="middle" fill="#231f20" textLength="140" lengthAdjust="spacingAndGlyphs" >Pathway Activity, Injected Site</text>
<text x="102.7" y="443.4" font-size="8.9" text-anchor="middle" fill="#231f20" textLength="62.6" lengthAdjust="spacingAndGlyphs" >IFNA Response</text>
<line x1="49.1" y1="450.5" x2="49.1" y2="540.2" stroke="#231f20" stroke-width="1.6" />
<line x1="48.300000000000004" y1="540.2" x2="151.5" y2="540.2" stroke="#231f20" stroke-width="1.4" />
<line x1="45.6" y1="467" x2="49.1" y2="467" stroke="#231f20" stroke-width="1.25" />
<text x="42.300000000000004" y="469.9" font-size="9.2" text-anchor="end" fill="#333" >0.3</text>
<line x1="45.6" y1="493.9" x2="49.1" y2="493.9" stroke="#231f20" stroke-width="1.25" />
<text x="42.300000000000004" y="496.79999999999995" font-size="9.2" text-anchor="end" fill="#333" >0.2</text>
<line x1="45.6" y1="520.8" x2="49.1" y2="520.8" stroke="#231f20" stroke-width="1.25" />
<text x="42.300000000000004" y="523.6999999999999" font-size="9.2" text-anchor="end" fill="#333" >0.1</text>
<line x1="79.2" y1="540.2" x2="79.2" y2="543.5" stroke="#231f20" stroke-width="1.25" />
<text x="79.2" y="554.7" font-size="9.4" text-anchor="middle" fill="#2e2e2e" textLength="23.3" lengthAdjust="spacingAndGlyphs" >Pre Tx</text>
<line x1="129" y1="540.2" x2="129" y2="543.5" stroke="#231f20" stroke-width="1.25" />
<text x="129" y="554.7" font-size="9.4" text-anchor="middle" fill="#2e2e2e" textLength="22.4" lengthAdjust="spacingAndGlyphs" >Day 8</text>
<line x1="79.2" y1="495.4" x2="129" y2="474.2" stroke="#c2c2c2" stroke-width="0.9" />
<line x1="79.2" y1="505.4" x2="129" y2="465.6" stroke="#c2c2c2" stroke-width="0.9" />
<line x1="79.2" y1="508.8" x2="129" y2="485.4" stroke="#c2c2c2" stroke-width="0.9" />
<line x1="79.2" y1="511.2" x2="129" y2="475.8" stroke="#c2c2c2" stroke-width="0.9" />
<line x1="79.2" y1="516.2" x2="129" y2="490.6" stroke="#c2c2c2" stroke-width="0.9" />
<line x1="79.2" y1="522.3" x2="129" y2="502.7" stroke="#c2c2c2" stroke-width="0.9" />
<line x1="79.2" y1="523.8" x2="129" y2="512.3" stroke="#c2c2c2" stroke-width="0.9" />
<line x1="79.2" y1="525.2" x2="129" y2="510.8" stroke="#c2c2c2" stroke-width="0.9" />
<line x1="79.2" y1="532.9" x2="129" y2="505.4" stroke="#c2c2c2" stroke-width="0.9" />
<line x1="79.2" y1="511.5" x2="129" y2="518.1" stroke="#c2c2c2" stroke-width="0.9" />
<line x1="79.2" y1="495.4" x2="79.2" y2="532.9" stroke="#262626" stroke-width="1.3" />
<line x1="129" y1="465.6" x2="129" y2="518.1" stroke="#262626" stroke-width="1.3" />
<circle cx="79.2" cy="495.4" r="1.6" fill="#333" fill-opacity="0.9"/>
<circle cx="129.0" cy="474.2" r="1.6" fill="#333" fill-opacity="0.9"/>
<circle cx="79.2" cy="505.4" r="1.6" fill="#333" fill-opacity="0.9"/>
<circle cx="129.0" cy="465.6" r="1.6" fill="#333" fill-opacity="0.9"/>
<circle cx="79.2" cy="508.8" r="1.6" fill="#333" fill-opacity="0.9"/>
<circle cx="129.0" cy="485.4" r="1.6" fill="#333" fill-opacity="0.9"/>
<circle cx="79.2" cy="511.2" r="1.6" fill="#333" fill-opacity="0.9"/>
<circle cx="129.0" cy="475.8" r="1.6" fill="#333" fill-opacity="0.9"/>
<circle cx="79.2" cy="516.2" r="1.6" fill="#333" fill-opacity="0.9"/>
<circle cx="129.0" cy="490.6" r="1.6" fill="#333" fill-opacity="0.9"/>
<circle cx="79.2" cy="522.3" r="1.6" fill="#333" fill-opacity="0.9"/>
<circle cx="129.0" cy="502.7" r="1.6" fill="#333" fill-opacity="0.9"/>
<circle cx="79.2" cy="523.8" r="1.6" fill="#333" fill-opacity="0.9"/>
<circle cx="129.0" cy="512.3" r="1.6" fill="#333" fill-opacity="0.9"/>
<circle cx="79.2" cy="525.2" r="1.6" fill="#333" fill-opacity="0.9"/>
<circle cx="129.0" cy="510.8" r="1.6" fill="#333" fill-opacity="0.9"/>
<circle cx="79.2" cy="532.9" r="1.6" fill="#333" fill-opacity="0.9"/>
<circle cx="129.0" cy="505.4" r="1.6" fill="#333" fill-opacity="0.9"/>
<circle cx="79.2" cy="511.5" r="1.6" fill="#333" fill-opacity="0.9"/>
<circle cx="129.0" cy="518.1" r="1.6" fill="#333" fill-opacity="0.9"/>
<rect x="62.4" y="510.4" width="34.00000000000001" height="10.399999999999977" fill="#bac487" fill-opacity="0.75"/>
<line x1="62.4" y1="513" x2="96.4" y2="513" stroke="#36421f" stroke-width="1.5" />
<rect x="112.3" y="482.9" width="34.000000000000014" height="24.400000000000034" fill="#5eace6" fill-opacity="0.75"/>
<line x1="112.3" y1="496.3" x2="146.3" y2="496.3" stroke="#1e4f7a" stroke-width="1.5" />
<path d="M79.2,465.7 L79.2,463.7 L129,463.7 L129,465.7" fill="none" stroke="#1a1a1a" stroke-width="1.2"/>
<text x="104.1" y="464.09999999999997" font-size="8.8" text-anchor="middle" fill="#231f20" >***</text>
<text x="23.2" y="494.4" font-size="11" text-anchor="middle" fill="#231f20" textLength="46.8" lengthAdjust="spacingAndGlyphs" transform="rotate(-90 23.2 494.4)" stroke="#231f20" stroke-width="0.3">Geneset score</text>
<text x="261.2" y="444" font-size="8.9" text-anchor="middle" fill="#231f20" textLength="36.4" lengthAdjust="spacingAndGlyphs" >Apoptosis</text>
<line x1="208.1" y1="450.2" x2="208.1" y2="539.9" stroke="#231f20" stroke-width="1.6" />
<line x1="207.29999999999998" y1="539.9" x2="305" y2="539.9" stroke="#231f20" stroke-width="1.4" />
<line x1="204.6" y1="476.3" x2="208.1" y2="476.3" stroke="#231f20" stroke-width="1.25" />
<text x="201.29999999999998" y="479.2" font-size="9.2" text-anchor="end" fill="#333" >0.05</text>
<line x1="204.6" y1="510" x2="208.1" y2="510" stroke="#231f20" stroke-width="1.25" />
<text x="201.29999999999998" y="512.9" font-size="9.2" text-anchor="end" fill="#333" >0.00</text>
<line x1="236.4" y1="539.9" x2="236.4" y2="543.1999999999999" stroke="#231f20" stroke-width="1.25" />
<text x="236.4" y="554.4" font-size="9.4" text-anchor="middle" fill="#2e2e2e" textLength="23.3" lengthAdjust="spacingAndGlyphs" >Pre Tx</text>
<line x1="284.3" y1="539.9" x2="284.3" y2="543.1999999999999" stroke="#231f20" stroke-width="1.25" />
<text x="284.3" y="554.4" font-size="9.4" text-anchor="middle" fill="#2e2e2e" textLength="22.4" lengthAdjust="spacingAndGlyphs" >Day 8</text>
<line x1="236.4" y1="497.3" x2="284.3" y2="465.8" stroke="#c2c2c2" stroke-width="0.9" />
<line x1="236.4" y1="505" x2="284.3" y2="490" stroke="#c2c2c2" stroke-width="0.9" />
<line x1="236.4" y1="507" x2="284.3" y2="499" stroke="#c2c2c2" stroke-width="0.9" />
<line x1="236.4" y1="510" x2="284.3" y2="494" stroke="#c2c2c2" stroke-width="0.9" />
<line x1="236.4" y1="514" x2="284.3" y2="505" stroke="#c2c2c2" stroke-width="0.9" />
<line x1="236.4" y1="518" x2="284.3" y2="508" stroke="#c2c2c2" stroke-width="0.9" />
<line x1="236.4" y1="522" x2="284.3" y2="510.8" stroke="#c2c2c2" stroke-width="0.9" />
<line x1="236.4" y1="526" x2="284.3" y2="512" stroke="#c2c2c2" stroke-width="0.9" />
<line x1="236.4" y1="530" x2="284.3" y2="515" stroke="#c2c2c2" stroke-width="0.9" />
<line x1="236.4" y1="532.9" x2="284.3" y2="525" stroke="#c2c2c2" stroke-width="0.9" />
<line x1="236.4" y1="497.3" x2="236.4" y2="532.9" stroke="#262626" stroke-width="1.3" />
<line x1="284.3" y1="465.8" x2="284.3" y2="525" stroke="#262626" stroke-width="1.3" />
<circle cx="236.4" cy="497.3" r="1.6" fill="#333" fill-opacity="0.9"/>
<circle cx="284.3" cy="465.8" r="1.6" fill="#333" fill-opacity="0.9"/>
<circle cx="236.4" cy="505.0" r="1.6" fill="#333" fill-opacity="0.9"/>
<circle cx="284.3" cy="490.0" r="1.6" fill="#333" fill-opacity="0.9"/>
<circle cx="236.4" cy="507.0" r="1.6" fill="#333" fill-opacity="0.9"/>
<circle cx="284.3" cy="499.0" r="1.6" fill="#333" fill-opacity="0.9"/>
<circle cx="236.4" cy="510.0" r="1.6" fill="#333" fill-opacity="0.9"/>
<circle cx="284.3" cy="494.0" r="1.6" fill="#333" fill-opacity="0.9"/>
<circle cx="236.4" cy="514.0" r="1.6" fill="#333" fill-opacity="0.9"/>
<circle cx="284.3" cy="505.0" r="1.6" fill="#333" fill-opacity="0.9"/>
<circle cx="236.4" cy="518.0" r="1.6" fill="#333" fill-opacity="0.9"/>
<circle cx="284.3" cy="508.0" r="1.6" fill="#333" fill-opacity="0.9"/>
<circle cx="236.4" cy="522.0" r="1.6" fill="#333" fill-opacity="0.9"/>
<circle cx="284.3" cy="510.8" r="1.6" fill="#333" fill-opacity="0.9"/>
<circle cx="236.4" cy="526.0" r="1.6" fill="#333" fill-opacity="0.9"/>
<circle cx="284.3" cy="512.0" r="1.6" fill="#333" fill-opacity="0.9"/>
<circle cx="236.4" cy="530.0" r="1.6" fill="#333" fill-opacity="0.9"/>
<circle cx="284.3" cy="515.0" r="1.6" fill="#333" fill-opacity="0.9"/>
<circle cx="236.4" cy="532.9" r="1.6" fill="#333" fill-opacity="0.9"/>
<circle cx="284.3" cy="525.0" r="1.6" fill="#333" fill-opacity="0.9"/>
<rect x="219.7" y="510.8" width="33.60000000000002" height="18.30000000000001" fill="#bac487" fill-opacity="0.75"/>
<line x1="219.7" y1="518.9" x2="253.3" y2="518.9" stroke="#36421f" stroke-width="1.5" />
<rect x="268.7" y="493.8" width="32.30000000000001" height="17.0" fill="#5eace6" fill-opacity="0.75"/>
<line x1="268.7" y1="504.6" x2="301" y2="504.6" stroke="#1e4f7a" stroke-width="1.5" />
<path d="M236.4,465.7 L236.4,463.7 L284.3,463.7 L284.3,465.7" fill="none" stroke="#1a1a1a" stroke-width="1.2"/>
<text x="260.35" y="464.09999999999997" font-size="8.8" text-anchor="middle" fill="#231f20" >**</text>
<text x="176.2" y="494.6" font-size="11" text-anchor="middle" fill="#231f20" textLength="46.8" lengthAdjust="spacingAndGlyphs" transform="rotate(-90 176.2 494.6)" stroke="#231f20" stroke-width="0.3">Geneset score</text>
<text x="102.8" y="575.6" font-size="8.9" text-anchor="middle" fill="#231f20" textLength="25.6" lengthAdjust="spacingAndGlyphs" >MHC I</text>
<line x1="48.3" y1="582.9" x2="48.3" y2="671.7" stroke="#231f20" stroke-width="1.6" />
<line x1="47.5" y1="671.7" x2="154.6" y2="671.7" stroke="#231f20" stroke-width="1.4" />
<line x1="44.8" y1="586.1" x2="48.3" y2="586.1" stroke="#231f20" stroke-width="1.25" />
<text x="41.5" y="589.0" font-size="9.2" text-anchor="end" fill="#333" >0.35</text>
<line x1="44.8" y1="602.5" x2="48.3" y2="602.5" stroke="#231f20" stroke-width="1.25" />
<text x="41.5" y="605.4" font-size="9.2" text-anchor="end" fill="#333" >0.30</text>
<line x1="44.8" y1="619.2" x2="48.3" y2="619.2" stroke="#231f20" stroke-width="1.25" />
<text x="41.5" y="622.1" font-size="9.2" text-anchor="end" fill="#333" >0.25</text>
<line x1="44.8" y1="636.2" x2="48.3" y2="636.2" stroke="#231f20" stroke-width="1.25" />
<text x="41.5" y="639.1" font-size="9.2" text-anchor="end" fill="#333" >0.20</text>
<line x1="44.8" y1="652.9" x2="48.3" y2="652.9" stroke="#231f20" stroke-width="1.25" />
<text x="41.5" y="655.8" font-size="9.2" text-anchor="end" fill="#333" >0.15</text>
<line x1="44.8" y1="669.6" x2="48.3" y2="669.6" stroke="#231f20" stroke-width="1.25" />
<text x="41.5" y="672.5" font-size="9.2" text-anchor="end" fill="#333" >0.10</text>
<line x1="77.9" y1="671.7" x2="77.9" y2="675.0" stroke="#231f20" stroke-width="1.25" />
<text x="77.9" y="686.2" font-size="9.4" text-anchor="middle" fill="#2e2e2e" textLength="23.3" lengthAdjust="spacingAndGlyphs" >Pre Tx</text>
<line x1="126.4" y1="671.7" x2="126.4" y2="675.0" stroke="#231f20" stroke-width="1.25" />
<text x="126.4" y="686.2" font-size="9.4" text-anchor="middle" fill="#2e2e2e" textLength="22.4" lengthAdjust="spacingAndGlyphs" >Day 8</text>
<line x1="77.9" y1="620.6" x2="126.4" y2="601" stroke="#c2c2c2" stroke-width="0.9" />
<line x1="77.9" y1="622.5" x2="126.4" y2="597.7" stroke="#c2c2c2" stroke-width="0.9" />
<line x1="77.9" y1="624.6" x2="126.4" y2="611.2" stroke="#c2c2c2" stroke-width="0.9" />
<line x1="77.9" y1="630.5" x2="126.4" y2="646.7" stroke="#c2c2c2" stroke-width="0.9" />
<line x1="77.9" y1="633" x2="126.4" y2="617.9" stroke="#c2c2c2" stroke-width="0.9" />
<line x1="77.9" y1="636.2" x2="126.4" y2="620.6" stroke="#c2c2c2" stroke-width="0.9" />
<line x1="77.9" y1="640.8" x2="126.4" y2="612.8" stroke="#c2c2c2" stroke-width="0.9" />
<line x1="77.9" y1="644.3" x2="126.4" y2="624.6" stroke="#c2c2c2" stroke-width="0.9" />
<line x1="77.9" y1="651" x2="126.4" y2="627.9" stroke="#c2c2c2" stroke-width="0.9" />
<line x1="77.9" y1="659.6" x2="126.4" y2="630.5" stroke="#c2c2c2" stroke-width="0.9" />
<line x1="77.9" y1="664.5" x2="126.4" y2="634" stroke="#c2c2c2" stroke-width="0.9" />
<line x1="77.9" y1="620.6" x2="77.9" y2="665" stroke="#262626" stroke-width="1.3" />
<line x1="126.4" y1="597.7" x2="126.4" y2="646.7" stroke="#262626" stroke-width="1.3" />
<circle cx="77.9" cy="620.6" r="1.6" fill="#333" fill-opacity="0.9"/>
<circle cx="126.4" cy="601.0" r="1.6" fill="#333" fill-opacity="0.9"/>
<circle cx="77.9" cy="622.5" r="1.6" fill="#333" fill-opacity="0.9"/>
<circle cx="126.4" cy="597.7" r="1.6" fill="#333" fill-opacity="0.9"/>
<circle cx="77.9" cy="624.6" r="1.6" fill="#333" fill-opacity="0.9"/>
<circle cx="126.4" cy="611.2" r="1.6" fill="#333" fill-opacity="0.9"/>
<circle cx="77.9" cy="630.5" r="1.6" fill="#333" fill-opacity="0.9"/>
<circle cx="126.4" cy="646.7" r="1.6" fill="#333" fill-opacity="0.9"/>
<circle cx="77.9" cy="633.0" r="1.6" fill="#333" fill-opacity="0.9"/>
<circle cx="126.4" cy="617.9" r="1.6" fill="#333" fill-opacity="0.9"/>
<circle cx="77.9" cy="636.2" r="1.6" fill="#333" fill-opacity="0.9"/>
<circle cx="126.4" cy="620.6" r="1.6" fill="#333" fill-opacity="0.9"/>
<circle cx="77.9" cy="640.8" r="1.6" fill="#333" fill-opacity="0.9"/>
<circle cx="126.4" cy="612.8" r="1.6" fill="#333" fill-opacity="0.9"/>
<circle cx="77.9" cy="644.3" r="1.6" fill="#333" fill-opacity="0.9"/>
<circle cx="126.4" cy="624.6" r="1.6" fill="#333" fill-opacity="0.9"/>
<circle cx="77.9" cy="651.0" r="1.6" fill="#333" fill-opacity="0.9"/>
<circle cx="126.4" cy="627.9" r="1.6" fill="#333" fill-opacity="0.9"/>
<circle cx="77.9" cy="659.6" r="1.6" fill="#333" fill-opacity="0.9"/>
<circle cx="126.4" cy="630.5" r="1.6" fill="#333" fill-opacity="0.9"/>
<circle cx="77.9" cy="664.5" r="1.6" fill="#333" fill-opacity="0.9"/>
<circle cx="126.4" cy="634.0" r="1.6" fill="#333" fill-opacity="0.9"/>
<rect x="61" y="625.2" width="33.900000000000006" height="21.799999999999955" fill="#bac487" fill-opacity="0.75"/>
<line x1="61" y1="636.2" x2="94.9" y2="636.2" stroke="#36421f" stroke-width="1.5" />
<rect x="109.7" y="612.5" width="33.60000000000001" height="15.399999999999977" fill="#5eace6" fill-opacity="0.75"/>
<line x1="109.7" y1="623.8" x2="143.3" y2="623.8" stroke="#1e4f7a" stroke-width="1.5" />
<path d="M77.9,597 L77.9,595 L126.4,595 L126.4,597" fill="none" stroke="#1a1a1a" stroke-width="1.2"/>
<text x="102.15" y="595.4" font-size="8.8" text-anchor="middle" fill="#231f20" >**</text>
<text x="18.2" y="626.7" font-size="11" text-anchor="middle" fill="#231f20" textLength="46.8" lengthAdjust="spacingAndGlyphs" transform="rotate(-90 18.2 626.7)" stroke="#231f20" stroke-width="0.3">Geneset score</text>
<text x="261.2" y="575.6" font-size="8.9" text-anchor="middle" fill="#231f20" textLength="28.4" lengthAdjust="spacingAndGlyphs" >MHC II</text>
<line x1="207.3" y1="582.9" x2="207.3" y2="671.7" stroke="#231f20" stroke-width="1.6" />
<line x1="206.5" y1="671.7" x2="305" y2="671.7" stroke="#231f20" stroke-width="1.4" />
<line x1="203.8" y1="584.2" x2="207.3" y2="584.2" stroke="#231f20" stroke-width="1.25" />
<text x="200.5" y="587.1" font-size="9.2" text-anchor="end" fill="#333" >0.1</text>
<line x1="203.8" y1="607.1" x2="207.3" y2="607.1" stroke="#231f20" stroke-width="1.25" />
<text x="200.5" y="610.0" font-size="9.2" text-anchor="end" fill="#333" >0.0</text>
<line x1="203.8" y1="630.5" x2="207.3" y2="630.5" stroke="#231f20" stroke-width="1.25" />
<text x="200.5" y="633.4" font-size="9.2" text-anchor="end" fill="#333" >−0.1</text>
<line x1="203.8" y1="653.4" x2="207.3" y2="653.4" stroke="#231f20" stroke-width="1.25" />
<text x="200.5" y="656.3" font-size="9.2" text-anchor="end" fill="#333" >−0.2</text>
<line x1="236.4" y1="671.7" x2="236.4" y2="675.0" stroke="#231f20" stroke-width="1.25" />
<text x="236.4" y="686.2" font-size="9.4" text-anchor="middle" fill="#2e2e2e" textLength="23.3" lengthAdjust="spacingAndGlyphs" >Pre Tx</text>
<line x1="284.3" y1="671.7" x2="284.3" y2="675.0" stroke="#231f20" stroke-width="1.25" />
<text x="284.3" y="686.2" font-size="9.4" text-anchor="middle" fill="#2e2e2e" textLength="22.4" lengthAdjust="spacingAndGlyphs" >Day 8</text>
<line x1="236.4" y1="597.8" x2="284.3" y2="600.4" stroke="#c2c2c2" stroke-width="0.9" />
<line x1="236.4" y1="616" x2="284.3" y2="614.2" stroke="#c2c2c2" stroke-width="0.9" />
<line x1="236.4" y1="631.9" x2="284.3" y2="628.9" stroke="#c2c2c2" stroke-width="0.9" />
<line x1="236.4" y1="641.9" x2="284.3" y2="602.1" stroke="#c2c2c2" stroke-width="0.9" />
<line x1="236.4" y1="646.2" x2="284.3" y2="641" stroke="#c2c2c2" stroke-width="0.9" />
<line x1="236.4" y1="652.3" x2="284.3" y2="630" stroke="#c2c2c2" stroke-width="0.9" />
<line x1="236.4" y1="653.2" x2="284.3" y2="649.7" stroke="#c2c2c2" stroke-width="0.9" />
<line x1="236.4" y1="660.1" x2="284.3" y2="650.6" stroke="#c2c2c2" stroke-width="0.9" />
<line x1="236.4" y1="664.8" x2="284.3" y2="654.9" stroke="#c2c2c2" stroke-width="0.9" />
<line x1="236.4" y1="631.9" x2="236.4" y2="664.8" stroke="#262626" stroke-width="1.3" />
<line x1="284.3" y1="600.4" x2="284.3" y2="654.9" stroke="#262626" stroke-width="1.3" />
<circle cx="236.4" cy="597.8" r="1.6" fill="#333" fill-opacity="0.9"/>
<circle cx="284.3" cy="600.4" r="1.6" fill="#333" fill-opacity="0.9"/>
<circle cx="236.4" cy="616.0" r="1.6" fill="#333" fill-opacity="0.9"/>
<circle cx="284.3" cy="614.2" r="1.6" fill="#333" fill-opacity="0.9"/>
<circle cx="236.4" cy="631.9" r="1.6" fill="#333" fill-opacity="0.9"/>
<circle cx="284.3" cy="628.9" r="1.6" fill="#333" fill-opacity="0.9"/>
<circle cx="236.4" cy="641.9" r="1.6" fill="#333" fill-opacity="0.9"/>
<circle cx="284.3" cy="602.1" r="1.6" fill="#333" fill-opacity="0.9"/>
<circle cx="236.4" cy="646.2" r="1.6" fill="#333" fill-opacity="0.9"/>
<circle cx="284.3" cy="641.0" r="1.6" fill="#333" fill-opacity="0.9"/>
<circle cx="236.4" cy="652.3" r="1.6" fill="#333" fill-opacity="0.9"/>
<circle cx="284.3" cy="630.0" r="1.6" fill="#333" fill-opacity="0.9"/>
<circle cx="236.4" cy="653.2" r="1.6" fill="#333" fill-opacity="0.9"/>
<circle cx="284.3" cy="649.7" r="1.6" fill="#333" fill-opacity="0.9"/>
<circle cx="236.4" cy="660.1" r="1.6" fill="#333" fill-opacity="0.9"/>
<circle cx="284.3" cy="650.6" r="1.6" fill="#333" fill-opacity="0.9"/>
<circle cx="236.4" cy="664.8" r="1.6" fill="#333" fill-opacity="0.9"/>
<circle cx="284.3" cy="654.9" r="1.6" fill="#333" fill-opacity="0.9"/>
<rect x="219.8" y="639.3" width="33.29999999999998" height="12.100000000000023" fill="#bac487" fill-opacity="0.75"/>
<line x1="219.8" y1="646.2" x2="253.1" y2="646.2" stroke="#36421f" stroke-width="1.5" />
<rect x="267.8" y="625.1" width="33.19999999999999" height="23.399999999999977" fill="#5eace6" fill-opacity="0.75"/>
<line x1="267.8" y1="630.2" x2="301" y2="630.2" stroke="#1e4f7a" stroke-width="1.5" />
<path d="M236.4,597 L236.4,595 L284.3,595 L284.3,597" fill="none" stroke="#1a1a1a" stroke-width="1.2"/>
<text x="260.35" y="595.4" font-size="8.8" text-anchor="middle" fill="#231f20" >*</text>
<text x="176.1" y="626.8" font-size="11" text-anchor="middle" fill="#231f20" textLength="46.8" lengthAdjust="spacingAndGlyphs" transform="rotate(-90 176.1 626.8)" stroke="#231f20" stroke-width="0.3">Geneset score</text>
<text x="432.9" y="429.6" font-size="10.9" text-anchor="middle" fill="#231f20" textLength="129.5" lengthAdjust="spacingAndGlyphs" >Tumor cell MHC II Pathway</text>
<text x="433" y="442.8" font-size="10.9" text-anchor="middle" fill="#231f20" textLength="103" lengthAdjust="spacingAndGlyphs" >Injected Site at Day 8</text>
<line x1="365.6" y1="449.7" x2="365.6" y2="582.4" stroke="#231f20" stroke-width="1.6" />
<line x1="364.8" y1="582.4" x2="499" y2="582.4" stroke="#231f20" stroke-width="1.4" />
<line x1="362" y1="479.4" x2="365.6" y2="479.4" stroke="#231f20" stroke-width="1.25" />
<text x="359" y="482.79999999999995" font-size="10" text-anchor="end" fill="#333" >80</text>
<line x1="362" y1="511.7" x2="365.6" y2="511.7" stroke="#231f20" stroke-width="1.25" />
<text x="359" y="515.1" font-size="10" text-anchor="end" fill="#333" >60</text>
<line x1="362" y1="544.0" x2="365.6" y2="544.0" stroke="#231f20" stroke-width="1.25" />
<text x="359" y="547.4" font-size="10" text-anchor="end" fill="#333" >40</text>
<line x1="362" y1="576.3" x2="365.6" y2="576.3" stroke="#231f20" stroke-width="1.25" />
<text x="359" y="579.6999999999999" font-size="10" text-anchor="end" fill="#333" >20</text>
<line x1="379.9" y1="582.4" x2="379.9" y2="585.6" stroke="#231f20" stroke-width="1.25" />
<text x="385.9" y="595.5" font-size="9.6" text-anchor="end" fill="#333" transform="rotate(-45 385.9 595.5)" >−0.20</text>
<line x1="403.21999999999997" y1="582.4" x2="403.21999999999997" y2="585.6" stroke="#231f20" stroke-width="1.25" />
<text x="409.21999999999997" y="595.5" font-size="9.6" text-anchor="end" fill="#333" transform="rotate(-45 409.21999999999997 595.5)" >−0.15</text>
<line x1="426.53999999999996" y1="582.4" x2="426.53999999999996" y2="585.6" stroke="#231f20" stroke-width="1.25" />
<text x="432.53999999999996" y="595.5" font-size="9.6" text-anchor="end" fill="#333" transform="rotate(-45 432.53999999999996 595.5)" >−0.10</text>
<line x1="449.86" y1="582.4" x2="449.86" y2="585.6" stroke="#231f20" stroke-width="1.25" />
<text x="455.86" y="595.5" font-size="9.6" text-anchor="end" fill="#333" transform="rotate(-45 455.86 595.5)" >−0.05</text>
<line x1="473.18" y1="582.4" x2="473.18" y2="585.6" stroke="#231f20" stroke-width="1.25" />
<text x="479.18" y="595.5" font-size="9.6" text-anchor="end" fill="#333" transform="rotate(-45 479.18 595.5)" >0.00</text>
<line x1="496.5" y1="582.4" x2="496.5" y2="585.6" stroke="#231f20" stroke-width="1.25" />
<text x="502.5" y="595.5" font-size="9.6" text-anchor="end" fill="#333" transform="rotate(-45 502.5 595.5)" >0.05</text>
<text x="372.7" y="462.3" font-size="9" text-anchor="start" fill="#231f20" textLength="35.1" lengthAdjust="spacingAndGlyphs" ><tspan font-style="italic">R</tspan> = 0.80</text>
<text x="372.7" y="473.3" font-size="9" text-anchor="start" fill="#231f20" textLength="35.1" lengthAdjust="spacingAndGlyphs" ><tspan font-style="italic">P</tspan> = .002</text>
<line x1="376.9" y1="561.5" x2="487.1" y2="483.1" stroke="#888" stroke-width="0.9" />
<circle cx="459.1" cy="460.3" r="3.7" fill="#dbe8a8" stroke="#262626" stroke-width="1.05"/>
<circle cx="430.2" cy="489.2" r="3.7" fill="#3a9a47" stroke="#262626" stroke-width="1.05"/>
<circle cx="483.1" cy="489.2" r="3.7" fill="#a87a38" stroke="#262626" stroke-width="1.05"/>
<circle cx="429.2" cy="515.1" r="3.7" fill="#2a78b4" stroke="#262626" stroke-width="1.05"/>
<circle cx="487.1" cy="515.1" r="3.7" fill="#de2f7f" stroke="#262626" stroke-width="1.05"/>
<circle cx="389.2" cy="536.2" r="3.7" fill="#f07f1e" stroke="#262626" stroke-width="1.05"/>
<circle cx="403.6" cy="537.8" r="3.7" fill="#c8def0" stroke="#262626" stroke-width="1.05"/>
<circle cx="424.9" cy="534.4" r="3.7" fill="#dd1f26" stroke="#262626" stroke-width="1.05"/>
<circle cx="431.0" cy="552.3" r="3.7" fill="#6a3f98" stroke="#262626" stroke-width="1.05"/>
<circle cx="384.5" cy="564.7" r="3.7" fill="#f5d58c" stroke="#262626" stroke-width="1.05"/>
<circle cx="385.9" cy="568.5" r="3.7" fill="#d3c8df" stroke="#262626" stroke-width="1.05"/>
<circle cx="376.5" cy="571.5" r="3.7" fill="#f2aaa8" stroke="#262626" stroke-width="1.05"/>
<text x="432.5" y="627" font-size="10.9" text-anchor="middle" fill="#231f20" textLength="46.9" lengthAdjust="spacingAndGlyphs" stroke="#231f20" stroke-width="0.3">Geneset score</text>
<text x="341.4" y="517.3" font-size="11.2" text-anchor="middle" fill="#231f20" textLength="95" lengthAdjust="spacingAndGlyphs" transform="rotate(-90 341.4 517.3)" stroke="#231f20" stroke-width="0.3">Distant tumor reduction (%)</text>
<rect x="0.5" y="0.5" width="519" height="696" fill="none" stroke="#3d3d3d" stroke-width="1"/>
</svg>
</body></html>
